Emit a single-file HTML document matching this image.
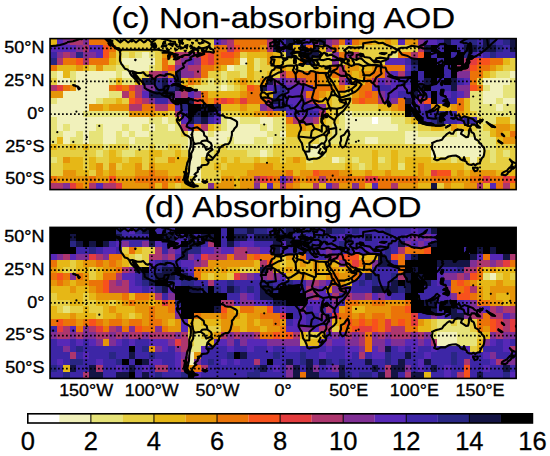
<!DOCTYPE html>
<html><head><meta charset="utf-8"><style>
html,body{margin:0;padding:0;background:#fff;}
body{width:550px;height:456px;overflow:hidden;position:relative;}
svg{position:absolute;left:0;top:0;}
text{font-family:"Liberation Sans",sans-serif;fill:#000;}
</style></head><body>
<svg width="550" height="456" viewBox="0 0 550 456">
<g shape-rendering="crispEdges"><rect x="50.04" y="38.60" width="6.61" height="6.62" fill="#e6b716"/>
<rect x="56.61" y="38.60" width="6.61" height="6.62" fill="#5728b7"/>
<rect x="63.17" y="38.60" width="6.61" height="6.62" fill="#802f95"/>
<rect x="69.74" y="38.60" width="13.18" height="6.62" fill="#ad366e"/>
<rect x="82.87" y="38.60" width="6.61" height="6.62" fill="#802f95"/>
<rect x="89.43" y="38.60" width="19.74" height="6.62" fill="#eb7308"/>
<rect x="109.13" y="38.60" width="105.09" height="6.62" fill="#e6cf42"/>
<rect x="214.17" y="38.60" width="6.61" height="6.62" fill="#5728b7"/>
<rect x="220.73" y="38.60" width="6.61" height="6.62" fill="#802f95"/>
<rect x="227.30" y="38.60" width="6.61" height="6.62" fill="#ad366e"/>
<rect x="233.86" y="38.60" width="32.87" height="6.62" fill="#eb7308"/>
<rect x="266.69" y="38.60" width="6.61" height="6.62" fill="#ad366e"/>
<rect x="273.25" y="38.60" width="6.61" height="6.62" fill="#141444"/>
<rect x="279.82" y="38.60" width="6.62" height="6.62" fill="#3d26a6"/>
<rect x="286.38" y="38.60" width="6.61" height="6.62" fill="#141444"/>
<rect x="292.95" y="38.60" width="6.61" height="6.62" fill="#292684"/>
<rect x="299.51" y="38.60" width="6.61" height="6.62" fill="#3d26a6"/>
<rect x="306.08" y="38.60" width="6.61" height="6.62" fill="#5728b7"/>
<rect x="312.64" y="38.60" width="6.61" height="6.62" fill="#802f95"/>
<rect x="319.21" y="38.60" width="6.61" height="6.62" fill="#141444"/>
<rect x="325.77" y="38.60" width="6.61" height="6.62" fill="#802f95"/>
<rect x="332.34" y="38.60" width="6.61" height="6.62" fill="#ad366e"/>
<rect x="338.90" y="38.60" width="6.61" height="6.62" fill="#eb7308"/>
<rect x="345.47" y="38.60" width="6.61" height="6.62" fill="#5728b7"/>
<rect x="352.03" y="38.60" width="6.61" height="6.62" fill="#eb7308"/>
<rect x="358.60" y="38.60" width="13.18" height="6.62" fill="#e69509"/>
<rect x="371.73" y="38.60" width="13.18" height="6.62" fill="#e6b716"/>
<rect x="384.86" y="38.60" width="6.61" height="6.62" fill="#e69509"/>
<rect x="391.42" y="38.60" width="6.61" height="6.62" fill="#e6b716"/>
<rect x="397.99" y="38.60" width="6.61" height="6.62" fill="#5728b7"/>
<rect x="404.55" y="38.60" width="13.18" height="6.62" fill="#e69509"/>
<rect x="417.68" y="38.60" width="6.62" height="6.62" fill="#802f95"/>
<rect x="424.25" y="38.60" width="13.18" height="6.62" fill="#5728b7"/>
<rect x="437.38" y="38.60" width="6.61" height="6.62" fill="#3d26a6"/>
<rect x="443.94" y="38.60" width="6.62" height="6.62" fill="#141444"/>
<rect x="450.51" y="38.60" width="13.18" height="6.62" fill="#3d26a6"/>
<rect x="463.64" y="38.60" width="13.18" height="6.62" fill="#292684"/>
<rect x="476.77" y="38.60" width="6.61" height="6.62" fill="#3d26a6"/>
<rect x="483.33" y="38.60" width="6.62" height="6.62" fill="#141444"/>
<rect x="489.90" y="38.60" width="6.61" height="6.62" fill="#292684"/>
<rect x="496.46" y="38.60" width="6.62" height="6.62" fill="#3d26a6"/>
<rect x="503.03" y="38.60" width="6.61" height="6.62" fill="#292684"/>
<rect x="509.59" y="38.60" width="6.62" height="6.62" fill="#141444"/>
<rect x="50.04" y="45.17" width="26.31" height="6.61" fill="#5728b7"/>
<rect x="76.30" y="45.17" width="6.61" height="6.61" fill="#802f95"/>
<rect x="82.87" y="45.17" width="6.61" height="6.61" fill="#ad366e"/>
<rect x="89.43" y="45.17" width="13.18" height="6.61" fill="#5728b7"/>
<rect x="102.56" y="45.17" width="6.61" height="6.61" fill="#f8511c"/>
<rect x="109.13" y="45.17" width="6.61" height="6.61" fill="#eb7308"/>
<rect x="115.69" y="45.17" width="98.52" height="6.61" fill="#e6cf42"/>
<rect x="214.17" y="45.17" width="13.18" height="6.61" fill="#eb7308"/>
<rect x="227.30" y="45.17" width="6.61" height="6.61" fill="#ad366e"/>
<rect x="233.86" y="45.17" width="6.61" height="6.61" fill="#f8511c"/>
<rect x="240.43" y="45.17" width="19.74" height="6.61" fill="#eb7308"/>
<rect x="260.12" y="45.17" width="6.61" height="6.61" fill="#e69509"/>
<rect x="266.69" y="45.17" width="6.61" height="6.61" fill="#ad366e"/>
<rect x="273.25" y="45.17" width="6.61" height="6.61" fill="#141444"/>
<rect x="279.82" y="45.17" width="6.62" height="6.61" fill="#5728b7"/>
<rect x="286.38" y="45.17" width="6.61" height="6.61" fill="#141444"/>
<rect x="292.95" y="45.17" width="6.61" height="6.61" fill="#e6b716"/>
<rect x="299.51" y="45.17" width="6.61" height="6.61" fill="#141444"/>
<rect x="306.08" y="45.17" width="6.61" height="6.61" fill="#eb7308"/>
<rect x="312.64" y="45.17" width="6.61" height="6.61" fill="#141444"/>
<rect x="319.21" y="45.17" width="6.61" height="6.61" fill="#e6b716"/>
<rect x="325.77" y="45.17" width="6.61" height="6.61" fill="#802f95"/>
<rect x="332.34" y="45.17" width="6.61" height="6.61" fill="#eb7308"/>
<rect x="338.90" y="45.17" width="13.18" height="6.61" fill="#e6cf42"/>
<rect x="352.03" y="45.17" width="6.61" height="6.61" fill="#e6b716"/>
<rect x="358.60" y="45.17" width="59.13" height="6.61" fill="#e6cf42"/>
<rect x="417.68" y="45.17" width="6.62" height="6.61" fill="#ad366e"/>
<rect x="424.25" y="45.17" width="6.61" height="6.61" fill="#141444"/>
<rect x="430.81" y="45.17" width="6.62" height="6.61" fill="#000000"/>
<rect x="437.38" y="45.17" width="6.61" height="6.61" fill="#3d26a6"/>
<rect x="443.94" y="45.17" width="13.18" height="6.61" fill="#000000"/>
<rect x="457.07" y="45.17" width="6.62" height="6.61" fill="#3d26a6"/>
<rect x="463.64" y="45.17" width="13.18" height="6.61" fill="#141444"/>
<rect x="476.77" y="45.17" width="6.61" height="6.61" fill="#292684"/>
<rect x="483.33" y="45.17" width="13.18" height="6.61" fill="#141444"/>
<rect x="496.46" y="45.17" width="6.62" height="6.61" fill="#292684"/>
<rect x="503.03" y="45.17" width="6.61" height="6.61" fill="#3d26a6"/>
<rect x="509.59" y="45.17" width="6.62" height="6.61" fill="#141444"/>
<rect x="50.04" y="51.73" width="6.61" height="6.62" fill="#3d26a6"/>
<rect x="56.61" y="51.73" width="6.61" height="6.62" fill="#802f95"/>
<rect x="63.17" y="51.73" width="6.61" height="6.62" fill="#ad366e"/>
<rect x="69.74" y="51.73" width="6.61" height="6.62" fill="#802f95"/>
<rect x="76.30" y="51.73" width="6.61" height="6.62" fill="#292684"/>
<rect x="82.87" y="51.73" width="13.18" height="6.62" fill="#802f95"/>
<rect x="96.00" y="51.73" width="6.61" height="6.62" fill="#5728b7"/>
<rect x="102.56" y="51.73" width="6.61" height="6.62" fill="#f8511c"/>
<rect x="109.13" y="51.73" width="6.61" height="6.62" fill="#e69509"/>
<rect x="115.69" y="51.73" width="6.61" height="6.62" fill="#e6cf42"/>
<rect x="122.26" y="51.73" width="6.61" height="6.62" fill="#e6e379"/>
<rect x="128.82" y="51.73" width="6.61" height="6.62" fill="#e6cf42"/>
<rect x="135.39" y="51.73" width="6.61" height="6.62" fill="#e6e379"/>
<rect x="141.95" y="51.73" width="6.62" height="6.62" fill="#f1f1bb"/>
<rect x="148.52" y="51.73" width="6.61" height="6.62" fill="#e6e379"/>
<rect x="155.08" y="51.73" width="6.61" height="6.62" fill="#e6cf42"/>
<rect x="161.65" y="51.73" width="6.61" height="6.62" fill="#e69509"/>
<rect x="168.21" y="51.73" width="6.61" height="6.62" fill="#eb7308"/>
<rect x="174.78" y="51.73" width="13.18" height="6.62" fill="#ad366e"/>
<rect x="187.91" y="51.73" width="6.61" height="6.62" fill="#802f95"/>
<rect x="194.47" y="51.73" width="6.61" height="6.62" fill="#ad366e"/>
<rect x="201.04" y="51.73" width="6.61" height="6.62" fill="#f8511c"/>
<rect x="207.60" y="51.73" width="6.61" height="6.62" fill="#e43c3e"/>
<rect x="214.17" y="51.73" width="6.61" height="6.62" fill="#eb7308"/>
<rect x="220.73" y="51.73" width="13.18" height="6.62" fill="#f8511c"/>
<rect x="233.86" y="51.73" width="6.61" height="6.62" fill="#eb7308"/>
<rect x="240.43" y="51.73" width="6.61" height="6.62" fill="#e6cf42"/>
<rect x="246.99" y="51.73" width="19.74" height="6.62" fill="#e6b716"/>
<rect x="266.69" y="51.73" width="6.61" height="6.62" fill="#e69509"/>
<rect x="273.25" y="51.73" width="6.61" height="6.62" fill="#e6b716"/>
<rect x="279.82" y="51.73" width="6.62" height="6.62" fill="#e6cf42"/>
<rect x="286.38" y="51.73" width="6.61" height="6.62" fill="#141444"/>
<rect x="292.95" y="51.73" width="6.61" height="6.62" fill="#e6cf42"/>
<rect x="299.51" y="51.73" width="19.74" height="6.62" fill="#141444"/>
<rect x="319.21" y="51.73" width="13.18" height="6.62" fill="#e6cf42"/>
<rect x="332.34" y="51.73" width="6.61" height="6.62" fill="#802f95"/>
<rect x="338.90" y="51.73" width="6.61" height="6.62" fill="#eb7308"/>
<rect x="345.47" y="51.73" width="6.61" height="6.62" fill="#802f95"/>
<rect x="352.03" y="51.73" width="6.61" height="6.62" fill="#ad366e"/>
<rect x="358.60" y="51.73" width="32.87" height="6.62" fill="#e6cf42"/>
<rect x="391.42" y="51.73" width="6.61" height="6.62" fill="#e6e379"/>
<rect x="397.99" y="51.73" width="13.18" height="6.62" fill="#eb7308"/>
<rect x="411.12" y="51.73" width="6.61" height="6.62" fill="#ad366e"/>
<rect x="417.68" y="51.73" width="6.62" height="6.62" fill="#f8511c"/>
<rect x="424.25" y="51.73" width="6.61" height="6.62" fill="#000000"/>
<rect x="430.81" y="51.73" width="6.62" height="6.62" fill="#3d26a6"/>
<rect x="437.38" y="51.73" width="13.18" height="6.62" fill="#000000"/>
<rect x="450.51" y="51.73" width="6.61" height="6.62" fill="#3d26a6"/>
<rect x="457.07" y="51.73" width="6.62" height="6.62" fill="#000000"/>
<rect x="463.64" y="51.73" width="6.61" height="6.62" fill="#292684"/>
<rect x="470.20" y="51.73" width="6.62" height="6.62" fill="#3d26a6"/>
<rect x="476.77" y="51.73" width="6.61" height="6.62" fill="#5728b7"/>
<rect x="483.33" y="51.73" width="6.62" height="6.62" fill="#3d26a6"/>
<rect x="489.90" y="51.73" width="6.61" height="6.62" fill="#292684"/>
<rect x="496.46" y="51.73" width="19.75" height="6.62" fill="#3d26a6"/>
<rect x="50.04" y="58.30" width="6.61" height="6.61" fill="#292684"/>
<rect x="56.61" y="58.30" width="6.61" height="6.61" fill="#ad366e"/>
<rect x="63.17" y="58.30" width="13.18" height="6.61" fill="#eb7308"/>
<rect x="76.30" y="58.30" width="6.61" height="6.61" fill="#f8511c"/>
<rect x="82.87" y="58.30" width="6.61" height="6.61" fill="#ad366e"/>
<rect x="89.43" y="58.30" width="19.74" height="6.61" fill="#eb7308"/>
<rect x="109.13" y="58.30" width="6.61" height="6.61" fill="#e6b716"/>
<rect x="115.69" y="58.30" width="6.61" height="6.61" fill="#e6cf42"/>
<rect x="122.26" y="58.30" width="32.88" height="6.61" fill="#f1f1bb"/>
<rect x="155.08" y="58.30" width="6.61" height="6.61" fill="#e6cf42"/>
<rect x="161.65" y="58.30" width="6.61" height="6.61" fill="#eb7308"/>
<rect x="168.21" y="58.30" width="6.61" height="6.61" fill="#e6cf42"/>
<rect x="174.78" y="58.30" width="6.61" height="6.61" fill="#ad366e"/>
<rect x="181.34" y="58.30" width="6.61" height="6.61" fill="#802f95"/>
<rect x="187.91" y="58.30" width="6.61" height="6.61" fill="#5728b7"/>
<rect x="194.47" y="58.30" width="6.61" height="6.61" fill="#802f95"/>
<rect x="201.04" y="58.30" width="6.61" height="6.61" fill="#f8511c"/>
<rect x="207.60" y="58.30" width="6.61" height="6.61" fill="#e43c3e"/>
<rect x="214.17" y="58.30" width="19.74" height="6.61" fill="#eb7308"/>
<rect x="233.86" y="58.30" width="6.61" height="6.61" fill="#e69509"/>
<rect x="240.43" y="58.30" width="6.61" height="6.61" fill="#f1f1bb"/>
<rect x="246.99" y="58.30" width="6.62" height="6.61" fill="#e6b716"/>
<rect x="253.56" y="58.30" width="6.61" height="6.61" fill="#e6e379"/>
<rect x="260.12" y="58.30" width="6.61" height="6.61" fill="#e6cf42"/>
<rect x="266.69" y="58.30" width="6.61" height="6.61" fill="#e69509"/>
<rect x="273.25" y="58.30" width="6.61" height="6.61" fill="#e6b716"/>
<rect x="279.82" y="58.30" width="19.75" height="6.61" fill="#e6cf42"/>
<rect x="299.51" y="58.30" width="6.61" height="6.61" fill="#eb7308"/>
<rect x="306.08" y="58.30" width="6.61" height="6.61" fill="#141444"/>
<rect x="312.64" y="58.30" width="19.74" height="6.61" fill="#e6cf42"/>
<rect x="332.34" y="58.30" width="6.61" height="6.61" fill="#802f95"/>
<rect x="338.90" y="58.30" width="6.61" height="6.61" fill="#e6cf42"/>
<rect x="345.47" y="58.30" width="6.61" height="6.61" fill="#e6b716"/>
<rect x="352.03" y="58.30" width="32.87" height="6.61" fill="#e6cf42"/>
<rect x="384.86" y="58.30" width="19.74" height="6.61" fill="#5728b7"/>
<rect x="404.55" y="58.30" width="6.61" height="6.61" fill="#3d26a6"/>
<rect x="411.12" y="58.30" width="6.61" height="6.61" fill="#141444"/>
<rect x="417.68" y="58.30" width="19.75" height="6.61" fill="#000000"/>
<rect x="437.38" y="58.30" width="6.61" height="6.61" fill="#3d26a6"/>
<rect x="443.94" y="58.30" width="19.75" height="6.61" fill="#000000"/>
<rect x="463.64" y="58.30" width="6.61" height="6.61" fill="#ad366e"/>
<rect x="470.20" y="58.30" width="6.62" height="6.61" fill="#e43c3e"/>
<rect x="476.77" y="58.30" width="13.18" height="6.61" fill="#f8511c"/>
<rect x="489.90" y="58.30" width="13.18" height="6.61" fill="#eb7308"/>
<rect x="503.03" y="58.30" width="6.61" height="6.61" fill="#e6b716"/>
<rect x="509.59" y="58.30" width="6.62" height="6.61" fill="#e6cf42"/>
<rect x="50.04" y="64.86" width="6.61" height="6.61" fill="#eb7308"/>
<rect x="56.61" y="64.86" width="19.74" height="6.61" fill="#e6b716"/>
<rect x="76.30" y="64.86" width="6.61" height="6.61" fill="#e69509"/>
<rect x="82.87" y="64.86" width="6.61" height="6.61" fill="#e6b716"/>
<rect x="89.43" y="64.86" width="6.61" height="6.61" fill="#e6cf42"/>
<rect x="96.00" y="64.86" width="6.61" height="6.61" fill="#e69509"/>
<rect x="102.56" y="64.86" width="13.18" height="6.61" fill="#e6cf42"/>
<rect x="115.69" y="64.86" width="13.18" height="6.61" fill="#e6e379"/>
<rect x="128.82" y="64.86" width="19.75" height="6.61" fill="#f1f1bb"/>
<rect x="148.52" y="64.86" width="6.61" height="6.61" fill="#e6e379"/>
<rect x="155.08" y="64.86" width="6.61" height="6.61" fill="#e6cf42"/>
<rect x="161.65" y="64.86" width="6.61" height="6.61" fill="#eb7308"/>
<rect x="168.21" y="64.86" width="6.61" height="6.61" fill="#f8511c"/>
<rect x="174.78" y="64.86" width="13.18" height="6.61" fill="#802f95"/>
<rect x="187.91" y="64.86" width="13.18" height="6.61" fill="#ad366e"/>
<rect x="201.04" y="64.86" width="13.18" height="6.61" fill="#eb7308"/>
<rect x="214.17" y="64.86" width="6.61" height="6.61" fill="#e69509"/>
<rect x="220.73" y="64.86" width="6.61" height="6.61" fill="#e6b716"/>
<rect x="227.30" y="64.86" width="6.61" height="6.61" fill="#f1f1bb"/>
<rect x="233.86" y="64.86" width="13.18" height="6.61" fill="#e6e379"/>
<rect x="246.99" y="64.86" width="6.62" height="6.61" fill="#e6b716"/>
<rect x="253.56" y="64.86" width="6.61" height="6.61" fill="#e6e379"/>
<rect x="260.12" y="64.86" width="13.18" height="6.61" fill="#e6cf42"/>
<rect x="273.25" y="64.86" width="6.61" height="6.61" fill="#e6b716"/>
<rect x="279.82" y="64.86" width="6.62" height="6.61" fill="#e69509"/>
<rect x="286.38" y="64.86" width="6.61" height="6.61" fill="#e6b716"/>
<rect x="292.95" y="64.86" width="19.74" height="6.61" fill="#e6cf42"/>
<rect x="312.64" y="64.86" width="13.18" height="6.61" fill="#e6b716"/>
<rect x="325.77" y="64.86" width="6.61" height="6.61" fill="#e6cf42"/>
<rect x="332.34" y="64.86" width="6.61" height="6.61" fill="#eb7308"/>
<rect x="338.90" y="64.86" width="6.61" height="6.61" fill="#ad366e"/>
<rect x="345.47" y="64.86" width="13.18" height="6.61" fill="#e69509"/>
<rect x="358.60" y="64.86" width="13.18" height="6.61" fill="#e6b716"/>
<rect x="371.73" y="64.86" width="6.61" height="6.61" fill="#e69509"/>
<rect x="378.29" y="64.86" width="26.31" height="6.61" fill="#eb7308"/>
<rect x="404.55" y="64.86" width="6.61" height="6.61" fill="#5728b7"/>
<rect x="411.12" y="64.86" width="6.61" height="6.61" fill="#292684"/>
<rect x="417.68" y="64.86" width="26.31" height="6.61" fill="#000000"/>
<rect x="443.94" y="64.86" width="6.62" height="6.61" fill="#3d26a6"/>
<rect x="450.51" y="64.86" width="6.61" height="6.61" fill="#000000"/>
<rect x="457.07" y="64.86" width="13.18" height="6.61" fill="#ad366e"/>
<rect x="470.20" y="64.86" width="6.62" height="6.61" fill="#f8511c"/>
<rect x="476.77" y="64.86" width="13.18" height="6.61" fill="#eb7308"/>
<rect x="489.90" y="64.86" width="6.61" height="6.61" fill="#e69509"/>
<rect x="496.46" y="64.86" width="6.62" height="6.61" fill="#e6b716"/>
<rect x="503.03" y="64.86" width="13.18" height="6.61" fill="#e6cf42"/>
<rect x="50.04" y="71.43" width="6.61" height="6.61" fill="#e6e379"/>
<rect x="56.61" y="71.43" width="6.61" height="6.61" fill="#f1f1bb"/>
<rect x="63.17" y="71.43" width="6.61" height="6.61" fill="#e6b716"/>
<rect x="69.74" y="71.43" width="6.61" height="6.61" fill="#e6e379"/>
<rect x="76.30" y="71.43" width="39.44" height="6.61" fill="#f1f1bb"/>
<rect x="115.69" y="71.43" width="6.61" height="6.61" fill="#e6e379"/>
<rect x="122.26" y="71.43" width="13.18" height="6.61" fill="#f1f1bb"/>
<rect x="135.39" y="71.43" width="6.61" height="6.61" fill="#e6e379"/>
<rect x="141.95" y="71.43" width="6.62" height="6.61" fill="#e6cf42"/>
<rect x="148.52" y="71.43" width="13.18" height="6.61" fill="#ad366e"/>
<rect x="161.65" y="71.43" width="6.61" height="6.61" fill="#802f95"/>
<rect x="168.21" y="71.43" width="6.61" height="6.61" fill="#e69509"/>
<rect x="174.78" y="71.43" width="6.61" height="6.61" fill="#141444"/>
<rect x="181.34" y="71.43" width="13.18" height="6.61" fill="#802f95"/>
<rect x="194.47" y="71.43" width="6.61" height="6.61" fill="#ad366e"/>
<rect x="201.04" y="71.43" width="6.61" height="6.61" fill="#eb7308"/>
<rect x="207.60" y="71.43" width="13.18" height="6.61" fill="#e6cf42"/>
<rect x="220.73" y="71.43" width="6.61" height="6.61" fill="#e6e379"/>
<rect x="227.30" y="71.43" width="13.18" height="6.61" fill="#e6cf42"/>
<rect x="240.43" y="71.43" width="6.61" height="6.61" fill="#e6e379"/>
<rect x="246.99" y="71.43" width="6.62" height="6.61" fill="#e6b716"/>
<rect x="253.56" y="71.43" width="13.18" height="6.61" fill="#e6cf42"/>
<rect x="266.69" y="71.43" width="6.61" height="6.61" fill="#e6b716"/>
<rect x="273.25" y="71.43" width="6.61" height="6.61" fill="#e6cf42"/>
<rect x="279.82" y="71.43" width="6.62" height="6.61" fill="#ad366e"/>
<rect x="286.38" y="71.43" width="32.87" height="6.61" fill="#eb7308"/>
<rect x="319.21" y="71.43" width="6.61" height="6.61" fill="#e69509"/>
<rect x="325.77" y="71.43" width="6.61" height="6.61" fill="#e6b716"/>
<rect x="332.34" y="71.43" width="6.61" height="6.61" fill="#eb7308"/>
<rect x="338.90" y="71.43" width="6.61" height="6.61" fill="#ad366e"/>
<rect x="345.47" y="71.43" width="6.61" height="6.61" fill="#e69509"/>
<rect x="352.03" y="71.43" width="6.61" height="6.61" fill="#e6b716"/>
<rect x="358.60" y="71.43" width="13.18" height="6.61" fill="#e69509"/>
<rect x="371.73" y="71.43" width="13.18" height="6.61" fill="#eb7308"/>
<rect x="384.86" y="71.43" width="6.61" height="6.61" fill="#802f95"/>
<rect x="391.42" y="71.43" width="6.61" height="6.61" fill="#5728b7"/>
<rect x="397.99" y="71.43" width="6.61" height="6.61" fill="#ad366e"/>
<rect x="404.55" y="71.43" width="6.61" height="6.61" fill="#3d26a6"/>
<rect x="411.12" y="71.43" width="6.61" height="6.61" fill="#000000"/>
<rect x="417.68" y="71.43" width="6.62" height="6.61" fill="#3d26a6"/>
<rect x="424.25" y="71.43" width="19.74" height="6.61" fill="#000000"/>
<rect x="443.94" y="71.43" width="6.62" height="6.61" fill="#3d26a6"/>
<rect x="450.51" y="71.43" width="6.61" height="6.61" fill="#000000"/>
<rect x="457.07" y="71.43" width="13.18" height="6.61" fill="#802f95"/>
<rect x="470.20" y="71.43" width="13.18" height="6.61" fill="#eb7308"/>
<rect x="483.33" y="71.43" width="6.62" height="6.61" fill="#e6b716"/>
<rect x="489.90" y="71.43" width="6.61" height="6.61" fill="#e6cf42"/>
<rect x="496.46" y="71.43" width="13.18" height="6.61" fill="#e6e379"/>
<rect x="509.59" y="71.43" width="6.62" height="6.61" fill="#f1f1bb"/>
<rect x="50.04" y="77.99" width="6.61" height="6.61" fill="#e6cf42"/>
<rect x="56.61" y="77.99" width="13.18" height="6.61" fill="#f1f1bb"/>
<rect x="69.74" y="77.99" width="6.61" height="6.61" fill="#e6e379"/>
<rect x="76.30" y="77.99" width="32.87" height="6.61" fill="#f1f1bb"/>
<rect x="109.13" y="77.99" width="6.61" height="6.61" fill="#e6e379"/>
<rect x="115.69" y="77.99" width="6.61" height="6.61" fill="#e6b716"/>
<rect x="122.26" y="77.99" width="13.18" height="6.61" fill="#e6e379"/>
<rect x="135.39" y="77.99" width="6.61" height="6.61" fill="#e6b716"/>
<rect x="141.95" y="77.99" width="13.18" height="6.61" fill="#141444"/>
<rect x="155.08" y="77.99" width="6.61" height="6.61" fill="#292684"/>
<rect x="161.65" y="77.99" width="6.61" height="6.61" fill="#141444"/>
<rect x="168.21" y="77.99" width="6.61" height="6.61" fill="#5728b7"/>
<rect x="174.78" y="77.99" width="6.61" height="6.61" fill="#141444"/>
<rect x="181.34" y="77.99" width="6.61" height="6.61" fill="#e6b716"/>
<rect x="187.91" y="77.99" width="6.61" height="6.61" fill="#eb7308"/>
<rect x="194.47" y="77.99" width="6.61" height="6.61" fill="#e69509"/>
<rect x="201.04" y="77.99" width="6.61" height="6.61" fill="#e6cf42"/>
<rect x="207.60" y="77.99" width="6.61" height="6.61" fill="#e6e379"/>
<rect x="214.17" y="77.99" width="6.61" height="6.61" fill="#e6cf42"/>
<rect x="220.73" y="77.99" width="6.61" height="6.61" fill="#e6e379"/>
<rect x="227.30" y="77.99" width="6.61" height="6.61" fill="#e6cf42"/>
<rect x="233.86" y="77.99" width="6.61" height="6.61" fill="#e6b716"/>
<rect x="240.43" y="77.99" width="6.61" height="6.61" fill="#e69509"/>
<rect x="246.99" y="77.99" width="6.62" height="6.61" fill="#e6b716"/>
<rect x="253.56" y="77.99" width="6.61" height="6.61" fill="#e6cf42"/>
<rect x="260.12" y="77.99" width="6.61" height="6.61" fill="#e69509"/>
<rect x="266.69" y="77.99" width="6.61" height="6.61" fill="#141444"/>
<rect x="273.25" y="77.99" width="6.61" height="6.61" fill="#802f95"/>
<rect x="279.82" y="77.99" width="6.62" height="6.61" fill="#5728b7"/>
<rect x="286.38" y="77.99" width="13.18" height="6.61" fill="#802f95"/>
<rect x="299.51" y="77.99" width="6.61" height="6.61" fill="#ad366e"/>
<rect x="306.08" y="77.99" width="13.18" height="6.61" fill="#eb7308"/>
<rect x="319.21" y="77.99" width="6.61" height="6.61" fill="#e69509"/>
<rect x="325.77" y="77.99" width="13.18" height="6.61" fill="#e6b716"/>
<rect x="338.90" y="77.99" width="6.61" height="6.61" fill="#ad366e"/>
<rect x="345.47" y="77.99" width="6.61" height="6.61" fill="#5728b7"/>
<rect x="352.03" y="77.99" width="13.18" height="6.61" fill="#e6b716"/>
<rect x="365.16" y="77.99" width="6.61" height="6.61" fill="#eb7308"/>
<rect x="371.73" y="77.99" width="6.61" height="6.61" fill="#ad366e"/>
<rect x="378.29" y="77.99" width="6.61" height="6.61" fill="#5728b7"/>
<rect x="384.86" y="77.99" width="6.61" height="6.61" fill="#802f95"/>
<rect x="391.42" y="77.99" width="6.61" height="6.61" fill="#5728b7"/>
<rect x="397.99" y="77.99" width="13.18" height="6.61" fill="#3d26a6"/>
<rect x="411.12" y="77.99" width="6.61" height="6.61" fill="#000000"/>
<rect x="417.68" y="77.99" width="6.62" height="6.61" fill="#3d26a6"/>
<rect x="424.25" y="77.99" width="6.61" height="6.61" fill="#141444"/>
<rect x="430.81" y="77.99" width="6.62" height="6.61" fill="#000000"/>
<rect x="437.38" y="77.99" width="6.61" height="6.61" fill="#3d26a6"/>
<rect x="443.94" y="77.99" width="6.62" height="6.61" fill="#000000"/>
<rect x="450.51" y="77.99" width="6.61" height="6.61" fill="#141444"/>
<rect x="457.07" y="77.99" width="6.62" height="6.61" fill="#3d26a6"/>
<rect x="463.64" y="77.99" width="6.61" height="6.61" fill="#5728b7"/>
<rect x="470.20" y="77.99" width="6.62" height="6.61" fill="#eb7308"/>
<rect x="476.77" y="77.99" width="6.61" height="6.61" fill="#e6cf42"/>
<rect x="483.33" y="77.99" width="26.31" height="6.61" fill="#f1f1bb"/>
<rect x="509.59" y="77.99" width="6.62" height="6.61" fill="#e6e379"/>
<rect x="50.04" y="84.56" width="6.61" height="6.62" fill="#ad366e"/>
<rect x="56.61" y="84.56" width="6.61" height="6.62" fill="#e43c3e"/>
<rect x="63.17" y="84.56" width="6.61" height="6.62" fill="#eb7308"/>
<rect x="69.74" y="84.56" width="6.61" height="6.62" fill="#e69509"/>
<rect x="76.30" y="84.56" width="32.87" height="6.62" fill="#f1f1bb"/>
<rect x="109.13" y="84.56" width="6.61" height="6.62" fill="#eb7308"/>
<rect x="115.69" y="84.56" width="6.61" height="6.62" fill="#f8511c"/>
<rect x="122.26" y="84.56" width="6.61" height="6.62" fill="#eb7308"/>
<rect x="128.82" y="84.56" width="6.61" height="6.62" fill="#e43c3e"/>
<rect x="135.39" y="84.56" width="6.61" height="6.62" fill="#ad366e"/>
<rect x="141.95" y="84.56" width="13.18" height="6.62" fill="#802f95"/>
<rect x="155.08" y="84.56" width="6.61" height="6.62" fill="#292684"/>
<rect x="161.65" y="84.56" width="6.61" height="6.62" fill="#141444"/>
<rect x="168.21" y="84.56" width="6.61" height="6.62" fill="#292684"/>
<rect x="174.78" y="84.56" width="6.61" height="6.62" fill="#141444"/>
<rect x="181.34" y="84.56" width="6.61" height="6.62" fill="#eb7308"/>
<rect x="187.91" y="84.56" width="6.61" height="6.62" fill="#e6cf42"/>
<rect x="194.47" y="84.56" width="26.31" height="6.62" fill="#e6e379"/>
<rect x="220.73" y="84.56" width="6.61" height="6.62" fill="#f1f1bb"/>
<rect x="227.30" y="84.56" width="6.61" height="6.62" fill="#e6e379"/>
<rect x="233.86" y="84.56" width="6.61" height="6.62" fill="#e6cf42"/>
<rect x="240.43" y="84.56" width="6.61" height="6.62" fill="#e6b716"/>
<rect x="246.99" y="84.56" width="6.62" height="6.62" fill="#f8511c"/>
<rect x="253.56" y="84.56" width="6.61" height="6.62" fill="#eb7308"/>
<rect x="260.12" y="84.56" width="6.61" height="6.62" fill="#141444"/>
<rect x="266.69" y="84.56" width="6.61" height="6.62" fill="#5728b7"/>
<rect x="273.25" y="84.56" width="6.61" height="6.62" fill="#3d26a6"/>
<rect x="279.82" y="84.56" width="6.62" height="6.62" fill="#292684"/>
<rect x="286.38" y="84.56" width="26.31" height="6.62" fill="#5728b7"/>
<rect x="312.64" y="84.56" width="19.74" height="6.62" fill="#eb7308"/>
<rect x="332.34" y="84.56" width="6.61" height="6.62" fill="#e69509"/>
<rect x="338.90" y="84.56" width="6.61" height="6.62" fill="#eb7308"/>
<rect x="345.47" y="84.56" width="13.18" height="6.62" fill="#e6b716"/>
<rect x="358.60" y="84.56" width="13.18" height="6.62" fill="#eb7308"/>
<rect x="371.73" y="84.56" width="6.61" height="6.62" fill="#5728b7"/>
<rect x="378.29" y="84.56" width="13.18" height="6.62" fill="#3d26a6"/>
<rect x="391.42" y="84.56" width="19.74" height="6.62" fill="#5728b7"/>
<rect x="411.12" y="84.56" width="6.61" height="6.62" fill="#000000"/>
<rect x="417.68" y="84.56" width="6.62" height="6.62" fill="#141444"/>
<rect x="424.25" y="84.56" width="6.61" height="6.62" fill="#000000"/>
<rect x="430.81" y="84.56" width="19.75" height="6.62" fill="#3d26a6"/>
<rect x="450.51" y="84.56" width="6.61" height="6.62" fill="#141444"/>
<rect x="457.07" y="84.56" width="13.18" height="6.62" fill="#802f95"/>
<rect x="470.20" y="84.56" width="6.62" height="6.62" fill="#f8511c"/>
<rect x="476.77" y="84.56" width="6.61" height="6.62" fill="#eb7308"/>
<rect x="483.33" y="84.56" width="6.62" height="6.62" fill="#e6e379"/>
<rect x="489.90" y="84.56" width="13.18" height="6.62" fill="#f1f1bb"/>
<rect x="503.03" y="84.56" width="13.18" height="6.62" fill="#e6e379"/>
<rect x="50.04" y="91.12" width="13.18" height="6.61" fill="#e69509"/>
<rect x="63.17" y="91.12" width="46.00" height="6.61" fill="#f1f1bb"/>
<rect x="109.13" y="91.12" width="13.18" height="6.61" fill="#e6e379"/>
<rect x="122.26" y="91.12" width="6.61" height="6.61" fill="#ad366e"/>
<rect x="128.82" y="91.12" width="6.61" height="6.61" fill="#eb7308"/>
<rect x="135.39" y="91.12" width="6.61" height="6.61" fill="#ad366e"/>
<rect x="141.95" y="91.12" width="6.62" height="6.61" fill="#5728b7"/>
<rect x="148.52" y="91.12" width="26.31" height="6.61" fill="#141444"/>
<rect x="174.78" y="91.12" width="6.61" height="6.61" fill="#802f95"/>
<rect x="181.34" y="91.12" width="6.61" height="6.61" fill="#ad366e"/>
<rect x="187.91" y="91.12" width="6.61" height="6.61" fill="#5728b7"/>
<rect x="194.47" y="91.12" width="6.61" height="6.61" fill="#802f95"/>
<rect x="201.04" y="91.12" width="6.61" height="6.61" fill="#eb7308"/>
<rect x="207.60" y="91.12" width="32.87" height="6.61" fill="#e6b716"/>
<rect x="240.43" y="91.12" width="6.61" height="6.61" fill="#e69509"/>
<rect x="246.99" y="91.12" width="13.18" height="6.61" fill="#eb7308"/>
<rect x="260.12" y="91.12" width="13.18" height="6.61" fill="#e6b716"/>
<rect x="273.25" y="91.12" width="13.18" height="6.61" fill="#292684"/>
<rect x="286.38" y="91.12" width="13.18" height="6.61" fill="#5728b7"/>
<rect x="299.51" y="91.12" width="6.61" height="6.61" fill="#802f95"/>
<rect x="306.08" y="91.12" width="13.18" height="6.61" fill="#eb7308"/>
<rect x="319.21" y="91.12" width="6.61" height="6.61" fill="#e69509"/>
<rect x="325.77" y="91.12" width="6.61" height="6.61" fill="#e6b716"/>
<rect x="332.34" y="91.12" width="6.61" height="6.61" fill="#e6cf42"/>
<rect x="338.90" y="91.12" width="6.61" height="6.61" fill="#e6b716"/>
<rect x="345.47" y="91.12" width="6.61" height="6.61" fill="#e6cf42"/>
<rect x="352.03" y="91.12" width="6.61" height="6.61" fill="#e69509"/>
<rect x="358.60" y="91.12" width="6.61" height="6.61" fill="#eb7308"/>
<rect x="365.16" y="91.12" width="6.61" height="6.61" fill="#f8511c"/>
<rect x="371.73" y="91.12" width="6.61" height="6.61" fill="#eb7308"/>
<rect x="378.29" y="91.12" width="6.61" height="6.61" fill="#802f95"/>
<rect x="384.86" y="91.12" width="13.18" height="6.61" fill="#5728b7"/>
<rect x="397.99" y="91.12" width="13.18" height="6.61" fill="#3d26a6"/>
<rect x="411.12" y="91.12" width="6.61" height="6.61" fill="#141444"/>
<rect x="417.68" y="91.12" width="6.62" height="6.61" fill="#5728b7"/>
<rect x="424.25" y="91.12" width="6.61" height="6.61" fill="#3d26a6"/>
<rect x="430.81" y="91.12" width="6.62" height="6.61" fill="#000000"/>
<rect x="437.38" y="91.12" width="6.61" height="6.61" fill="#3d26a6"/>
<rect x="443.94" y="91.12" width="6.62" height="6.61" fill="#5728b7"/>
<rect x="450.51" y="91.12" width="6.61" height="6.61" fill="#3d26a6"/>
<rect x="457.07" y="91.12" width="6.62" height="6.61" fill="#5728b7"/>
<rect x="463.64" y="91.12" width="6.61" height="6.61" fill="#802f95"/>
<rect x="470.20" y="91.12" width="13.18" height="6.61" fill="#e6e379"/>
<rect x="483.33" y="91.12" width="19.75" height="6.61" fill="#f1f1bb"/>
<rect x="503.03" y="91.12" width="13.18" height="6.61" fill="#e6e379"/>
<rect x="50.04" y="97.69" width="6.61" height="6.61" fill="#e6e379"/>
<rect x="56.61" y="97.69" width="39.44" height="6.61" fill="#f1f1bb"/>
<rect x="96.00" y="97.69" width="6.61" height="6.61" fill="#e6e379"/>
<rect x="102.56" y="97.69" width="13.18" height="6.61" fill="#e6cf42"/>
<rect x="115.69" y="97.69" width="6.61" height="6.61" fill="#e6b716"/>
<rect x="122.26" y="97.69" width="6.61" height="6.61" fill="#e6cf42"/>
<rect x="128.82" y="97.69" width="6.61" height="6.61" fill="#f8511c"/>
<rect x="135.39" y="97.69" width="6.61" height="6.61" fill="#e43c3e"/>
<rect x="141.95" y="97.69" width="6.62" height="6.61" fill="#ad366e"/>
<rect x="148.52" y="97.69" width="6.61" height="6.61" fill="#802f95"/>
<rect x="155.08" y="97.69" width="13.18" height="6.61" fill="#3d26a6"/>
<rect x="168.21" y="97.69" width="6.61" height="6.61" fill="#802f95"/>
<rect x="174.78" y="97.69" width="13.18" height="6.61" fill="#000000"/>
<rect x="187.91" y="97.69" width="6.61" height="6.61" fill="#141444"/>
<rect x="194.47" y="97.69" width="6.61" height="6.61" fill="#e43c3e"/>
<rect x="201.04" y="97.69" width="6.61" height="6.61" fill="#eb7308"/>
<rect x="207.60" y="97.69" width="6.61" height="6.61" fill="#e69509"/>
<rect x="214.17" y="97.69" width="6.61" height="6.61" fill="#f8511c"/>
<rect x="220.73" y="97.69" width="6.61" height="6.61" fill="#e43c3e"/>
<rect x="227.30" y="97.69" width="6.61" height="6.61" fill="#f8511c"/>
<rect x="233.86" y="97.69" width="6.61" height="6.61" fill="#eb7308"/>
<rect x="240.43" y="97.69" width="6.61" height="6.61" fill="#e43c3e"/>
<rect x="246.99" y="97.69" width="19.74" height="6.61" fill="#eb7308"/>
<rect x="266.69" y="97.69" width="6.61" height="6.61" fill="#ad366e"/>
<rect x="273.25" y="97.69" width="6.61" height="6.61" fill="#141444"/>
<rect x="279.82" y="97.69" width="6.62" height="6.61" fill="#3d26a6"/>
<rect x="286.38" y="97.69" width="19.74" height="6.61" fill="#5728b7"/>
<rect x="306.08" y="97.69" width="6.61" height="6.61" fill="#ad366e"/>
<rect x="312.64" y="97.69" width="6.61" height="6.61" fill="#eb7308"/>
<rect x="319.21" y="97.69" width="13.18" height="6.61" fill="#e6b716"/>
<rect x="332.34" y="97.69" width="6.61" height="6.61" fill="#e6cf42"/>
<rect x="338.90" y="97.69" width="6.61" height="6.61" fill="#e6b716"/>
<rect x="345.47" y="97.69" width="6.61" height="6.61" fill="#e6cf42"/>
<rect x="352.03" y="97.69" width="6.61" height="6.61" fill="#eb7308"/>
<rect x="358.60" y="97.69" width="6.61" height="6.61" fill="#f8511c"/>
<rect x="365.16" y="97.69" width="13.18" height="6.61" fill="#eb7308"/>
<rect x="378.29" y="97.69" width="6.61" height="6.61" fill="#ad366e"/>
<rect x="384.86" y="97.69" width="6.61" height="6.61" fill="#5728b7"/>
<rect x="391.42" y="97.69" width="6.61" height="6.61" fill="#802f95"/>
<rect x="397.99" y="97.69" width="6.61" height="6.61" fill="#eb7308"/>
<rect x="404.55" y="97.69" width="6.61" height="6.61" fill="#141444"/>
<rect x="411.12" y="97.69" width="6.61" height="6.61" fill="#5728b7"/>
<rect x="417.68" y="97.69" width="6.62" height="6.61" fill="#ad366e"/>
<rect x="424.25" y="97.69" width="6.61" height="6.61" fill="#f8511c"/>
<rect x="430.81" y="97.69" width="6.62" height="6.61" fill="#000000"/>
<rect x="437.38" y="97.69" width="19.74" height="6.61" fill="#3d26a6"/>
<rect x="457.07" y="97.69" width="6.62" height="6.61" fill="#eb7308"/>
<rect x="463.64" y="97.69" width="6.61" height="6.61" fill="#e6b716"/>
<rect x="470.20" y="97.69" width="13.18" height="6.61" fill="#e6e379"/>
<rect x="483.33" y="97.69" width="13.18" height="6.61" fill="#f1f1bb"/>
<rect x="496.46" y="97.69" width="6.62" height="6.61" fill="#e6e379"/>
<rect x="503.03" y="97.69" width="13.18" height="6.61" fill="#f1f1bb"/>
<rect x="50.04" y="104.25" width="39.44" height="6.61" fill="#f1f1bb"/>
<rect x="89.43" y="104.25" width="13.18" height="6.61" fill="#e69509"/>
<rect x="102.56" y="104.25" width="6.61" height="6.61" fill="#e6b716"/>
<rect x="109.13" y="104.25" width="19.74" height="6.61" fill="#e69509"/>
<rect x="128.82" y="104.25" width="13.18" height="6.61" fill="#ad366e"/>
<rect x="141.95" y="104.25" width="13.18" height="6.61" fill="#eb7308"/>
<rect x="155.08" y="104.25" width="13.18" height="6.61" fill="#ad366e"/>
<rect x="168.21" y="104.25" width="6.61" height="6.61" fill="#eb7308"/>
<rect x="174.78" y="104.25" width="6.61" height="6.61" fill="#5728b7"/>
<rect x="181.34" y="104.25" width="6.61" height="6.61" fill="#292684"/>
<rect x="187.91" y="104.25" width="13.18" height="6.61" fill="#000000"/>
<rect x="201.04" y="104.25" width="6.61" height="6.61" fill="#141444"/>
<rect x="207.60" y="104.25" width="6.61" height="6.61" fill="#000000"/>
<rect x="214.17" y="104.25" width="6.61" height="6.61" fill="#141444"/>
<rect x="220.73" y="104.25" width="19.74" height="6.61" fill="#e6b716"/>
<rect x="240.43" y="104.25" width="6.61" height="6.61" fill="#e69509"/>
<rect x="246.99" y="104.25" width="13.18" height="6.61" fill="#e6b716"/>
<rect x="260.12" y="104.25" width="6.61" height="6.61" fill="#802f95"/>
<rect x="266.69" y="104.25" width="6.61" height="6.61" fill="#ad366e"/>
<rect x="273.25" y="104.25" width="6.61" height="6.61" fill="#3d26a6"/>
<rect x="279.82" y="104.25" width="6.62" height="6.61" fill="#292684"/>
<rect x="286.38" y="104.25" width="6.61" height="6.61" fill="#3d26a6"/>
<rect x="292.95" y="104.25" width="6.61" height="6.61" fill="#5728b7"/>
<rect x="299.51" y="104.25" width="13.18" height="6.61" fill="#3d26a6"/>
<rect x="312.64" y="104.25" width="6.61" height="6.61" fill="#5728b7"/>
<rect x="319.21" y="104.25" width="6.61" height="6.61" fill="#802f95"/>
<rect x="325.77" y="104.25" width="6.61" height="6.61" fill="#e6b716"/>
<rect x="332.34" y="104.25" width="46.00" height="6.61" fill="#e6cf42"/>
<rect x="378.29" y="104.25" width="13.18" height="6.61" fill="#e6b716"/>
<rect x="391.42" y="104.25" width="6.61" height="6.61" fill="#e69509"/>
<rect x="397.99" y="104.25" width="6.61" height="6.61" fill="#eb7308"/>
<rect x="404.55" y="104.25" width="6.61" height="6.61" fill="#000000"/>
<rect x="411.12" y="104.25" width="6.61" height="6.61" fill="#3d26a6"/>
<rect x="417.68" y="104.25" width="6.62" height="6.61" fill="#5728b7"/>
<rect x="424.25" y="104.25" width="6.61" height="6.61" fill="#3d26a6"/>
<rect x="430.81" y="104.25" width="6.62" height="6.61" fill="#e69509"/>
<rect x="437.38" y="104.25" width="13.18" height="6.61" fill="#e6b716"/>
<rect x="450.51" y="104.25" width="6.61" height="6.61" fill="#e69509"/>
<rect x="457.07" y="104.25" width="6.62" height="6.61" fill="#eb7308"/>
<rect x="463.64" y="104.25" width="6.61" height="6.61" fill="#e6b716"/>
<rect x="470.20" y="104.25" width="26.31" height="6.61" fill="#e6e379"/>
<rect x="496.46" y="104.25" width="6.62" height="6.61" fill="#f1f1bb"/>
<rect x="503.03" y="104.25" width="13.18" height="6.61" fill="#e6e379"/>
<rect x="50.04" y="110.82" width="32.87" height="6.61" fill="#f1f1bb"/>
<rect x="82.87" y="110.82" width="46.00" height="6.61" fill="#e6e379"/>
<rect x="128.82" y="110.82" width="26.31" height="6.61" fill="#e69509"/>
<rect x="155.08" y="110.82" width="13.18" height="6.61" fill="#e6b716"/>
<rect x="168.21" y="110.82" width="6.61" height="6.61" fill="#e6cf42"/>
<rect x="174.78" y="110.82" width="6.61" height="6.61" fill="#ad366e"/>
<rect x="181.34" y="110.82" width="6.61" height="6.61" fill="#3d26a6"/>
<rect x="187.91" y="110.82" width="6.61" height="6.61" fill="#000000"/>
<rect x="194.47" y="110.82" width="6.61" height="6.61" fill="#141444"/>
<rect x="201.04" y="110.82" width="6.61" height="6.61" fill="#000000"/>
<rect x="207.60" y="110.82" width="6.61" height="6.61" fill="#141444"/>
<rect x="214.17" y="110.82" width="6.61" height="6.61" fill="#3d26a6"/>
<rect x="220.73" y="110.82" width="19.74" height="6.61" fill="#e6cf42"/>
<rect x="240.43" y="110.82" width="13.18" height="6.61" fill="#e6b716"/>
<rect x="253.56" y="110.82" width="13.18" height="6.61" fill="#e69509"/>
<rect x="266.69" y="110.82" width="6.61" height="6.61" fill="#eb7308"/>
<rect x="273.25" y="110.82" width="6.61" height="6.61" fill="#e69509"/>
<rect x="279.82" y="110.82" width="6.62" height="6.61" fill="#e6b716"/>
<rect x="286.38" y="110.82" width="6.61" height="6.61" fill="#5728b7"/>
<rect x="292.95" y="110.82" width="6.61" height="6.61" fill="#3d26a6"/>
<rect x="299.51" y="110.82" width="6.61" height="6.61" fill="#5728b7"/>
<rect x="306.08" y="110.82" width="13.18" height="6.61" fill="#3d26a6"/>
<rect x="319.21" y="110.82" width="6.61" height="6.61" fill="#ad366e"/>
<rect x="325.77" y="110.82" width="6.61" height="6.61" fill="#e6b716"/>
<rect x="332.34" y="110.82" width="6.61" height="6.61" fill="#e6cf42"/>
<rect x="338.90" y="110.82" width="6.61" height="6.61" fill="#e6e379"/>
<rect x="345.47" y="110.82" width="6.61" height="6.61" fill="#f1f1bb"/>
<rect x="352.03" y="110.82" width="39.44" height="6.61" fill="#e6e379"/>
<rect x="391.42" y="110.82" width="13.18" height="6.61" fill="#e6cf42"/>
<rect x="404.55" y="110.82" width="6.61" height="6.61" fill="#000000"/>
<rect x="411.12" y="110.82" width="6.61" height="6.61" fill="#141444"/>
<rect x="417.68" y="110.82" width="19.75" height="6.61" fill="#3d26a6"/>
<rect x="437.38" y="110.82" width="6.61" height="6.61" fill="#292684"/>
<rect x="443.94" y="110.82" width="13.18" height="6.61" fill="#3d26a6"/>
<rect x="457.07" y="110.82" width="6.62" height="6.61" fill="#e69509"/>
<rect x="463.64" y="110.82" width="6.61" height="6.61" fill="#e6b716"/>
<rect x="470.20" y="110.82" width="6.62" height="6.61" fill="#e6cf42"/>
<rect x="476.77" y="110.82" width="39.44" height="6.61" fill="#e6e379"/>
<rect x="50.04" y="117.38" width="6.61" height="6.61" fill="#e6e379"/>
<rect x="56.61" y="117.38" width="91.96" height="6.61" fill="#f1f1bb"/>
<rect x="148.52" y="117.38" width="13.18" height="6.61" fill="#e6e379"/>
<rect x="161.65" y="117.38" width="6.61" height="6.61" fill="#f1f1bb"/>
<rect x="168.21" y="117.38" width="6.61" height="6.61" fill="#e6e379"/>
<rect x="174.78" y="117.38" width="6.61" height="6.61" fill="#e6cf42"/>
<rect x="181.34" y="117.38" width="6.61" height="6.61" fill="#5728b7"/>
<rect x="187.91" y="117.38" width="6.61" height="6.61" fill="#141444"/>
<rect x="194.47" y="117.38" width="6.61" height="6.61" fill="#292684"/>
<rect x="201.04" y="117.38" width="6.61" height="6.61" fill="#141444"/>
<rect x="207.60" y="117.38" width="6.61" height="6.61" fill="#3d26a6"/>
<rect x="214.17" y="117.38" width="6.61" height="6.61" fill="#5728b7"/>
<rect x="220.73" y="117.38" width="6.61" height="6.61" fill="#e6e379"/>
<rect x="227.30" y="117.38" width="13.18" height="6.61" fill="#f1f1bb"/>
<rect x="240.43" y="117.38" width="19.74" height="6.61" fill="#e6e379"/>
<rect x="260.12" y="117.38" width="13.18" height="6.61" fill="#f1f1bb"/>
<rect x="273.25" y="117.38" width="13.18" height="6.61" fill="#e6e379"/>
<rect x="286.38" y="117.38" width="6.61" height="6.61" fill="#eb7308"/>
<rect x="292.95" y="117.38" width="6.61" height="6.61" fill="#ad366e"/>
<rect x="299.51" y="117.38" width="13.18" height="6.61" fill="#802f95"/>
<rect x="312.64" y="117.38" width="6.61" height="6.61" fill="#ad366e"/>
<rect x="319.21" y="117.38" width="6.61" height="6.61" fill="#e6b716"/>
<rect x="325.77" y="117.38" width="13.18" height="6.61" fill="#e6cf42"/>
<rect x="338.90" y="117.38" width="6.61" height="6.61" fill="#e6e379"/>
<rect x="345.47" y="117.38" width="26.31" height="6.61" fill="#f1f1bb"/>
<rect x="371.73" y="117.38" width="6.61" height="6.61" fill="#ffffff"/>
<rect x="378.29" y="117.38" width="13.18" height="6.61" fill="#f1f1bb"/>
<rect x="391.42" y="117.38" width="13.18" height="6.61" fill="#e6e379"/>
<rect x="404.55" y="117.38" width="6.61" height="6.61" fill="#e6cf42"/>
<rect x="411.12" y="117.38" width="6.61" height="6.61" fill="#e6b716"/>
<rect x="417.68" y="117.38" width="6.62" height="6.61" fill="#141444"/>
<rect x="424.25" y="117.38" width="6.61" height="6.61" fill="#3d26a6"/>
<rect x="430.81" y="117.38" width="6.62" height="6.61" fill="#292684"/>
<rect x="437.38" y="117.38" width="6.61" height="6.61" fill="#141444"/>
<rect x="443.94" y="117.38" width="13.18" height="6.61" fill="#3d26a6"/>
<rect x="457.07" y="117.38" width="6.62" height="6.61" fill="#5728b7"/>
<rect x="463.64" y="117.38" width="6.61" height="6.61" fill="#292684"/>
<rect x="470.20" y="117.38" width="6.62" height="6.61" fill="#3d26a6"/>
<rect x="476.77" y="117.38" width="6.61" height="6.61" fill="#e6cf42"/>
<rect x="483.33" y="117.38" width="13.18" height="6.61" fill="#e6e379"/>
<rect x="496.46" y="117.38" width="13.18" height="6.61" fill="#e6b716"/>
<rect x="509.59" y="117.38" width="6.62" height="6.61" fill="#e6e379"/>
<rect x="50.04" y="123.95" width="6.61" height="6.61" fill="#e6e379"/>
<rect x="56.61" y="123.95" width="6.61" height="6.61" fill="#f1f1bb"/>
<rect x="63.17" y="123.95" width="6.61" height="6.61" fill="#e6e379"/>
<rect x="69.74" y="123.95" width="26.31" height="6.61" fill="#f1f1bb"/>
<rect x="96.00" y="123.95" width="6.61" height="6.61" fill="#e6e379"/>
<rect x="102.56" y="123.95" width="19.74" height="6.61" fill="#f1f1bb"/>
<rect x="122.26" y="123.95" width="6.61" height="6.61" fill="#e6e379"/>
<rect x="128.82" y="123.95" width="13.18" height="6.61" fill="#f1f1bb"/>
<rect x="141.95" y="123.95" width="6.62" height="6.61" fill="#e6e379"/>
<rect x="148.52" y="123.95" width="6.61" height="6.61" fill="#f1f1bb"/>
<rect x="155.08" y="123.95" width="13.18" height="6.61" fill="#e6e379"/>
<rect x="168.21" y="123.95" width="6.61" height="6.61" fill="#f1f1bb"/>
<rect x="174.78" y="123.95" width="6.61" height="6.61" fill="#e6e379"/>
<rect x="181.34" y="123.95" width="6.61" height="6.61" fill="#ad366e"/>
<rect x="187.91" y="123.95" width="6.61" height="6.61" fill="#5728b7"/>
<rect x="194.47" y="123.95" width="6.61" height="6.61" fill="#eb7308"/>
<rect x="201.04" y="123.95" width="6.61" height="6.61" fill="#ad366e"/>
<rect x="207.60" y="123.95" width="6.61" height="6.61" fill="#e6b716"/>
<rect x="214.17" y="123.95" width="6.61" height="6.61" fill="#e6cf42"/>
<rect x="220.73" y="123.95" width="6.61" height="6.61" fill="#e6e379"/>
<rect x="227.30" y="123.95" width="32.87" height="6.61" fill="#f1f1bb"/>
<rect x="260.12" y="123.95" width="6.61" height="6.61" fill="#e6e379"/>
<rect x="266.69" y="123.95" width="6.61" height="6.61" fill="#f1f1bb"/>
<rect x="273.25" y="123.95" width="13.18" height="6.61" fill="#e6e379"/>
<rect x="286.38" y="123.95" width="13.18" height="6.61" fill="#e6b716"/>
<rect x="299.51" y="123.95" width="6.61" height="6.61" fill="#e69509"/>
<rect x="306.08" y="123.95" width="13.18" height="6.61" fill="#e6b716"/>
<rect x="319.21" y="123.95" width="13.18" height="6.61" fill="#e6cf42"/>
<rect x="332.34" y="123.95" width="13.18" height="6.61" fill="#e6e379"/>
<rect x="345.47" y="123.95" width="52.57" height="6.61" fill="#f1f1bb"/>
<rect x="397.99" y="123.95" width="19.74" height="6.61" fill="#e6e379"/>
<rect x="417.68" y="123.95" width="13.18" height="6.61" fill="#e6cf42"/>
<rect x="430.81" y="123.95" width="13.18" height="6.61" fill="#e6b716"/>
<rect x="443.94" y="123.95" width="6.62" height="6.61" fill="#e6cf42"/>
<rect x="450.51" y="123.95" width="6.61" height="6.61" fill="#e69509"/>
<rect x="457.07" y="123.95" width="13.18" height="6.61" fill="#e6b716"/>
<rect x="470.20" y="123.95" width="6.62" height="6.61" fill="#e6cf42"/>
<rect x="476.77" y="123.95" width="6.61" height="6.61" fill="#e6e379"/>
<rect x="483.33" y="123.95" width="6.62" height="6.61" fill="#e6cf42"/>
<rect x="489.90" y="123.95" width="6.61" height="6.61" fill="#e6b716"/>
<rect x="496.46" y="123.95" width="13.18" height="6.61" fill="#e69509"/>
<rect x="509.59" y="123.95" width="6.62" height="6.61" fill="#e6b716"/>
<rect x="50.04" y="130.51" width="13.18" height="6.61" fill="#e6e379"/>
<rect x="63.17" y="130.51" width="13.18" height="6.61" fill="#f1f1bb"/>
<rect x="76.30" y="130.51" width="6.61" height="6.61" fill="#e6e379"/>
<rect x="82.87" y="130.51" width="6.61" height="6.61" fill="#f1f1bb"/>
<rect x="89.43" y="130.51" width="13.18" height="6.61" fill="#e6e379"/>
<rect x="102.56" y="130.51" width="13.18" height="6.61" fill="#f1f1bb"/>
<rect x="115.69" y="130.51" width="6.61" height="6.61" fill="#e6e379"/>
<rect x="122.26" y="130.51" width="6.61" height="6.61" fill="#f1f1bb"/>
<rect x="128.82" y="130.51" width="6.61" height="6.61" fill="#e6e379"/>
<rect x="135.39" y="130.51" width="13.18" height="6.61" fill="#f1f1bb"/>
<rect x="148.52" y="130.51" width="32.87" height="6.61" fill="#e6e379"/>
<rect x="181.34" y="130.51" width="6.61" height="6.61" fill="#e6cf42"/>
<rect x="187.91" y="130.51" width="19.74" height="6.61" fill="#f1f1bb"/>
<rect x="207.60" y="130.51" width="6.61" height="6.61" fill="#e6e379"/>
<rect x="214.17" y="130.51" width="52.57" height="6.61" fill="#f1f1bb"/>
<rect x="266.69" y="130.51" width="13.18" height="6.61" fill="#e6e379"/>
<rect x="279.82" y="130.51" width="6.62" height="6.61" fill="#f1f1bb"/>
<rect x="286.38" y="130.51" width="13.18" height="6.61" fill="#e6b716"/>
<rect x="299.51" y="130.51" width="32.87" height="6.61" fill="#e6cf42"/>
<rect x="332.34" y="130.51" width="72.26" height="6.61" fill="#e6e379"/>
<rect x="404.55" y="130.51" width="13.18" height="6.61" fill="#f1f1bb"/>
<rect x="417.68" y="130.51" width="39.44" height="6.61" fill="#e6e379"/>
<rect x="457.07" y="130.51" width="6.62" height="6.61" fill="#f1f1bb"/>
<rect x="463.64" y="130.51" width="26.31" height="6.61" fill="#e6e379"/>
<rect x="489.90" y="130.51" width="6.61" height="6.61" fill="#e6b716"/>
<rect x="496.46" y="130.51" width="6.62" height="6.61" fill="#e69509"/>
<rect x="503.03" y="130.51" width="6.61" height="6.61" fill="#e6b716"/>
<rect x="509.59" y="130.51" width="6.62" height="6.61" fill="#eb7308"/>
<rect x="50.04" y="137.08" width="6.61" height="6.61" fill="#e6e379"/>
<rect x="56.61" y="137.08" width="6.61" height="6.61" fill="#e6b716"/>
<rect x="63.17" y="137.08" width="6.61" height="6.61" fill="#f1f1bb"/>
<rect x="69.74" y="137.08" width="13.18" height="6.61" fill="#e6e379"/>
<rect x="82.87" y="137.08" width="6.61" height="6.61" fill="#f1f1bb"/>
<rect x="89.43" y="137.08" width="13.18" height="6.61" fill="#e6e379"/>
<rect x="102.56" y="137.08" width="13.18" height="6.61" fill="#f1f1bb"/>
<rect x="115.69" y="137.08" width="13.18" height="6.61" fill="#e6e379"/>
<rect x="128.82" y="137.08" width="6.61" height="6.61" fill="#f1f1bb"/>
<rect x="135.39" y="137.08" width="52.57" height="6.61" fill="#e6e379"/>
<rect x="187.91" y="137.08" width="39.44" height="6.61" fill="#f1f1bb"/>
<rect x="227.30" y="137.08" width="6.61" height="6.61" fill="#e6e379"/>
<rect x="233.86" y="137.08" width="19.75" height="6.61" fill="#f1f1bb"/>
<rect x="253.56" y="137.08" width="13.18" height="6.61" fill="#e6e379"/>
<rect x="266.69" y="137.08" width="6.61" height="6.61" fill="#f1f1bb"/>
<rect x="273.25" y="137.08" width="13.18" height="6.61" fill="#e6e379"/>
<rect x="286.38" y="137.08" width="32.87" height="6.61" fill="#e6cf42"/>
<rect x="319.21" y="137.08" width="46.00" height="6.61" fill="#e6e379"/>
<rect x="365.16" y="137.08" width="13.18" height="6.61" fill="#f1f1bb"/>
<rect x="378.29" y="137.08" width="26.31" height="6.61" fill="#e6e379"/>
<rect x="404.55" y="137.08" width="72.27" height="6.61" fill="#f1f1bb"/>
<rect x="476.77" y="137.08" width="19.74" height="6.61" fill="#e6e379"/>
<rect x="496.46" y="137.08" width="6.62" height="6.61" fill="#e6b716"/>
<rect x="503.03" y="137.08" width="13.18" height="6.61" fill="#e69509"/>
<rect x="50.04" y="143.64" width="6.61" height="6.61" fill="#e6b716"/>
<rect x="56.61" y="143.64" width="13.18" height="6.61" fill="#e6cf42"/>
<rect x="69.74" y="143.64" width="6.61" height="6.61" fill="#e6b716"/>
<rect x="76.30" y="143.64" width="6.61" height="6.61" fill="#e6cf42"/>
<rect x="82.87" y="143.64" width="6.61" height="6.61" fill="#e6b716"/>
<rect x="89.43" y="143.64" width="13.18" height="6.61" fill="#e6cf42"/>
<rect x="102.56" y="143.64" width="6.61" height="6.61" fill="#e6e379"/>
<rect x="109.13" y="143.64" width="19.74" height="6.61" fill="#e6cf42"/>
<rect x="128.82" y="143.64" width="19.75" height="6.61" fill="#e6e379"/>
<rect x="148.52" y="143.64" width="6.61" height="6.61" fill="#e6cf42"/>
<rect x="155.08" y="143.64" width="13.18" height="6.61" fill="#e6e379"/>
<rect x="168.21" y="143.64" width="13.18" height="6.61" fill="#e6cf42"/>
<rect x="181.34" y="143.64" width="6.61" height="6.61" fill="#e6e379"/>
<rect x="187.91" y="143.64" width="26.31" height="6.61" fill="#f1f1bb"/>
<rect x="214.17" y="143.64" width="6.61" height="6.61" fill="#e6e379"/>
<rect x="220.73" y="143.64" width="6.61" height="6.61" fill="#e6cf42"/>
<rect x="227.30" y="143.64" width="46.00" height="6.61" fill="#e6e379"/>
<rect x="273.25" y="143.64" width="32.88" height="6.61" fill="#e6cf42"/>
<rect x="306.08" y="143.64" width="6.61" height="6.61" fill="#e6e379"/>
<rect x="312.64" y="143.64" width="6.61" height="6.61" fill="#f1f1bb"/>
<rect x="319.21" y="143.64" width="6.61" height="6.61" fill="#e6e379"/>
<rect x="325.77" y="143.64" width="105.09" height="6.61" fill="#e6cf42"/>
<rect x="430.81" y="143.64" width="52.57" height="6.61" fill="#f1f1bb"/>
<rect x="483.33" y="143.64" width="13.18" height="6.61" fill="#e6e379"/>
<rect x="496.46" y="143.64" width="19.75" height="6.61" fill="#e6cf42"/>
<rect x="50.04" y="150.21" width="46.00" height="6.61" fill="#e6cf42"/>
<rect x="96.00" y="150.21" width="6.61" height="6.61" fill="#e6e379"/>
<rect x="102.56" y="150.21" width="6.61" height="6.61" fill="#e6cf42"/>
<rect x="109.13" y="150.21" width="6.61" height="6.61" fill="#e6b716"/>
<rect x="115.69" y="150.21" width="6.61" height="6.61" fill="#e6cf42"/>
<rect x="122.26" y="150.21" width="13.18" height="6.61" fill="#e6e379"/>
<rect x="135.39" y="150.21" width="13.18" height="6.61" fill="#e6cf42"/>
<rect x="148.52" y="150.21" width="13.18" height="6.61" fill="#e6b716"/>
<rect x="161.65" y="150.21" width="13.18" height="6.61" fill="#e6cf42"/>
<rect x="174.78" y="150.21" width="6.61" height="6.61" fill="#e6b716"/>
<rect x="181.34" y="150.21" width="6.61" height="6.61" fill="#e6cf42"/>
<rect x="187.91" y="150.21" width="19.74" height="6.61" fill="#f1f1bb"/>
<rect x="207.60" y="150.21" width="6.61" height="6.61" fill="#e6e379"/>
<rect x="214.17" y="150.21" width="32.87" height="6.61" fill="#e6cf42"/>
<rect x="246.99" y="150.21" width="13.18" height="6.61" fill="#e6e379"/>
<rect x="260.12" y="150.21" width="6.61" height="6.61" fill="#f1f1bb"/>
<rect x="266.69" y="150.21" width="6.61" height="6.61" fill="#e6e379"/>
<rect x="273.25" y="150.21" width="32.88" height="6.61" fill="#e6cf42"/>
<rect x="306.08" y="150.21" width="13.18" height="6.61" fill="#f1f1bb"/>
<rect x="319.21" y="150.21" width="6.61" height="6.61" fill="#e6e379"/>
<rect x="325.77" y="150.21" width="46.00" height="6.61" fill="#e6cf42"/>
<rect x="371.73" y="150.21" width="6.61" height="6.61" fill="#e6b716"/>
<rect x="378.29" y="150.21" width="13.18" height="6.61" fill="#e6cf42"/>
<rect x="391.42" y="150.21" width="6.61" height="6.61" fill="#e6b716"/>
<rect x="397.99" y="150.21" width="32.87" height="6.61" fill="#e6cf42"/>
<rect x="430.81" y="150.21" width="52.57" height="6.61" fill="#f1f1bb"/>
<rect x="483.33" y="150.21" width="6.62" height="6.61" fill="#e6cf42"/>
<rect x="489.90" y="150.21" width="6.61" height="6.61" fill="#e6e379"/>
<rect x="496.46" y="150.21" width="6.62" height="6.61" fill="#e6cf42"/>
<rect x="503.03" y="150.21" width="6.61" height="6.61" fill="#e6e379"/>
<rect x="509.59" y="150.21" width="6.62" height="6.61" fill="#e6cf42"/>
<rect x="50.04" y="156.77" width="6.61" height="6.61" fill="#e6e379"/>
<rect x="56.61" y="156.77" width="6.61" height="6.61" fill="#e6cf42"/>
<rect x="63.17" y="156.77" width="6.61" height="6.61" fill="#e69509"/>
<rect x="69.74" y="156.77" width="13.18" height="6.61" fill="#e6b716"/>
<rect x="82.87" y="156.77" width="6.61" height="6.61" fill="#e6cf42"/>
<rect x="89.43" y="156.77" width="6.61" height="6.61" fill="#e6b716"/>
<rect x="96.00" y="156.77" width="13.18" height="6.61" fill="#e6cf42"/>
<rect x="109.13" y="156.77" width="13.18" height="6.61" fill="#e6b716"/>
<rect x="122.26" y="156.77" width="6.61" height="6.61" fill="#e6cf42"/>
<rect x="128.82" y="156.77" width="13.18" height="6.61" fill="#e6b716"/>
<rect x="141.95" y="156.77" width="6.62" height="6.61" fill="#e6cf42"/>
<rect x="148.52" y="156.77" width="6.61" height="6.61" fill="#e6b716"/>
<rect x="155.08" y="156.77" width="13.18" height="6.61" fill="#e6cf42"/>
<rect x="168.21" y="156.77" width="6.61" height="6.61" fill="#e69509"/>
<rect x="174.78" y="156.77" width="13.18" height="6.61" fill="#e6b716"/>
<rect x="187.91" y="156.77" width="13.18" height="6.61" fill="#f1f1bb"/>
<rect x="201.04" y="156.77" width="19.74" height="6.61" fill="#e6cf42"/>
<rect x="220.73" y="156.77" width="6.61" height="6.61" fill="#e6b716"/>
<rect x="227.30" y="156.77" width="6.61" height="6.61" fill="#e6cf42"/>
<rect x="233.86" y="156.77" width="6.61" height="6.61" fill="#e6b716"/>
<rect x="240.43" y="156.77" width="13.18" height="6.61" fill="#e6cf42"/>
<rect x="253.56" y="156.77" width="6.61" height="6.61" fill="#e6b716"/>
<rect x="260.12" y="156.77" width="6.61" height="6.61" fill="#e6cf42"/>
<rect x="266.69" y="156.77" width="13.18" height="6.61" fill="#e6b716"/>
<rect x="279.82" y="156.77" width="6.62" height="6.61" fill="#e6cf42"/>
<rect x="286.38" y="156.77" width="6.61" height="6.61" fill="#e6b716"/>
<rect x="292.95" y="156.77" width="6.61" height="6.61" fill="#e69509"/>
<rect x="299.51" y="156.77" width="6.61" height="6.61" fill="#e6b716"/>
<rect x="306.08" y="156.77" width="6.61" height="6.61" fill="#e6e379"/>
<rect x="312.64" y="156.77" width="19.74" height="6.61" fill="#e6cf42"/>
<rect x="332.34" y="156.77" width="6.61" height="6.61" fill="#f1f1bb"/>
<rect x="338.90" y="156.77" width="6.61" height="6.61" fill="#e6e379"/>
<rect x="345.47" y="156.77" width="6.61" height="6.61" fill="#e6cf42"/>
<rect x="352.03" y="156.77" width="6.61" height="6.61" fill="#e6e379"/>
<rect x="358.60" y="156.77" width="13.18" height="6.61" fill="#e6cf42"/>
<rect x="371.73" y="156.77" width="6.61" height="6.61" fill="#e6b716"/>
<rect x="378.29" y="156.77" width="6.61" height="6.61" fill="#e6e379"/>
<rect x="384.86" y="156.77" width="6.61" height="6.61" fill="#e6cf42"/>
<rect x="391.42" y="156.77" width="6.61" height="6.61" fill="#e6b716"/>
<rect x="397.99" y="156.77" width="6.61" height="6.61" fill="#e6cf42"/>
<rect x="404.55" y="156.77" width="26.31" height="6.61" fill="#e6b716"/>
<rect x="430.81" y="156.77" width="19.75" height="6.61" fill="#e6cf42"/>
<rect x="450.51" y="156.77" width="6.61" height="6.61" fill="#e6e379"/>
<rect x="457.07" y="156.77" width="13.18" height="6.61" fill="#e6cf42"/>
<rect x="470.20" y="156.77" width="6.62" height="6.61" fill="#f1f1bb"/>
<rect x="476.77" y="156.77" width="13.18" height="6.61" fill="#e6cf42"/>
<rect x="489.90" y="156.77" width="6.61" height="6.61" fill="#e6e379"/>
<rect x="496.46" y="156.77" width="19.75" height="6.61" fill="#e6cf42"/>
<rect x="50.04" y="163.34" width="13.18" height="6.61" fill="#e6cf42"/>
<rect x="63.17" y="163.34" width="19.74" height="6.61" fill="#e6b716"/>
<rect x="82.87" y="163.34" width="6.61" height="6.61" fill="#e6cf42"/>
<rect x="89.43" y="163.34" width="6.61" height="6.61" fill="#e6b716"/>
<rect x="96.00" y="163.34" width="6.61" height="6.61" fill="#e69509"/>
<rect x="102.56" y="163.34" width="6.61" height="6.61" fill="#e6cf42"/>
<rect x="109.13" y="163.34" width="6.61" height="6.61" fill="#e69509"/>
<rect x="115.69" y="163.34" width="6.61" height="6.61" fill="#e6cf42"/>
<rect x="122.26" y="163.34" width="13.18" height="6.61" fill="#e6b716"/>
<rect x="135.39" y="163.34" width="6.61" height="6.61" fill="#e69509"/>
<rect x="141.95" y="163.34" width="6.62" height="6.61" fill="#e6cf42"/>
<rect x="148.52" y="163.34" width="6.61" height="6.61" fill="#e69509"/>
<rect x="155.08" y="163.34" width="32.87" height="6.61" fill="#e6b716"/>
<rect x="187.91" y="163.34" width="13.18" height="6.61" fill="#f1f1bb"/>
<rect x="201.04" y="163.34" width="13.18" height="6.61" fill="#e6cf42"/>
<rect x="214.17" y="163.34" width="6.61" height="6.61" fill="#e6b716"/>
<rect x="220.73" y="163.34" width="6.61" height="6.61" fill="#e6cf42"/>
<rect x="227.30" y="163.34" width="26.31" height="6.61" fill="#e6b716"/>
<rect x="253.56" y="163.34" width="19.74" height="6.61" fill="#e69509"/>
<rect x="273.25" y="163.34" width="32.88" height="6.61" fill="#e6b716"/>
<rect x="306.08" y="163.34" width="39.44" height="6.61" fill="#e6cf42"/>
<rect x="345.47" y="163.34" width="6.61" height="6.61" fill="#e6b716"/>
<rect x="352.03" y="163.34" width="6.61" height="6.61" fill="#e6cf42"/>
<rect x="358.60" y="163.34" width="6.61" height="6.61" fill="#e6e379"/>
<rect x="365.16" y="163.34" width="6.61" height="6.61" fill="#e6cf42"/>
<rect x="371.73" y="163.34" width="6.61" height="6.61" fill="#e6b716"/>
<rect x="378.29" y="163.34" width="13.18" height="6.61" fill="#e6cf42"/>
<rect x="391.42" y="163.34" width="6.61" height="6.61" fill="#e6b716"/>
<rect x="397.99" y="163.34" width="6.61" height="6.61" fill="#e6e379"/>
<rect x="404.55" y="163.34" width="13.18" height="6.61" fill="#e6b716"/>
<rect x="417.68" y="163.34" width="6.62" height="6.61" fill="#e69509"/>
<rect x="424.25" y="163.34" width="39.44" height="6.61" fill="#e6b716"/>
<rect x="463.64" y="163.34" width="52.57" height="6.61" fill="#e6cf42"/>
<rect x="50.04" y="169.90" width="13.18" height="6.62" fill="#e6cf42"/>
<rect x="63.17" y="169.90" width="13.18" height="6.62" fill="#e69509"/>
<rect x="76.30" y="169.90" width="13.18" height="6.62" fill="#e6b716"/>
<rect x="89.43" y="169.90" width="6.61" height="6.62" fill="#e6cf42"/>
<rect x="96.00" y="169.90" width="6.61" height="6.62" fill="#e69509"/>
<rect x="102.56" y="169.90" width="6.61" height="6.62" fill="#e6b716"/>
<rect x="109.13" y="169.90" width="6.61" height="6.62" fill="#e69509"/>
<rect x="115.69" y="169.90" width="19.74" height="6.62" fill="#e6b716"/>
<rect x="135.39" y="169.90" width="13.18" height="6.62" fill="#e69509"/>
<rect x="148.52" y="169.90" width="6.61" height="6.62" fill="#eb7308"/>
<rect x="155.08" y="169.90" width="13.18" height="6.62" fill="#e69509"/>
<rect x="168.21" y="169.90" width="19.74" height="6.62" fill="#e6b716"/>
<rect x="187.91" y="169.90" width="13.18" height="6.62" fill="#f1f1bb"/>
<rect x="201.04" y="169.90" width="19.74" height="6.62" fill="#e6cf42"/>
<rect x="220.73" y="169.90" width="26.31" height="6.62" fill="#e6b716"/>
<rect x="246.99" y="169.90" width="39.44" height="6.62" fill="#e69509"/>
<rect x="286.38" y="169.90" width="6.61" height="6.62" fill="#eb7308"/>
<rect x="292.95" y="169.90" width="6.61" height="6.62" fill="#e6b716"/>
<rect x="299.51" y="169.90" width="13.18" height="6.62" fill="#e69509"/>
<rect x="312.64" y="169.90" width="6.61" height="6.62" fill="#f8511c"/>
<rect x="319.21" y="169.90" width="19.74" height="6.62" fill="#eb7308"/>
<rect x="338.90" y="169.90" width="13.18" height="6.62" fill="#e69509"/>
<rect x="352.03" y="169.90" width="13.18" height="6.62" fill="#e6b716"/>
<rect x="365.16" y="169.90" width="6.61" height="6.62" fill="#e69509"/>
<rect x="371.73" y="169.90" width="13.18" height="6.62" fill="#e6b716"/>
<rect x="384.86" y="169.90" width="6.61" height="6.62" fill="#e69509"/>
<rect x="391.42" y="169.90" width="26.31" height="6.62" fill="#e6b716"/>
<rect x="417.68" y="169.90" width="6.62" height="6.62" fill="#e69509"/>
<rect x="424.25" y="169.90" width="6.61" height="6.62" fill="#e6b716"/>
<rect x="430.81" y="169.90" width="6.62" height="6.62" fill="#e43c3e"/>
<rect x="437.38" y="169.90" width="13.18" height="6.62" fill="#f8511c"/>
<rect x="450.51" y="169.90" width="6.61" height="6.62" fill="#e6b716"/>
<rect x="457.07" y="169.90" width="6.62" height="6.62" fill="#e69509"/>
<rect x="463.64" y="169.90" width="6.61" height="6.62" fill="#e6b716"/>
<rect x="470.20" y="169.90" width="26.31" height="6.62" fill="#e69509"/>
<rect x="496.46" y="169.90" width="19.75" height="6.62" fill="#e6b716"/>
<rect x="50.04" y="176.47" width="6.61" height="6.61" fill="#eb7308"/>
<rect x="56.61" y="176.47" width="32.87" height="6.61" fill="#e69509"/>
<rect x="89.43" y="176.47" width="6.61" height="6.61" fill="#eb7308"/>
<rect x="96.00" y="176.47" width="13.18" height="6.61" fill="#e69509"/>
<rect x="109.13" y="176.47" width="6.61" height="6.61" fill="#f8511c"/>
<rect x="115.69" y="176.47" width="19.74" height="6.61" fill="#e69509"/>
<rect x="135.39" y="176.47" width="32.88" height="6.61" fill="#eb7308"/>
<rect x="168.21" y="176.47" width="6.61" height="6.61" fill="#e69509"/>
<rect x="174.78" y="176.47" width="6.61" height="6.61" fill="#eb7308"/>
<rect x="181.34" y="176.47" width="6.61" height="6.61" fill="#e69509"/>
<rect x="187.91" y="176.47" width="6.61" height="6.61" fill="#e6cf42"/>
<rect x="194.47" y="176.47" width="6.61" height="6.61" fill="#f1f1bb"/>
<rect x="201.04" y="176.47" width="19.74" height="6.61" fill="#e6cf42"/>
<rect x="220.73" y="176.47" width="13.18" height="6.61" fill="#e69509"/>
<rect x="233.86" y="176.47" width="6.61" height="6.61" fill="#e6b716"/>
<rect x="240.43" y="176.47" width="13.18" height="6.61" fill="#e69509"/>
<rect x="253.56" y="176.47" width="6.61" height="6.61" fill="#ad366e"/>
<rect x="260.12" y="176.47" width="6.61" height="6.61" fill="#e43c3e"/>
<rect x="266.69" y="176.47" width="6.61" height="6.61" fill="#f8511c"/>
<rect x="273.25" y="176.47" width="6.61" height="6.61" fill="#eb7308"/>
<rect x="279.82" y="176.47" width="6.62" height="6.61" fill="#5728b7"/>
<rect x="286.38" y="176.47" width="6.61" height="6.61" fill="#ad366e"/>
<rect x="292.95" y="176.47" width="6.61" height="6.61" fill="#eb7308"/>
<rect x="299.51" y="176.47" width="6.61" height="6.61" fill="#e69509"/>
<rect x="306.08" y="176.47" width="13.18" height="6.61" fill="#eb7308"/>
<rect x="319.21" y="176.47" width="6.61" height="6.61" fill="#ad366e"/>
<rect x="325.77" y="176.47" width="39.44" height="6.61" fill="#eb7308"/>
<rect x="365.16" y="176.47" width="13.18" height="6.61" fill="#e43c3e"/>
<rect x="378.29" y="176.47" width="39.44" height="6.61" fill="#eb7308"/>
<rect x="417.68" y="176.47" width="13.18" height="6.61" fill="#e69509"/>
<rect x="430.81" y="176.47" width="19.75" height="6.61" fill="#eb7308"/>
<rect x="450.51" y="176.47" width="19.74" height="6.61" fill="#e69509"/>
<rect x="470.20" y="176.47" width="13.18" height="6.61" fill="#eb7308"/>
<rect x="483.33" y="176.47" width="6.62" height="6.61" fill="#e43c3e"/>
<rect x="489.90" y="176.47" width="13.18" height="6.61" fill="#eb7308"/>
<rect x="503.03" y="176.47" width="6.61" height="6.61" fill="#e43c3e"/>
<rect x="509.59" y="176.47" width="6.62" height="6.61" fill="#f8511c"/>
<rect x="50.04" y="183.03" width="13.18" height="6.62" fill="#ad366e"/>
<rect x="63.17" y="183.03" width="6.61" height="6.62" fill="#802f95"/>
<rect x="69.74" y="183.03" width="6.61" height="6.62" fill="#e43c3e"/>
<rect x="76.30" y="183.03" width="6.61" height="6.62" fill="#eb7308"/>
<rect x="82.87" y="183.03" width="6.61" height="6.62" fill="#e69509"/>
<rect x="89.43" y="183.03" width="6.61" height="6.62" fill="#ad366e"/>
<rect x="96.00" y="183.03" width="6.61" height="6.62" fill="#5728b7"/>
<rect x="102.56" y="183.03" width="13.18" height="6.62" fill="#ad366e"/>
<rect x="115.69" y="183.03" width="6.61" height="6.62" fill="#e43c3e"/>
<rect x="122.26" y="183.03" width="26.31" height="6.62" fill="#e69509"/>
<rect x="148.52" y="183.03" width="6.61" height="6.62" fill="#eb7308"/>
<rect x="155.08" y="183.03" width="6.61" height="6.62" fill="#e6b716"/>
<rect x="161.65" y="183.03" width="6.61" height="6.62" fill="#eb7308"/>
<rect x="168.21" y="183.03" width="6.61" height="6.62" fill="#e6b716"/>
<rect x="174.78" y="183.03" width="6.61" height="6.62" fill="#e6cf42"/>
<rect x="181.34" y="183.03" width="13.18" height="6.62" fill="#e6b716"/>
<rect x="194.47" y="183.03" width="13.18" height="6.62" fill="#e6cf42"/>
<rect x="207.60" y="183.03" width="6.61" height="6.62" fill="#802f95"/>
<rect x="214.17" y="183.03" width="19.74" height="6.62" fill="#e69509"/>
<rect x="233.86" y="183.03" width="6.61" height="6.62" fill="#e6b716"/>
<rect x="240.43" y="183.03" width="13.18" height="6.62" fill="#e69509"/>
<rect x="253.56" y="183.03" width="6.61" height="6.62" fill="#802f95"/>
<rect x="260.12" y="183.03" width="6.61" height="6.62" fill="#e6b716"/>
<rect x="266.69" y="183.03" width="6.61" height="6.62" fill="#5728b7"/>
<rect x="273.25" y="183.03" width="6.61" height="6.62" fill="#e69509"/>
<rect x="279.82" y="183.03" width="6.62" height="6.62" fill="#ad366e"/>
<rect x="286.38" y="183.03" width="6.61" height="6.62" fill="#eb7308"/>
<rect x="292.95" y="183.03" width="6.61" height="6.62" fill="#e69509"/>
<rect x="299.51" y="183.03" width="13.18" height="6.62" fill="#e6b716"/>
<rect x="312.64" y="183.03" width="6.61" height="6.62" fill="#ad366e"/>
<rect x="319.21" y="183.03" width="6.61" height="6.62" fill="#e6b716"/>
<rect x="325.77" y="183.03" width="6.61" height="6.62" fill="#5728b7"/>
<rect x="332.34" y="183.03" width="6.61" height="6.62" fill="#ad366e"/>
<rect x="338.90" y="183.03" width="13.18" height="6.62" fill="#e69509"/>
<rect x="352.03" y="183.03" width="6.61" height="6.62" fill="#802f95"/>
<rect x="358.60" y="183.03" width="6.61" height="6.62" fill="#eb7308"/>
<rect x="365.16" y="183.03" width="6.61" height="6.62" fill="#e6b716"/>
<rect x="371.73" y="183.03" width="6.61" height="6.62" fill="#5728b7"/>
<rect x="378.29" y="183.03" width="13.18" height="6.62" fill="#eb7308"/>
<rect x="391.42" y="183.03" width="6.61" height="6.62" fill="#ad366e"/>
<rect x="397.99" y="183.03" width="19.74" height="6.62" fill="#e69509"/>
<rect x="417.68" y="183.03" width="13.18" height="6.62" fill="#e6b716"/>
<rect x="430.81" y="183.03" width="6.62" height="6.62" fill="#141444"/>
<rect x="437.38" y="183.03" width="6.61" height="6.62" fill="#e6cf42"/>
<rect x="443.94" y="183.03" width="6.62" height="6.62" fill="#e69509"/>
<rect x="450.51" y="183.03" width="13.18" height="6.62" fill="#e6b716"/>
<rect x="463.64" y="183.03" width="13.18" height="6.62" fill="#e69509"/>
<rect x="476.77" y="183.03" width="6.61" height="6.62" fill="#ad366e"/>
<rect x="483.33" y="183.03" width="6.62" height="6.62" fill="#e6b716"/>
<rect x="489.90" y="183.03" width="6.61" height="6.62" fill="#5728b7"/>
<rect x="496.46" y="183.03" width="6.62" height="6.62" fill="#eb7308"/>
<rect x="503.03" y="183.03" width="6.61" height="6.62" fill="#ad366e"/>
<rect x="509.59" y="183.03" width="6.62" height="6.62" fill="#e69509"/></g>
<g shape-rendering="crispEdges"><rect x="50.04" y="227.40" width="65.70" height="6.61" fill="#000000"/>
<rect x="115.69" y="227.40" width="6.61" height="6.61" fill="#292684"/>
<rect x="122.26" y="227.40" width="6.61" height="6.61" fill="#3d26a6"/>
<rect x="128.82" y="227.40" width="6.61" height="6.61" fill="#5728b7"/>
<rect x="135.39" y="227.40" width="6.61" height="6.61" fill="#292684"/>
<rect x="141.95" y="227.40" width="6.62" height="6.61" fill="#141444"/>
<rect x="148.52" y="227.40" width="6.61" height="6.61" fill="#000000"/>
<rect x="155.08" y="227.40" width="6.61" height="6.61" fill="#3d26a6"/>
<rect x="161.65" y="227.40" width="6.61" height="6.61" fill="#292684"/>
<rect x="168.21" y="227.40" width="6.61" height="6.61" fill="#3d26a6"/>
<rect x="174.78" y="227.40" width="46.00" height="6.61" fill="#000000"/>
<rect x="220.73" y="227.40" width="6.61" height="6.61" fill="#3d26a6"/>
<rect x="227.30" y="227.40" width="6.61" height="6.61" fill="#000000"/>
<rect x="233.86" y="227.40" width="13.18" height="6.61" fill="#292684"/>
<rect x="246.99" y="227.40" width="6.62" height="6.61" fill="#141444"/>
<rect x="253.56" y="227.40" width="13.18" height="6.61" fill="#292684"/>
<rect x="266.69" y="227.40" width="6.61" height="6.61" fill="#3d26a6"/>
<rect x="273.25" y="227.40" width="6.61" height="6.61" fill="#141444"/>
<rect x="279.82" y="227.40" width="6.62" height="6.61" fill="#292684"/>
<rect x="286.38" y="227.40" width="6.61" height="6.61" fill="#141444"/>
<rect x="292.95" y="227.40" width="6.61" height="6.61" fill="#292684"/>
<rect x="299.51" y="227.40" width="6.61" height="6.61" fill="#3d26a6"/>
<rect x="306.08" y="227.40" width="6.61" height="6.61" fill="#292684"/>
<rect x="312.64" y="227.40" width="13.18" height="6.61" fill="#3d26a6"/>
<rect x="325.77" y="227.40" width="6.61" height="6.61" fill="#141444"/>
<rect x="332.34" y="227.40" width="13.18" height="6.61" fill="#292684"/>
<rect x="345.47" y="227.40" width="6.61" height="6.61" fill="#3d26a6"/>
<rect x="352.03" y="227.40" width="6.61" height="6.61" fill="#292684"/>
<rect x="358.60" y="227.40" width="26.31" height="6.61" fill="#3d26a6"/>
<rect x="384.86" y="227.40" width="6.61" height="6.61" fill="#292684"/>
<rect x="391.42" y="227.40" width="19.74" height="6.61" fill="#3d26a6"/>
<rect x="411.12" y="227.40" width="6.61" height="6.61" fill="#5728b7"/>
<rect x="417.68" y="227.40" width="13.18" height="6.61" fill="#3d26a6"/>
<rect x="430.81" y="227.40" width="6.62" height="6.61" fill="#141444"/>
<rect x="437.38" y="227.40" width="78.83" height="6.61" fill="#000000"/>
<rect x="50.04" y="233.97" width="19.74" height="6.61" fill="#000000"/>
<rect x="69.74" y="233.97" width="6.61" height="6.61" fill="#141444"/>
<rect x="76.30" y="233.97" width="39.44" height="6.61" fill="#000000"/>
<rect x="115.69" y="233.97" width="6.61" height="6.61" fill="#141444"/>
<rect x="122.26" y="233.97" width="26.31" height="6.61" fill="#3d26a6"/>
<rect x="148.52" y="233.97" width="13.18" height="6.61" fill="#000000"/>
<rect x="161.65" y="233.97" width="13.18" height="6.61" fill="#141444"/>
<rect x="174.78" y="233.97" width="13.18" height="6.61" fill="#3d26a6"/>
<rect x="187.91" y="233.97" width="6.61" height="6.61" fill="#141444"/>
<rect x="194.47" y="233.97" width="6.61" height="6.61" fill="#3d26a6"/>
<rect x="201.04" y="233.97" width="13.18" height="6.61" fill="#141444"/>
<rect x="214.17" y="233.97" width="6.61" height="6.61" fill="#000000"/>
<rect x="220.73" y="233.97" width="6.61" height="6.61" fill="#3d26a6"/>
<rect x="227.30" y="233.97" width="6.61" height="6.61" fill="#000000"/>
<rect x="233.86" y="233.97" width="13.18" height="6.61" fill="#141444"/>
<rect x="246.99" y="233.97" width="6.62" height="6.61" fill="#3d26a6"/>
<rect x="253.56" y="233.97" width="39.44" height="6.61" fill="#141444"/>
<rect x="292.95" y="233.97" width="6.61" height="6.61" fill="#3d26a6"/>
<rect x="299.51" y="233.97" width="6.61" height="6.61" fill="#141444"/>
<rect x="306.08" y="233.97" width="6.61" height="6.61" fill="#3d26a6"/>
<rect x="312.64" y="233.97" width="13.18" height="6.61" fill="#292684"/>
<rect x="325.77" y="233.97" width="13.18" height="6.61" fill="#3d26a6"/>
<rect x="338.90" y="233.97" width="6.61" height="6.61" fill="#5728b7"/>
<rect x="345.47" y="233.97" width="6.61" height="6.61" fill="#141444"/>
<rect x="352.03" y="233.97" width="13.18" height="6.61" fill="#3d26a6"/>
<rect x="365.16" y="233.97" width="6.61" height="6.61" fill="#141444"/>
<rect x="371.73" y="233.97" width="32.87" height="6.61" fill="#3d26a6"/>
<rect x="404.55" y="233.97" width="6.61" height="6.61" fill="#5728b7"/>
<rect x="411.12" y="233.97" width="6.61" height="6.61" fill="#802f95"/>
<rect x="417.68" y="233.97" width="6.62" height="6.61" fill="#5728b7"/>
<rect x="424.25" y="233.97" width="6.61" height="6.61" fill="#802f95"/>
<rect x="430.81" y="233.97" width="6.62" height="6.61" fill="#5728b7"/>
<rect x="437.38" y="233.97" width="78.83" height="6.61" fill="#000000"/>
<rect x="50.04" y="240.53" width="19.74" height="6.61" fill="#000000"/>
<rect x="69.74" y="240.53" width="6.61" height="6.61" fill="#292684"/>
<rect x="76.30" y="240.53" width="6.61" height="6.61" fill="#141444"/>
<rect x="82.87" y="240.53" width="6.61" height="6.61" fill="#000000"/>
<rect x="89.43" y="240.53" width="6.61" height="6.61" fill="#141444"/>
<rect x="96.00" y="240.53" width="6.61" height="6.61" fill="#000000"/>
<rect x="102.56" y="240.53" width="6.61" height="6.61" fill="#141444"/>
<rect x="109.13" y="240.53" width="6.61" height="6.61" fill="#3d26a6"/>
<rect x="115.69" y="240.53" width="6.61" height="6.61" fill="#5728b7"/>
<rect x="122.26" y="240.53" width="6.61" height="6.61" fill="#802f95"/>
<rect x="128.82" y="240.53" width="13.18" height="6.61" fill="#3d26a6"/>
<rect x="141.95" y="240.53" width="6.62" height="6.61" fill="#802f95"/>
<rect x="148.52" y="240.53" width="6.61" height="6.61" fill="#141444"/>
<rect x="155.08" y="240.53" width="6.61" height="6.61" fill="#5728b7"/>
<rect x="161.65" y="240.53" width="6.61" height="6.61" fill="#3d26a6"/>
<rect x="168.21" y="240.53" width="6.61" height="6.61" fill="#000000"/>
<rect x="174.78" y="240.53" width="6.61" height="6.61" fill="#5728b7"/>
<rect x="181.34" y="240.53" width="6.61" height="6.61" fill="#000000"/>
<rect x="187.91" y="240.53" width="13.18" height="6.61" fill="#141444"/>
<rect x="201.04" y="240.53" width="6.61" height="6.61" fill="#3d26a6"/>
<rect x="207.60" y="240.53" width="6.61" height="6.61" fill="#ad366e"/>
<rect x="214.17" y="240.53" width="6.61" height="6.61" fill="#000000"/>
<rect x="220.73" y="240.53" width="6.61" height="6.61" fill="#3d26a6"/>
<rect x="227.30" y="240.53" width="6.61" height="6.61" fill="#141444"/>
<rect x="233.86" y="240.53" width="6.61" height="6.61" fill="#3d26a6"/>
<rect x="240.43" y="240.53" width="13.18" height="6.61" fill="#5728b7"/>
<rect x="253.56" y="240.53" width="19.74" height="6.61" fill="#3d26a6"/>
<rect x="273.25" y="240.53" width="6.61" height="6.61" fill="#141444"/>
<rect x="279.82" y="240.53" width="6.62" height="6.61" fill="#5728b7"/>
<rect x="286.38" y="240.53" width="6.61" height="6.61" fill="#141444"/>
<rect x="292.95" y="240.53" width="6.61" height="6.61" fill="#000000"/>
<rect x="299.51" y="240.53" width="6.61" height="6.61" fill="#3d26a6"/>
<rect x="306.08" y="240.53" width="6.61" height="6.61" fill="#292684"/>
<rect x="312.64" y="240.53" width="26.31" height="6.61" fill="#3d26a6"/>
<rect x="338.90" y="240.53" width="6.61" height="6.61" fill="#292684"/>
<rect x="345.47" y="240.53" width="32.87" height="6.61" fill="#3d26a6"/>
<rect x="378.29" y="240.53" width="6.61" height="6.61" fill="#5728b7"/>
<rect x="384.86" y="240.53" width="13.18" height="6.61" fill="#3d26a6"/>
<rect x="397.99" y="240.53" width="6.61" height="6.61" fill="#141444"/>
<rect x="404.55" y="240.53" width="6.61" height="6.61" fill="#802f95"/>
<rect x="411.12" y="240.53" width="6.61" height="6.61" fill="#5728b7"/>
<rect x="417.68" y="240.53" width="6.62" height="6.61" fill="#802f95"/>
<rect x="424.25" y="240.53" width="6.61" height="6.61" fill="#5728b7"/>
<rect x="430.81" y="240.53" width="6.62" height="6.61" fill="#141444"/>
<rect x="437.38" y="240.53" width="78.83" height="6.61" fill="#000000"/>
<rect x="50.04" y="247.10" width="26.31" height="6.61" fill="#000000"/>
<rect x="76.30" y="247.10" width="13.18" height="6.61" fill="#3d26a6"/>
<rect x="89.43" y="247.10" width="6.61" height="6.61" fill="#292684"/>
<rect x="96.00" y="247.10" width="6.61" height="6.61" fill="#3d26a6"/>
<rect x="102.56" y="247.10" width="13.18" height="6.61" fill="#5728b7"/>
<rect x="115.69" y="247.10" width="6.61" height="6.61" fill="#3d26a6"/>
<rect x="122.26" y="247.10" width="6.61" height="6.61" fill="#e6cf42"/>
<rect x="128.82" y="247.10" width="6.61" height="6.61" fill="#eb7308"/>
<rect x="135.39" y="247.10" width="6.61" height="6.61" fill="#e6b716"/>
<rect x="141.95" y="247.10" width="13.18" height="6.61" fill="#e6cf42"/>
<rect x="155.08" y="247.10" width="6.61" height="6.61" fill="#ad366e"/>
<rect x="161.65" y="247.10" width="6.61" height="6.61" fill="#3d26a6"/>
<rect x="168.21" y="247.10" width="6.61" height="6.61" fill="#802f95"/>
<rect x="174.78" y="247.10" width="6.61" height="6.61" fill="#5728b7"/>
<rect x="181.34" y="247.10" width="6.61" height="6.61" fill="#141444"/>
<rect x="187.91" y="247.10" width="13.18" height="6.61" fill="#292684"/>
<rect x="201.04" y="247.10" width="13.18" height="6.61" fill="#5728b7"/>
<rect x="214.17" y="247.10" width="6.61" height="6.61" fill="#802f95"/>
<rect x="220.73" y="247.10" width="13.18" height="6.61" fill="#5728b7"/>
<rect x="233.86" y="247.10" width="13.18" height="6.61" fill="#ad366e"/>
<rect x="246.99" y="247.10" width="13.18" height="6.61" fill="#802f95"/>
<rect x="260.12" y="247.10" width="13.18" height="6.61" fill="#5728b7"/>
<rect x="273.25" y="247.10" width="6.61" height="6.61" fill="#141444"/>
<rect x="279.82" y="247.10" width="13.18" height="6.61" fill="#3d26a6"/>
<rect x="292.95" y="247.10" width="6.61" height="6.61" fill="#292684"/>
<rect x="299.51" y="247.10" width="6.61" height="6.61" fill="#3d26a6"/>
<rect x="306.08" y="247.10" width="6.61" height="6.61" fill="#292684"/>
<rect x="312.64" y="247.10" width="6.61" height="6.61" fill="#3d26a6"/>
<rect x="319.21" y="247.10" width="6.61" height="6.61" fill="#5728b7"/>
<rect x="325.77" y="247.10" width="6.61" height="6.61" fill="#802f95"/>
<rect x="332.34" y="247.10" width="6.61" height="6.61" fill="#5728b7"/>
<rect x="338.90" y="247.10" width="13.18" height="6.61" fill="#3d26a6"/>
<rect x="352.03" y="247.10" width="6.61" height="6.61" fill="#5728b7"/>
<rect x="358.60" y="247.10" width="6.61" height="6.61" fill="#3d26a6"/>
<rect x="365.16" y="247.10" width="6.61" height="6.61" fill="#5728b7"/>
<rect x="371.73" y="247.10" width="13.18" height="6.61" fill="#3d26a6"/>
<rect x="384.86" y="247.10" width="6.61" height="6.61" fill="#292684"/>
<rect x="391.42" y="247.10" width="6.61" height="6.61" fill="#3d26a6"/>
<rect x="397.99" y="247.10" width="6.61" height="6.61" fill="#ad366e"/>
<rect x="404.55" y="247.10" width="19.75" height="6.61" fill="#eb7308"/>
<rect x="424.25" y="247.10" width="6.61" height="6.61" fill="#f8511c"/>
<rect x="430.81" y="247.10" width="32.88" height="6.61" fill="#000000"/>
<rect x="463.64" y="247.10" width="6.61" height="6.61" fill="#3d26a6"/>
<rect x="470.20" y="247.10" width="6.62" height="6.61" fill="#000000"/>
<rect x="476.77" y="247.10" width="6.61" height="6.61" fill="#141444"/>
<rect x="483.33" y="247.10" width="6.62" height="6.61" fill="#000000"/>
<rect x="489.90" y="247.10" width="6.61" height="6.61" fill="#141444"/>
<rect x="496.46" y="247.10" width="19.75" height="6.61" fill="#000000"/>
<rect x="50.04" y="253.66" width="6.61" height="6.61" fill="#5728b7"/>
<rect x="56.61" y="253.66" width="6.61" height="6.61" fill="#802f95"/>
<rect x="63.17" y="253.66" width="6.61" height="6.61" fill="#ad366e"/>
<rect x="69.74" y="253.66" width="6.61" height="6.61" fill="#5728b7"/>
<rect x="76.30" y="253.66" width="13.18" height="6.61" fill="#802f95"/>
<rect x="89.43" y="253.66" width="6.61" height="6.61" fill="#e43c3e"/>
<rect x="96.00" y="253.66" width="6.61" height="6.61" fill="#ad366e"/>
<rect x="102.56" y="253.66" width="6.61" height="6.61" fill="#802f95"/>
<rect x="109.13" y="253.66" width="13.18" height="6.61" fill="#eb7308"/>
<rect x="122.26" y="253.66" width="6.61" height="6.61" fill="#e6b716"/>
<rect x="128.82" y="253.66" width="6.61" height="6.61" fill="#e6cf42"/>
<rect x="135.39" y="253.66" width="6.61" height="6.61" fill="#e6e379"/>
<rect x="141.95" y="253.66" width="6.62" height="6.61" fill="#e6cf42"/>
<rect x="148.52" y="253.66" width="13.18" height="6.61" fill="#ad366e"/>
<rect x="161.65" y="253.66" width="6.61" height="6.61" fill="#802f95"/>
<rect x="168.21" y="253.66" width="6.61" height="6.61" fill="#ad366e"/>
<rect x="174.78" y="253.66" width="6.61" height="6.61" fill="#3d26a6"/>
<rect x="181.34" y="253.66" width="6.61" height="6.61" fill="#141444"/>
<rect x="187.91" y="253.66" width="6.61" height="6.61" fill="#802f95"/>
<rect x="194.47" y="253.66" width="6.61" height="6.61" fill="#5728b7"/>
<rect x="201.04" y="253.66" width="6.61" height="6.61" fill="#e43c3e"/>
<rect x="207.60" y="253.66" width="19.74" height="6.61" fill="#ad366e"/>
<rect x="227.30" y="253.66" width="6.61" height="6.61" fill="#eb7308"/>
<rect x="233.86" y="253.66" width="13.18" height="6.61" fill="#ad366e"/>
<rect x="246.99" y="253.66" width="6.62" height="6.61" fill="#eb7308"/>
<rect x="253.56" y="253.66" width="6.61" height="6.61" fill="#f8511c"/>
<rect x="260.12" y="253.66" width="13.18" height="6.61" fill="#eb7308"/>
<rect x="273.25" y="253.66" width="6.61" height="6.61" fill="#e6b716"/>
<rect x="279.82" y="253.66" width="6.62" height="6.61" fill="#e6cf42"/>
<rect x="286.38" y="253.66" width="6.61" height="6.61" fill="#e69509"/>
<rect x="292.95" y="253.66" width="6.61" height="6.61" fill="#e6b716"/>
<rect x="299.51" y="253.66" width="6.61" height="6.61" fill="#eb7308"/>
<rect x="306.08" y="253.66" width="6.61" height="6.61" fill="#3d26a6"/>
<rect x="312.64" y="253.66" width="6.61" height="6.61" fill="#5728b7"/>
<rect x="319.21" y="253.66" width="6.61" height="6.61" fill="#3d26a6"/>
<rect x="325.77" y="253.66" width="6.61" height="6.61" fill="#802f95"/>
<rect x="332.34" y="253.66" width="6.61" height="6.61" fill="#ad366e"/>
<rect x="338.90" y="253.66" width="6.61" height="6.61" fill="#e43c3e"/>
<rect x="345.47" y="253.66" width="13.18" height="6.61" fill="#f8511c"/>
<rect x="358.60" y="253.66" width="19.74" height="6.61" fill="#e6b716"/>
<rect x="378.29" y="253.66" width="6.61" height="6.61" fill="#141444"/>
<rect x="384.86" y="253.66" width="6.61" height="6.61" fill="#292684"/>
<rect x="391.42" y="253.66" width="6.61" height="6.61" fill="#f8511c"/>
<rect x="397.99" y="253.66" width="6.61" height="6.61" fill="#eb7308"/>
<rect x="404.55" y="253.66" width="6.61" height="6.61" fill="#3d26a6"/>
<rect x="411.12" y="253.66" width="6.61" height="6.61" fill="#141444"/>
<rect x="417.68" y="253.66" width="52.57" height="6.61" fill="#000000"/>
<rect x="470.20" y="253.66" width="6.62" height="6.61" fill="#141444"/>
<rect x="476.77" y="253.66" width="6.61" height="6.61" fill="#5728b7"/>
<rect x="483.33" y="253.66" width="6.62" height="6.61" fill="#eb7308"/>
<rect x="489.90" y="253.66" width="13.18" height="6.61" fill="#5728b7"/>
<rect x="503.03" y="253.66" width="6.61" height="6.61" fill="#141444"/>
<rect x="509.59" y="253.66" width="6.62" height="6.61" fill="#ad366e"/>
<rect x="50.04" y="260.23" width="6.61" height="6.61" fill="#eb7308"/>
<rect x="56.61" y="260.23" width="13.18" height="6.61" fill="#e6b716"/>
<rect x="69.74" y="260.23" width="6.61" height="6.61" fill="#e6cf42"/>
<rect x="76.30" y="260.23" width="6.61" height="6.61" fill="#e6b716"/>
<rect x="82.87" y="260.23" width="13.18" height="6.61" fill="#e69509"/>
<rect x="96.00" y="260.23" width="6.61" height="6.61" fill="#eb7308"/>
<rect x="102.56" y="260.23" width="6.61" height="6.61" fill="#e69509"/>
<rect x="109.13" y="260.23" width="6.61" height="6.61" fill="#eb7308"/>
<rect x="115.69" y="260.23" width="6.61" height="6.61" fill="#e69509"/>
<rect x="122.26" y="260.23" width="6.61" height="6.61" fill="#e6b716"/>
<rect x="128.82" y="260.23" width="19.75" height="6.61" fill="#e6cf42"/>
<rect x="148.52" y="260.23" width="6.61" height="6.61" fill="#5728b7"/>
<rect x="155.08" y="260.23" width="6.61" height="6.61" fill="#3d26a6"/>
<rect x="161.65" y="260.23" width="6.61" height="6.61" fill="#292684"/>
<rect x="168.21" y="260.23" width="13.18" height="6.61" fill="#3d26a6"/>
<rect x="181.34" y="260.23" width="13.18" height="6.61" fill="#5728b7"/>
<rect x="194.47" y="260.23" width="6.61" height="6.61" fill="#802f95"/>
<rect x="201.04" y="260.23" width="6.61" height="6.61" fill="#ad366e"/>
<rect x="207.60" y="260.23" width="46.01" height="6.61" fill="#e69509"/>
<rect x="253.56" y="260.23" width="6.61" height="6.61" fill="#e6b716"/>
<rect x="260.12" y="260.23" width="6.61" height="6.61" fill="#ad366e"/>
<rect x="266.69" y="260.23" width="6.61" height="6.61" fill="#f8511c"/>
<rect x="273.25" y="260.23" width="6.61" height="6.61" fill="#e6b716"/>
<rect x="279.82" y="260.23" width="6.62" height="6.61" fill="#e6cf42"/>
<rect x="286.38" y="260.23" width="13.18" height="6.61" fill="#e6b716"/>
<rect x="299.51" y="260.23" width="6.61" height="6.61" fill="#e69509"/>
<rect x="306.08" y="260.23" width="6.61" height="6.61" fill="#e6b716"/>
<rect x="312.64" y="260.23" width="6.61" height="6.61" fill="#e69509"/>
<rect x="319.21" y="260.23" width="6.61" height="6.61" fill="#e6b716"/>
<rect x="325.77" y="260.23" width="6.61" height="6.61" fill="#e69509"/>
<rect x="332.34" y="260.23" width="6.61" height="6.61" fill="#e6b716"/>
<rect x="338.90" y="260.23" width="6.61" height="6.61" fill="#802f95"/>
<rect x="345.47" y="260.23" width="6.61" height="6.61" fill="#eb7308"/>
<rect x="352.03" y="260.23" width="6.61" height="6.61" fill="#e43c3e"/>
<rect x="358.60" y="260.23" width="6.61" height="6.61" fill="#eb7308"/>
<rect x="365.16" y="260.23" width="6.61" height="6.61" fill="#e69509"/>
<rect x="371.73" y="260.23" width="6.61" height="6.61" fill="#802f95"/>
<rect x="378.29" y="260.23" width="13.18" height="6.61" fill="#141444"/>
<rect x="391.42" y="260.23" width="6.61" height="6.61" fill="#3d26a6"/>
<rect x="397.99" y="260.23" width="6.61" height="6.61" fill="#eb7308"/>
<rect x="404.55" y="260.23" width="32.88" height="6.61" fill="#000000"/>
<rect x="437.38" y="260.23" width="32.87" height="6.61" fill="#141444"/>
<rect x="470.20" y="260.23" width="6.62" height="6.61" fill="#802f95"/>
<rect x="476.77" y="260.23" width="13.18" height="6.61" fill="#ad366e"/>
<rect x="489.90" y="260.23" width="6.61" height="6.61" fill="#802f95"/>
<rect x="496.46" y="260.23" width="6.62" height="6.61" fill="#ad366e"/>
<rect x="503.03" y="260.23" width="6.61" height="6.61" fill="#e43c3e"/>
<rect x="509.59" y="260.23" width="6.62" height="6.61" fill="#eb7308"/>
<rect x="50.04" y="266.79" width="6.61" height="6.61" fill="#e69509"/>
<rect x="56.61" y="266.79" width="6.61" height="6.61" fill="#e6b716"/>
<rect x="63.17" y="266.79" width="13.18" height="6.61" fill="#e6cf42"/>
<rect x="76.30" y="266.79" width="13.18" height="6.61" fill="#e6b716"/>
<rect x="89.43" y="266.79" width="6.61" height="6.61" fill="#e6cf42"/>
<rect x="96.00" y="266.79" width="6.61" height="6.61" fill="#e6b716"/>
<rect x="102.56" y="266.79" width="13.18" height="6.61" fill="#e69509"/>
<rect x="115.69" y="266.79" width="6.61" height="6.61" fill="#eb7308"/>
<rect x="122.26" y="266.79" width="6.61" height="6.61" fill="#ad366e"/>
<rect x="128.82" y="266.79" width="6.61" height="6.61" fill="#802f95"/>
<rect x="135.39" y="266.79" width="6.61" height="6.61" fill="#141444"/>
<rect x="141.95" y="266.79" width="6.62" height="6.61" fill="#000000"/>
<rect x="148.52" y="266.79" width="6.61" height="6.61" fill="#3d26a6"/>
<rect x="155.08" y="266.79" width="6.61" height="6.61" fill="#292684"/>
<rect x="161.65" y="266.79" width="13.18" height="6.61" fill="#141444"/>
<rect x="174.78" y="266.79" width="6.61" height="6.61" fill="#000000"/>
<rect x="181.34" y="266.79" width="6.61" height="6.61" fill="#3d26a6"/>
<rect x="187.91" y="266.79" width="6.61" height="6.61" fill="#5728b7"/>
<rect x="194.47" y="266.79" width="6.61" height="6.61" fill="#eb7308"/>
<rect x="201.04" y="266.79" width="13.18" height="6.61" fill="#e69509"/>
<rect x="214.17" y="266.79" width="6.61" height="6.61" fill="#e6b716"/>
<rect x="220.73" y="266.79" width="6.61" height="6.61" fill="#e69509"/>
<rect x="227.30" y="266.79" width="13.18" height="6.61" fill="#e6b716"/>
<rect x="240.43" y="266.79" width="13.18" height="6.61" fill="#e6cf42"/>
<rect x="253.56" y="266.79" width="6.61" height="6.61" fill="#e6b716"/>
<rect x="260.12" y="266.79" width="6.61" height="6.61" fill="#141444"/>
<rect x="266.69" y="266.79" width="6.61" height="6.61" fill="#ad366e"/>
<rect x="273.25" y="266.79" width="13.18" height="6.61" fill="#e6b716"/>
<rect x="286.38" y="266.79" width="6.61" height="6.61" fill="#e69509"/>
<rect x="292.95" y="266.79" width="19.74" height="6.61" fill="#e6b716"/>
<rect x="312.64" y="266.79" width="6.61" height="6.61" fill="#e69509"/>
<rect x="319.21" y="266.79" width="13.18" height="6.61" fill="#e6b716"/>
<rect x="332.34" y="266.79" width="6.61" height="6.61" fill="#e69509"/>
<rect x="338.90" y="266.79" width="6.61" height="6.61" fill="#e6b716"/>
<rect x="345.47" y="266.79" width="13.18" height="6.61" fill="#e69509"/>
<rect x="358.60" y="266.79" width="6.61" height="6.61" fill="#e6b716"/>
<rect x="365.16" y="266.79" width="6.61" height="6.61" fill="#e69509"/>
<rect x="371.73" y="266.79" width="26.31" height="6.61" fill="#3d26a6"/>
<rect x="397.99" y="266.79" width="6.61" height="6.61" fill="#eb7308"/>
<rect x="404.55" y="266.79" width="6.61" height="6.61" fill="#000000"/>
<rect x="411.12" y="266.79" width="6.61" height="6.61" fill="#141444"/>
<rect x="417.68" y="266.79" width="19.75" height="6.61" fill="#000000"/>
<rect x="437.38" y="266.79" width="19.74" height="6.61" fill="#3d26a6"/>
<rect x="457.07" y="266.79" width="6.62" height="6.61" fill="#292684"/>
<rect x="463.64" y="266.79" width="13.18" height="6.61" fill="#ad366e"/>
<rect x="476.77" y="266.79" width="6.61" height="6.61" fill="#eb7308"/>
<rect x="483.33" y="266.79" width="6.62" height="6.61" fill="#e6b716"/>
<rect x="489.90" y="266.79" width="6.61" height="6.61" fill="#e69509"/>
<rect x="496.46" y="266.79" width="19.75" height="6.61" fill="#e6b716"/>
<rect x="50.04" y="273.36" width="6.61" height="6.61" fill="#eb7308"/>
<rect x="56.61" y="273.36" width="6.61" height="6.61" fill="#f8511c"/>
<rect x="63.17" y="273.36" width="6.61" height="6.61" fill="#eb7308"/>
<rect x="69.74" y="273.36" width="6.61" height="6.61" fill="#802f95"/>
<rect x="76.30" y="273.36" width="6.61" height="6.61" fill="#eb7308"/>
<rect x="82.87" y="273.36" width="6.61" height="6.61" fill="#e69509"/>
<rect x="89.43" y="273.36" width="6.61" height="6.61" fill="#e6cf42"/>
<rect x="96.00" y="273.36" width="6.61" height="6.61" fill="#e6b716"/>
<rect x="102.56" y="273.36" width="13.18" height="6.61" fill="#eb7308"/>
<rect x="115.69" y="273.36" width="6.61" height="6.61" fill="#ad366e"/>
<rect x="122.26" y="273.36" width="13.18" height="6.61" fill="#5728b7"/>
<rect x="135.39" y="273.36" width="6.61" height="6.61" fill="#3d26a6"/>
<rect x="141.95" y="273.36" width="6.62" height="6.61" fill="#141444"/>
<rect x="148.52" y="273.36" width="6.61" height="6.61" fill="#292684"/>
<rect x="155.08" y="273.36" width="19.74" height="6.61" fill="#141444"/>
<rect x="174.78" y="273.36" width="6.61" height="6.61" fill="#292684"/>
<rect x="181.34" y="273.36" width="6.61" height="6.61" fill="#141444"/>
<rect x="187.91" y="273.36" width="6.61" height="6.61" fill="#3d26a6"/>
<rect x="194.47" y="273.36" width="6.61" height="6.61" fill="#eb7308"/>
<rect x="201.04" y="273.36" width="6.61" height="6.61" fill="#e6b716"/>
<rect x="207.60" y="273.36" width="6.61" height="6.61" fill="#e6cf42"/>
<rect x="214.17" y="273.36" width="13.18" height="6.61" fill="#e6b716"/>
<rect x="227.30" y="273.36" width="6.61" height="6.61" fill="#e6cf42"/>
<rect x="233.86" y="273.36" width="6.61" height="6.61" fill="#e43c3e"/>
<rect x="240.43" y="273.36" width="6.61" height="6.61" fill="#ad366e"/>
<rect x="246.99" y="273.36" width="6.62" height="6.61" fill="#802f95"/>
<rect x="253.56" y="273.36" width="6.61" height="6.61" fill="#5728b7"/>
<rect x="260.12" y="273.36" width="6.61" height="6.61" fill="#802f95"/>
<rect x="266.69" y="273.36" width="6.61" height="6.61" fill="#ad366e"/>
<rect x="273.25" y="273.36" width="6.61" height="6.61" fill="#802f95"/>
<rect x="279.82" y="273.36" width="6.62" height="6.61" fill="#5728b7"/>
<rect x="286.38" y="273.36" width="13.18" height="6.61" fill="#e6b716"/>
<rect x="299.51" y="273.36" width="6.61" height="6.61" fill="#e69509"/>
<rect x="306.08" y="273.36" width="19.74" height="6.61" fill="#e6b716"/>
<rect x="325.77" y="273.36" width="6.61" height="6.61" fill="#e69509"/>
<rect x="332.34" y="273.36" width="6.61" height="6.61" fill="#eb7308"/>
<rect x="338.90" y="273.36" width="13.18" height="6.61" fill="#e69509"/>
<rect x="352.03" y="273.36" width="6.61" height="6.61" fill="#eb7308"/>
<rect x="358.60" y="273.36" width="6.61" height="6.61" fill="#3d26a6"/>
<rect x="365.16" y="273.36" width="6.61" height="6.61" fill="#141444"/>
<rect x="371.73" y="273.36" width="6.61" height="6.61" fill="#292684"/>
<rect x="378.29" y="273.36" width="13.18" height="6.61" fill="#3d26a6"/>
<rect x="391.42" y="273.36" width="6.61" height="6.61" fill="#292684"/>
<rect x="397.99" y="273.36" width="6.61" height="6.61" fill="#ad366e"/>
<rect x="404.55" y="273.36" width="6.61" height="6.61" fill="#141444"/>
<rect x="411.12" y="273.36" width="6.61" height="6.61" fill="#000000"/>
<rect x="417.68" y="273.36" width="6.62" height="6.61" fill="#141444"/>
<rect x="424.25" y="273.36" width="13.18" height="6.61" fill="#000000"/>
<rect x="437.38" y="273.36" width="6.61" height="6.61" fill="#5728b7"/>
<rect x="443.94" y="273.36" width="13.18" height="6.61" fill="#802f95"/>
<rect x="457.07" y="273.36" width="6.62" height="6.61" fill="#ad366e"/>
<rect x="463.64" y="273.36" width="6.61" height="6.61" fill="#802f95"/>
<rect x="470.20" y="273.36" width="6.62" height="6.61" fill="#f8511c"/>
<rect x="476.77" y="273.36" width="6.61" height="6.61" fill="#eb7308"/>
<rect x="483.33" y="273.36" width="6.62" height="6.61" fill="#e6e379"/>
<rect x="489.90" y="273.36" width="6.61" height="6.61" fill="#f1f1bb"/>
<rect x="496.46" y="273.36" width="6.62" height="6.61" fill="#e6cf42"/>
<rect x="503.03" y="273.36" width="6.61" height="6.61" fill="#e6b716"/>
<rect x="509.59" y="273.36" width="6.62" height="6.61" fill="#e6cf42"/>
<rect x="50.04" y="279.92" width="6.61" height="6.61" fill="#e69509"/>
<rect x="56.61" y="279.92" width="6.61" height="6.61" fill="#eb7308"/>
<rect x="63.17" y="279.92" width="6.61" height="6.61" fill="#e69509"/>
<rect x="69.74" y="279.92" width="6.61" height="6.61" fill="#e6b716"/>
<rect x="76.30" y="279.92" width="13.18" height="6.61" fill="#e69509"/>
<rect x="89.43" y="279.92" width="13.18" height="6.61" fill="#eb7308"/>
<rect x="102.56" y="279.92" width="6.61" height="6.61" fill="#f8511c"/>
<rect x="109.13" y="279.92" width="6.61" height="6.61" fill="#ad366e"/>
<rect x="115.69" y="279.92" width="6.61" height="6.61" fill="#802f95"/>
<rect x="122.26" y="279.92" width="6.61" height="6.61" fill="#ad366e"/>
<rect x="128.82" y="279.92" width="6.61" height="6.61" fill="#5728b7"/>
<rect x="135.39" y="279.92" width="6.61" height="6.61" fill="#3d26a6"/>
<rect x="141.95" y="279.92" width="6.62" height="6.61" fill="#292684"/>
<rect x="148.52" y="279.92" width="6.61" height="6.61" fill="#141444"/>
<rect x="155.08" y="279.92" width="13.18" height="6.61" fill="#000000"/>
<rect x="168.21" y="279.92" width="6.61" height="6.61" fill="#292684"/>
<rect x="174.78" y="279.92" width="6.61" height="6.61" fill="#3d26a6"/>
<rect x="181.34" y="279.92" width="13.18" height="6.61" fill="#292684"/>
<rect x="194.47" y="279.92" width="13.18" height="6.61" fill="#3d26a6"/>
<rect x="207.60" y="279.92" width="6.61" height="6.61" fill="#ad366e"/>
<rect x="214.17" y="279.92" width="13.18" height="6.61" fill="#3d26a6"/>
<rect x="227.30" y="279.92" width="6.61" height="6.61" fill="#292684"/>
<rect x="233.86" y="279.92" width="26.31" height="6.61" fill="#3d26a6"/>
<rect x="260.12" y="279.92" width="13.18" height="6.61" fill="#292684"/>
<rect x="273.25" y="279.92" width="13.18" height="6.61" fill="#3d26a6"/>
<rect x="286.38" y="279.92" width="6.61" height="6.61" fill="#292684"/>
<rect x="292.95" y="279.92" width="13.18" height="6.61" fill="#3d26a6"/>
<rect x="306.08" y="279.92" width="6.61" height="6.61" fill="#802f95"/>
<rect x="312.64" y="279.92" width="6.61" height="6.61" fill="#ad366e"/>
<rect x="319.21" y="279.92" width="6.61" height="6.61" fill="#802f95"/>
<rect x="325.77" y="279.92" width="6.61" height="6.61" fill="#5728b7"/>
<rect x="332.34" y="279.92" width="6.61" height="6.61" fill="#eb7308"/>
<rect x="338.90" y="279.92" width="6.61" height="6.61" fill="#e69509"/>
<rect x="345.47" y="279.92" width="6.61" height="6.61" fill="#e6b716"/>
<rect x="352.03" y="279.92" width="6.61" height="6.61" fill="#3d26a6"/>
<rect x="358.60" y="279.92" width="6.61" height="6.61" fill="#292684"/>
<rect x="365.16" y="279.92" width="6.61" height="6.61" fill="#3d26a6"/>
<rect x="371.73" y="279.92" width="6.61" height="6.61" fill="#292684"/>
<rect x="378.29" y="279.92" width="13.18" height="6.61" fill="#3d26a6"/>
<rect x="391.42" y="279.92" width="6.61" height="6.61" fill="#141444"/>
<rect x="397.99" y="279.92" width="6.61" height="6.61" fill="#000000"/>
<rect x="404.55" y="279.92" width="6.61" height="6.61" fill="#141444"/>
<rect x="411.12" y="279.92" width="13.18" height="6.61" fill="#000000"/>
<rect x="424.25" y="279.92" width="6.61" height="6.61" fill="#141444"/>
<rect x="430.81" y="279.92" width="6.62" height="6.61" fill="#3d26a6"/>
<rect x="437.38" y="279.92" width="6.61" height="6.61" fill="#5728b7"/>
<rect x="443.94" y="279.92" width="6.62" height="6.61" fill="#3d26a6"/>
<rect x="450.51" y="279.92" width="6.61" height="6.61" fill="#eb7308"/>
<rect x="457.07" y="279.92" width="6.62" height="6.61" fill="#f8511c"/>
<rect x="463.64" y="279.92" width="6.61" height="6.61" fill="#eb7308"/>
<rect x="470.20" y="279.92" width="6.62" height="6.61" fill="#e69509"/>
<rect x="476.77" y="279.92" width="19.74" height="6.61" fill="#e6b716"/>
<rect x="496.46" y="279.92" width="6.62" height="6.61" fill="#e69509"/>
<rect x="503.03" y="279.92" width="13.18" height="6.61" fill="#e6b716"/>
<rect x="50.04" y="286.49" width="19.74" height="6.61" fill="#e6b716"/>
<rect x="69.74" y="286.49" width="6.61" height="6.61" fill="#e69509"/>
<rect x="76.30" y="286.49" width="13.18" height="6.61" fill="#e6b716"/>
<rect x="89.43" y="286.49" width="6.61" height="6.61" fill="#e69509"/>
<rect x="96.00" y="286.49" width="6.61" height="6.61" fill="#eb7308"/>
<rect x="102.56" y="286.49" width="6.61" height="6.61" fill="#f8511c"/>
<rect x="109.13" y="286.49" width="19.74" height="6.61" fill="#ad366e"/>
<rect x="128.82" y="286.49" width="13.18" height="6.61" fill="#5728b7"/>
<rect x="141.95" y="286.49" width="6.62" height="6.61" fill="#3d26a6"/>
<rect x="148.52" y="286.49" width="6.61" height="6.61" fill="#5728b7"/>
<rect x="155.08" y="286.49" width="6.61" height="6.61" fill="#292684"/>
<rect x="161.65" y="286.49" width="6.61" height="6.61" fill="#141444"/>
<rect x="168.21" y="286.49" width="6.61" height="6.61" fill="#5728b7"/>
<rect x="174.78" y="286.49" width="13.18" height="6.61" fill="#000000"/>
<rect x="187.91" y="286.49" width="13.18" height="6.61" fill="#141444"/>
<rect x="201.04" y="286.49" width="6.61" height="6.61" fill="#292684"/>
<rect x="207.60" y="286.49" width="6.61" height="6.61" fill="#000000"/>
<rect x="214.17" y="286.49" width="6.61" height="6.61" fill="#292684"/>
<rect x="220.73" y="286.49" width="6.61" height="6.61" fill="#3d26a6"/>
<rect x="227.30" y="286.49" width="6.61" height="6.61" fill="#141444"/>
<rect x="233.86" y="286.49" width="6.61" height="6.61" fill="#292684"/>
<rect x="240.43" y="286.49" width="6.61" height="6.61" fill="#3d26a6"/>
<rect x="246.99" y="286.49" width="6.62" height="6.61" fill="#292684"/>
<rect x="253.56" y="286.49" width="6.61" height="6.61" fill="#3d26a6"/>
<rect x="260.12" y="286.49" width="13.18" height="6.61" fill="#141444"/>
<rect x="273.25" y="286.49" width="6.61" height="6.61" fill="#292684"/>
<rect x="279.82" y="286.49" width="19.75" height="6.61" fill="#000000"/>
<rect x="299.51" y="286.49" width="6.61" height="6.61" fill="#3d26a6"/>
<rect x="306.08" y="286.49" width="6.61" height="6.61" fill="#ad366e"/>
<rect x="312.64" y="286.49" width="6.61" height="6.61" fill="#802f95"/>
<rect x="319.21" y="286.49" width="6.61" height="6.61" fill="#5728b7"/>
<rect x="325.77" y="286.49" width="6.61" height="6.61" fill="#e69509"/>
<rect x="332.34" y="286.49" width="6.61" height="6.61" fill="#802f95"/>
<rect x="338.90" y="286.49" width="6.61" height="6.61" fill="#ad366e"/>
<rect x="345.47" y="286.49" width="6.61" height="6.61" fill="#5728b7"/>
<rect x="352.03" y="286.49" width="19.74" height="6.61" fill="#3d26a6"/>
<rect x="371.73" y="286.49" width="26.31" height="6.61" fill="#141444"/>
<rect x="397.99" y="286.49" width="6.61" height="6.61" fill="#292684"/>
<rect x="404.55" y="286.49" width="6.61" height="6.61" fill="#141444"/>
<rect x="411.12" y="286.49" width="13.18" height="6.61" fill="#000000"/>
<rect x="424.25" y="286.49" width="19.74" height="6.61" fill="#3d26a6"/>
<rect x="443.94" y="286.49" width="6.62" height="6.61" fill="#802f95"/>
<rect x="450.51" y="286.49" width="13.18" height="6.61" fill="#eb7308"/>
<rect x="463.64" y="286.49" width="6.61" height="6.61" fill="#f8511c"/>
<rect x="470.20" y="286.49" width="6.62" height="6.61" fill="#ad366e"/>
<rect x="476.77" y="286.49" width="6.61" height="6.61" fill="#e69509"/>
<rect x="483.33" y="286.49" width="6.62" height="6.61" fill="#e6b716"/>
<rect x="489.90" y="286.49" width="26.31" height="6.61" fill="#e69509"/>
<rect x="50.04" y="293.05" width="6.61" height="6.61" fill="#e6cf42"/>
<rect x="56.61" y="293.05" width="26.31" height="6.61" fill="#e6b716"/>
<rect x="82.87" y="293.05" width="6.61" height="6.61" fill="#e6cf42"/>
<rect x="89.43" y="293.05" width="6.61" height="6.61" fill="#e6b716"/>
<rect x="96.00" y="293.05" width="26.31" height="6.61" fill="#e69509"/>
<rect x="122.26" y="293.05" width="6.61" height="6.61" fill="#eb7308"/>
<rect x="128.82" y="293.05" width="6.61" height="6.61" fill="#e6b716"/>
<rect x="135.39" y="293.05" width="13.18" height="6.61" fill="#eb7308"/>
<rect x="148.52" y="293.05" width="6.61" height="6.61" fill="#e69509"/>
<rect x="155.08" y="293.05" width="6.61" height="6.61" fill="#ad366e"/>
<rect x="161.65" y="293.05" width="6.61" height="6.61" fill="#3d26a6"/>
<rect x="168.21" y="293.05" width="6.61" height="6.61" fill="#802f95"/>
<rect x="174.78" y="293.05" width="52.57" height="6.61" fill="#000000"/>
<rect x="227.30" y="293.05" width="13.18" height="6.61" fill="#3d26a6"/>
<rect x="240.43" y="293.05" width="6.61" height="6.61" fill="#802f95"/>
<rect x="246.99" y="293.05" width="6.62" height="6.61" fill="#5728b7"/>
<rect x="253.56" y="293.05" width="6.61" height="6.61" fill="#3d26a6"/>
<rect x="260.12" y="293.05" width="13.18" height="6.61" fill="#141444"/>
<rect x="273.25" y="293.05" width="32.88" height="6.61" fill="#000000"/>
<rect x="306.08" y="293.05" width="6.61" height="6.61" fill="#802f95"/>
<rect x="312.64" y="293.05" width="6.61" height="6.61" fill="#ad366e"/>
<rect x="319.21" y="293.05" width="13.18" height="6.61" fill="#5728b7"/>
<rect x="332.34" y="293.05" width="6.61" height="6.61" fill="#ad366e"/>
<rect x="338.90" y="293.05" width="6.61" height="6.61" fill="#3d26a6"/>
<rect x="345.47" y="293.05" width="6.61" height="6.61" fill="#ad366e"/>
<rect x="352.03" y="293.05" width="13.18" height="6.61" fill="#802f95"/>
<rect x="365.16" y="293.05" width="6.61" height="6.61" fill="#ad366e"/>
<rect x="371.73" y="293.05" width="6.61" height="6.61" fill="#5728b7"/>
<rect x="378.29" y="293.05" width="6.61" height="6.61" fill="#802f95"/>
<rect x="384.86" y="293.05" width="6.61" height="6.61" fill="#5728b7"/>
<rect x="391.42" y="293.05" width="13.18" height="6.61" fill="#3d26a6"/>
<rect x="404.55" y="293.05" width="13.18" height="6.61" fill="#000000"/>
<rect x="417.68" y="293.05" width="19.75" height="6.61" fill="#3d26a6"/>
<rect x="437.38" y="293.05" width="13.18" height="6.61" fill="#5728b7"/>
<rect x="450.51" y="293.05" width="6.61" height="6.61" fill="#802f95"/>
<rect x="457.07" y="293.05" width="13.18" height="6.61" fill="#f8511c"/>
<rect x="470.20" y="293.05" width="6.62" height="6.61" fill="#eb7308"/>
<rect x="476.77" y="293.05" width="6.61" height="6.61" fill="#e69509"/>
<rect x="483.33" y="293.05" width="6.62" height="6.61" fill="#e6b716"/>
<rect x="489.90" y="293.05" width="6.61" height="6.61" fill="#e69509"/>
<rect x="496.46" y="293.05" width="13.18" height="6.61" fill="#e6b716"/>
<rect x="509.59" y="293.05" width="6.62" height="6.61" fill="#e69509"/>
<rect x="50.04" y="299.62" width="19.74" height="6.62" fill="#e6cf42"/>
<rect x="69.74" y="299.62" width="13.18" height="6.62" fill="#e6b716"/>
<rect x="82.87" y="299.62" width="13.18" height="6.62" fill="#e6cf42"/>
<rect x="96.00" y="299.62" width="13.18" height="6.62" fill="#e6b716"/>
<rect x="109.13" y="299.62" width="6.61" height="6.62" fill="#e6cf42"/>
<rect x="115.69" y="299.62" width="6.61" height="6.62" fill="#e6b716"/>
<rect x="122.26" y="299.62" width="6.61" height="6.62" fill="#e69509"/>
<rect x="128.82" y="299.62" width="6.61" height="6.62" fill="#eb7308"/>
<rect x="135.39" y="299.62" width="13.18" height="6.62" fill="#e69509"/>
<rect x="148.52" y="299.62" width="6.61" height="6.62" fill="#e6b716"/>
<rect x="155.08" y="299.62" width="6.61" height="6.62" fill="#e69509"/>
<rect x="161.65" y="299.62" width="6.61" height="6.62" fill="#e43c3e"/>
<rect x="168.21" y="299.62" width="6.61" height="6.62" fill="#eb7308"/>
<rect x="174.78" y="299.62" width="6.61" height="6.62" fill="#292684"/>
<rect x="181.34" y="299.62" width="39.44" height="6.62" fill="#000000"/>
<rect x="220.73" y="299.62" width="13.18" height="6.62" fill="#ad366e"/>
<rect x="233.86" y="299.62" width="6.61" height="6.62" fill="#5728b7"/>
<rect x="240.43" y="299.62" width="13.18" height="6.62" fill="#802f95"/>
<rect x="253.56" y="299.62" width="13.18" height="6.62" fill="#5728b7"/>
<rect x="266.69" y="299.62" width="6.61" height="6.62" fill="#3d26a6"/>
<rect x="273.25" y="299.62" width="13.18" height="6.62" fill="#141444"/>
<rect x="286.38" y="299.62" width="19.74" height="6.62" fill="#000000"/>
<rect x="306.08" y="299.62" width="19.74" height="6.62" fill="#5728b7"/>
<rect x="325.77" y="299.62" width="6.61" height="6.62" fill="#3d26a6"/>
<rect x="332.34" y="299.62" width="6.61" height="6.62" fill="#802f95"/>
<rect x="338.90" y="299.62" width="6.61" height="6.62" fill="#3d26a6"/>
<rect x="345.47" y="299.62" width="13.18" height="6.62" fill="#eb7308"/>
<rect x="358.60" y="299.62" width="13.18" height="6.62" fill="#e69509"/>
<rect x="371.73" y="299.62" width="13.18" height="6.62" fill="#eb7308"/>
<rect x="384.86" y="299.62" width="19.74" height="6.62" fill="#e69509"/>
<rect x="404.55" y="299.62" width="6.61" height="6.62" fill="#eb7308"/>
<rect x="411.12" y="299.62" width="13.18" height="6.62" fill="#000000"/>
<rect x="424.25" y="299.62" width="13.18" height="6.62" fill="#141444"/>
<rect x="437.38" y="299.62" width="6.61" height="6.62" fill="#3d26a6"/>
<rect x="443.94" y="299.62" width="6.62" height="6.62" fill="#141444"/>
<rect x="450.51" y="299.62" width="6.61" height="6.62" fill="#000000"/>
<rect x="457.07" y="299.62" width="6.62" height="6.62" fill="#3d26a6"/>
<rect x="463.64" y="299.62" width="6.61" height="6.62" fill="#5728b7"/>
<rect x="470.20" y="299.62" width="6.62" height="6.62" fill="#802f95"/>
<rect x="476.77" y="299.62" width="13.18" height="6.62" fill="#eb7308"/>
<rect x="489.90" y="299.62" width="13.18" height="6.62" fill="#e69509"/>
<rect x="503.03" y="299.62" width="6.61" height="6.62" fill="#e6b716"/>
<rect x="509.59" y="299.62" width="6.62" height="6.62" fill="#e69509"/>
<rect x="50.04" y="306.18" width="6.61" height="6.61" fill="#e6b716"/>
<rect x="56.61" y="306.18" width="6.61" height="6.61" fill="#e6cf42"/>
<rect x="63.17" y="306.18" width="6.61" height="6.61" fill="#e6e379"/>
<rect x="69.74" y="306.18" width="13.18" height="6.61" fill="#e6cf42"/>
<rect x="82.87" y="306.18" width="6.61" height="6.61" fill="#e6b716"/>
<rect x="89.43" y="306.18" width="13.18" height="6.61" fill="#e6cf42"/>
<rect x="102.56" y="306.18" width="6.61" height="6.61" fill="#e6b716"/>
<rect x="109.13" y="306.18" width="6.61" height="6.61" fill="#e69509"/>
<rect x="115.69" y="306.18" width="19.74" height="6.61" fill="#e6b716"/>
<rect x="135.39" y="306.18" width="13.18" height="6.61" fill="#e69509"/>
<rect x="148.52" y="306.18" width="6.61" height="6.61" fill="#eb7308"/>
<rect x="155.08" y="306.18" width="13.18" height="6.61" fill="#e69509"/>
<rect x="168.21" y="306.18" width="6.61" height="6.61" fill="#eb7308"/>
<rect x="174.78" y="306.18" width="6.61" height="6.61" fill="#5728b7"/>
<rect x="181.34" y="306.18" width="32.87" height="6.61" fill="#000000"/>
<rect x="214.17" y="306.18" width="6.61" height="6.61" fill="#141444"/>
<rect x="220.73" y="306.18" width="6.61" height="6.61" fill="#f8511c"/>
<rect x="227.30" y="306.18" width="6.61" height="6.61" fill="#e69509"/>
<rect x="233.86" y="306.18" width="6.61" height="6.61" fill="#e6b716"/>
<rect x="240.43" y="306.18" width="13.18" height="6.61" fill="#eb7308"/>
<rect x="253.56" y="306.18" width="13.18" height="6.61" fill="#e69509"/>
<rect x="266.69" y="306.18" width="6.61" height="6.61" fill="#f8511c"/>
<rect x="273.25" y="306.18" width="6.61" height="6.61" fill="#3d26a6"/>
<rect x="279.82" y="306.18" width="6.62" height="6.61" fill="#5728b7"/>
<rect x="286.38" y="306.18" width="13.18" height="6.61" fill="#3d26a6"/>
<rect x="299.51" y="306.18" width="6.61" height="6.61" fill="#802f95"/>
<rect x="306.08" y="306.18" width="6.61" height="6.61" fill="#3d26a6"/>
<rect x="312.64" y="306.18" width="6.61" height="6.61" fill="#5728b7"/>
<rect x="319.21" y="306.18" width="6.61" height="6.61" fill="#3d26a6"/>
<rect x="325.77" y="306.18" width="6.61" height="6.61" fill="#ad366e"/>
<rect x="332.34" y="306.18" width="6.61" height="6.61" fill="#5728b7"/>
<rect x="338.90" y="306.18" width="6.61" height="6.61" fill="#e69509"/>
<rect x="345.47" y="306.18" width="6.61" height="6.61" fill="#eb7308"/>
<rect x="352.03" y="306.18" width="13.18" height="6.61" fill="#e6b716"/>
<rect x="365.16" y="306.18" width="26.31" height="6.61" fill="#e69509"/>
<rect x="391.42" y="306.18" width="13.18" height="6.61" fill="#eb7308"/>
<rect x="404.55" y="306.18" width="6.61" height="6.61" fill="#f8511c"/>
<rect x="411.12" y="306.18" width="19.74" height="6.61" fill="#000000"/>
<rect x="430.81" y="306.18" width="6.62" height="6.61" fill="#141444"/>
<rect x="437.38" y="306.18" width="6.61" height="6.61" fill="#3d26a6"/>
<rect x="443.94" y="306.18" width="6.62" height="6.61" fill="#000000"/>
<rect x="450.51" y="306.18" width="6.61" height="6.61" fill="#141444"/>
<rect x="457.07" y="306.18" width="6.62" height="6.61" fill="#3d26a6"/>
<rect x="463.64" y="306.18" width="6.61" height="6.61" fill="#5728b7"/>
<rect x="470.20" y="306.18" width="13.18" height="6.61" fill="#802f95"/>
<rect x="483.33" y="306.18" width="6.62" height="6.61" fill="#5728b7"/>
<rect x="489.90" y="306.18" width="6.61" height="6.61" fill="#ad366e"/>
<rect x="496.46" y="306.18" width="6.62" height="6.61" fill="#802f95"/>
<rect x="503.03" y="306.18" width="13.18" height="6.61" fill="#ad366e"/>
<rect x="50.04" y="312.75" width="19.74" height="6.61" fill="#e6b716"/>
<rect x="69.74" y="312.75" width="6.61" height="6.61" fill="#e69509"/>
<rect x="76.30" y="312.75" width="19.74" height="6.61" fill="#e6b716"/>
<rect x="96.00" y="312.75" width="6.61" height="6.61" fill="#e6cf42"/>
<rect x="102.56" y="312.75" width="13.18" height="6.61" fill="#e6b716"/>
<rect x="115.69" y="312.75" width="6.61" height="6.61" fill="#e69509"/>
<rect x="122.26" y="312.75" width="6.61" height="6.61" fill="#e6b716"/>
<rect x="128.82" y="312.75" width="6.61" height="6.61" fill="#e6cf42"/>
<rect x="135.39" y="312.75" width="6.61" height="6.61" fill="#e6b716"/>
<rect x="141.95" y="312.75" width="6.62" height="6.61" fill="#e69509"/>
<rect x="148.52" y="312.75" width="6.61" height="6.61" fill="#eb7308"/>
<rect x="155.08" y="312.75" width="19.74" height="6.61" fill="#e69509"/>
<rect x="174.78" y="312.75" width="6.61" height="6.61" fill="#802f95"/>
<rect x="181.34" y="312.75" width="13.18" height="6.61" fill="#000000"/>
<rect x="194.47" y="312.75" width="6.61" height="6.61" fill="#eb7308"/>
<rect x="201.04" y="312.75" width="19.74" height="6.61" fill="#e69509"/>
<rect x="220.73" y="312.75" width="6.61" height="6.61" fill="#eb7308"/>
<rect x="227.30" y="312.75" width="13.18" height="6.61" fill="#e69509"/>
<rect x="240.43" y="312.75" width="6.61" height="6.61" fill="#e6b716"/>
<rect x="246.99" y="312.75" width="13.18" height="6.61" fill="#e69509"/>
<rect x="260.12" y="312.75" width="19.74" height="6.61" fill="#eb7308"/>
<rect x="279.82" y="312.75" width="6.62" height="6.61" fill="#e43c3e"/>
<rect x="286.38" y="312.75" width="6.61" height="6.61" fill="#000000"/>
<rect x="292.95" y="312.75" width="6.61" height="6.61" fill="#3d26a6"/>
<rect x="299.51" y="312.75" width="6.61" height="6.61" fill="#5728b7"/>
<rect x="306.08" y="312.75" width="13.18" height="6.61" fill="#3d26a6"/>
<rect x="319.21" y="312.75" width="6.61" height="6.61" fill="#802f95"/>
<rect x="325.77" y="312.75" width="6.61" height="6.61" fill="#3d26a6"/>
<rect x="332.34" y="312.75" width="6.61" height="6.61" fill="#e43c3e"/>
<rect x="338.90" y="312.75" width="13.18" height="6.61" fill="#eb7308"/>
<rect x="352.03" y="312.75" width="6.61" height="6.61" fill="#e69509"/>
<rect x="358.60" y="312.75" width="6.61" height="6.61" fill="#eb7308"/>
<rect x="365.16" y="312.75" width="6.61" height="6.61" fill="#e69509"/>
<rect x="371.73" y="312.75" width="13.18" height="6.61" fill="#eb7308"/>
<rect x="384.86" y="312.75" width="6.61" height="6.61" fill="#e69509"/>
<rect x="391.42" y="312.75" width="19.74" height="6.61" fill="#eb7308"/>
<rect x="411.12" y="312.75" width="6.61" height="6.61" fill="#e43c3e"/>
<rect x="417.68" y="312.75" width="13.18" height="6.61" fill="#3d26a6"/>
<rect x="430.81" y="312.75" width="6.62" height="6.61" fill="#802f95"/>
<rect x="437.38" y="312.75" width="6.61" height="6.61" fill="#5728b7"/>
<rect x="443.94" y="312.75" width="6.62" height="6.61" fill="#3d26a6"/>
<rect x="450.51" y="312.75" width="13.18" height="6.61" fill="#141444"/>
<rect x="463.64" y="312.75" width="6.61" height="6.61" fill="#802f95"/>
<rect x="470.20" y="312.75" width="13.18" height="6.61" fill="#ad366e"/>
<rect x="483.33" y="312.75" width="6.62" height="6.61" fill="#eb7308"/>
<rect x="489.90" y="312.75" width="13.18" height="6.61" fill="#ad366e"/>
<rect x="503.03" y="312.75" width="6.61" height="6.61" fill="#5728b7"/>
<rect x="509.59" y="312.75" width="6.62" height="6.61" fill="#802f95"/>
<rect x="50.04" y="319.31" width="6.61" height="6.61" fill="#eb7308"/>
<rect x="56.61" y="319.31" width="6.61" height="6.61" fill="#f8511c"/>
<rect x="63.17" y="319.31" width="13.18" height="6.61" fill="#eb7308"/>
<rect x="76.30" y="319.31" width="6.61" height="6.61" fill="#e69509"/>
<rect x="82.87" y="319.31" width="6.61" height="6.61" fill="#eb7308"/>
<rect x="89.43" y="319.31" width="6.61" height="6.61" fill="#f8511c"/>
<rect x="96.00" y="319.31" width="6.61" height="6.61" fill="#eb7308"/>
<rect x="102.56" y="319.31" width="6.61" height="6.61" fill="#e69509"/>
<rect x="109.13" y="319.31" width="13.18" height="6.61" fill="#eb7308"/>
<rect x="122.26" y="319.31" width="6.61" height="6.61" fill="#e69509"/>
<rect x="128.82" y="319.31" width="13.18" height="6.61" fill="#eb7308"/>
<rect x="141.95" y="319.31" width="6.62" height="6.61" fill="#e69509"/>
<rect x="148.52" y="319.31" width="13.18" height="6.61" fill="#eb7308"/>
<rect x="161.65" y="319.31" width="6.61" height="6.61" fill="#e69509"/>
<rect x="168.21" y="319.31" width="6.61" height="6.61" fill="#e6b716"/>
<rect x="174.78" y="319.31" width="6.61" height="6.61" fill="#e69509"/>
<rect x="181.34" y="319.31" width="6.61" height="6.61" fill="#5728b7"/>
<rect x="187.91" y="319.31" width="6.61" height="6.61" fill="#e6b716"/>
<rect x="194.47" y="319.31" width="6.61" height="6.61" fill="#e6cf42"/>
<rect x="201.04" y="319.31" width="19.74" height="6.61" fill="#e6b716"/>
<rect x="220.73" y="319.31" width="13.18" height="6.61" fill="#e69509"/>
<rect x="233.86" y="319.31" width="13.18" height="6.61" fill="#e6b716"/>
<rect x="246.99" y="319.31" width="6.62" height="6.61" fill="#e69509"/>
<rect x="253.56" y="319.31" width="6.61" height="6.61" fill="#e6b716"/>
<rect x="260.12" y="319.31" width="13.18" height="6.61" fill="#e69509"/>
<rect x="273.25" y="319.31" width="6.61" height="6.61" fill="#eb7308"/>
<rect x="279.82" y="319.31" width="6.62" height="6.61" fill="#e69509"/>
<rect x="286.38" y="319.31" width="6.61" height="6.61" fill="#3d26a6"/>
<rect x="292.95" y="319.31" width="13.18" height="6.61" fill="#5728b7"/>
<rect x="306.08" y="319.31" width="13.18" height="6.61" fill="#3d26a6"/>
<rect x="319.21" y="319.31" width="6.61" height="6.61" fill="#5728b7"/>
<rect x="325.77" y="319.31" width="6.61" height="6.61" fill="#802f95"/>
<rect x="332.34" y="319.31" width="6.61" height="6.61" fill="#e6b716"/>
<rect x="338.90" y="319.31" width="6.61" height="6.61" fill="#e69509"/>
<rect x="345.47" y="319.31" width="6.61" height="6.61" fill="#f8511c"/>
<rect x="352.03" y="319.31" width="6.61" height="6.61" fill="#eb7308"/>
<rect x="358.60" y="319.31" width="6.61" height="6.61" fill="#f8511c"/>
<rect x="365.16" y="319.31" width="6.61" height="6.61" fill="#eb7308"/>
<rect x="371.73" y="319.31" width="6.61" height="6.61" fill="#f8511c"/>
<rect x="378.29" y="319.31" width="6.61" height="6.61" fill="#eb7308"/>
<rect x="384.86" y="319.31" width="6.61" height="6.61" fill="#e43c3e"/>
<rect x="391.42" y="319.31" width="6.61" height="6.61" fill="#eb7308"/>
<rect x="397.99" y="319.31" width="6.61" height="6.61" fill="#f8511c"/>
<rect x="404.55" y="319.31" width="6.61" height="6.61" fill="#eb7308"/>
<rect x="411.12" y="319.31" width="6.61" height="6.61" fill="#e43c3e"/>
<rect x="417.68" y="319.31" width="6.62" height="6.61" fill="#e69509"/>
<rect x="424.25" y="319.31" width="6.61" height="6.61" fill="#e6b716"/>
<rect x="430.81" y="319.31" width="6.62" height="6.61" fill="#e6cf42"/>
<rect x="437.38" y="319.31" width="13.18" height="6.61" fill="#e6e379"/>
<rect x="450.51" y="319.31" width="6.61" height="6.61" fill="#e6cf42"/>
<rect x="457.07" y="319.31" width="6.62" height="6.61" fill="#e6e379"/>
<rect x="463.64" y="319.31" width="13.18" height="6.61" fill="#e6cf42"/>
<rect x="476.77" y="319.31" width="13.18" height="6.61" fill="#eb7308"/>
<rect x="489.90" y="319.31" width="6.61" height="6.61" fill="#f8511c"/>
<rect x="496.46" y="319.31" width="6.62" height="6.61" fill="#e43c3e"/>
<rect x="503.03" y="319.31" width="6.61" height="6.61" fill="#ad366e"/>
<rect x="509.59" y="319.31" width="6.62" height="6.61" fill="#e43c3e"/>
<rect x="50.04" y="325.88" width="6.61" height="6.61" fill="#3d26a6"/>
<rect x="56.61" y="325.88" width="6.61" height="6.61" fill="#e43c3e"/>
<rect x="63.17" y="325.88" width="6.61" height="6.61" fill="#ad366e"/>
<rect x="69.74" y="325.88" width="6.61" height="6.61" fill="#5728b7"/>
<rect x="76.30" y="325.88" width="6.61" height="6.61" fill="#eb7308"/>
<rect x="82.87" y="325.88" width="6.61" height="6.61" fill="#802f95"/>
<rect x="89.43" y="325.88" width="6.61" height="6.61" fill="#ad366e"/>
<rect x="96.00" y="325.88" width="6.61" height="6.61" fill="#e43c3e"/>
<rect x="102.56" y="325.88" width="6.61" height="6.61" fill="#eb7308"/>
<rect x="109.13" y="325.88" width="6.61" height="6.61" fill="#ad366e"/>
<rect x="115.69" y="325.88" width="6.61" height="6.61" fill="#802f95"/>
<rect x="122.26" y="325.88" width="6.61" height="6.61" fill="#eb7308"/>
<rect x="128.82" y="325.88" width="6.61" height="6.61" fill="#802f95"/>
<rect x="135.39" y="325.88" width="6.61" height="6.61" fill="#f8511c"/>
<rect x="141.95" y="325.88" width="13.18" height="6.61" fill="#eb7308"/>
<rect x="155.08" y="325.88" width="6.61" height="6.61" fill="#802f95"/>
<rect x="161.65" y="325.88" width="6.61" height="6.61" fill="#eb7308"/>
<rect x="168.21" y="325.88" width="13.18" height="6.61" fill="#e69509"/>
<rect x="181.34" y="325.88" width="6.61" height="6.61" fill="#5728b7"/>
<rect x="187.91" y="325.88" width="6.61" height="6.61" fill="#e6b716"/>
<rect x="194.47" y="325.88" width="26.31" height="6.61" fill="#e6cf42"/>
<rect x="220.73" y="325.88" width="19.74" height="6.61" fill="#e69509"/>
<rect x="240.43" y="325.88" width="6.61" height="6.61" fill="#e6b716"/>
<rect x="246.99" y="325.88" width="13.18" height="6.61" fill="#e69509"/>
<rect x="260.12" y="325.88" width="6.61" height="6.61" fill="#e6b716"/>
<rect x="266.69" y="325.88" width="13.18" height="6.61" fill="#e69509"/>
<rect x="279.82" y="325.88" width="6.62" height="6.61" fill="#eb7308"/>
<rect x="286.38" y="325.88" width="13.18" height="6.61" fill="#5728b7"/>
<rect x="299.51" y="325.88" width="13.18" height="6.61" fill="#802f95"/>
<rect x="312.64" y="325.88" width="6.61" height="6.61" fill="#5728b7"/>
<rect x="319.21" y="325.88" width="13.18" height="6.61" fill="#ad366e"/>
<rect x="332.34" y="325.88" width="6.61" height="6.61" fill="#e6cf42"/>
<rect x="338.90" y="325.88" width="13.18" height="6.61" fill="#eb7308"/>
<rect x="352.03" y="325.88" width="6.61" height="6.61" fill="#f8511c"/>
<rect x="358.60" y="325.88" width="13.18" height="6.61" fill="#e43c3e"/>
<rect x="371.73" y="325.88" width="6.61" height="6.61" fill="#f8511c"/>
<rect x="378.29" y="325.88" width="6.61" height="6.61" fill="#eb7308"/>
<rect x="384.86" y="325.88" width="6.61" height="6.61" fill="#e43c3e"/>
<rect x="391.42" y="325.88" width="13.18" height="6.61" fill="#ad366e"/>
<rect x="404.55" y="325.88" width="13.18" height="6.61" fill="#eb7308"/>
<rect x="417.68" y="325.88" width="13.18" height="6.61" fill="#e6b716"/>
<rect x="430.81" y="325.88" width="6.62" height="6.61" fill="#e6cf42"/>
<rect x="437.38" y="325.88" width="32.87" height="6.61" fill="#e6e379"/>
<rect x="470.20" y="325.88" width="6.62" height="6.61" fill="#e6cf42"/>
<rect x="476.77" y="325.88" width="6.61" height="6.61" fill="#eb7308"/>
<rect x="483.33" y="325.88" width="6.62" height="6.61" fill="#e69509"/>
<rect x="489.90" y="325.88" width="6.61" height="6.61" fill="#f8511c"/>
<rect x="496.46" y="325.88" width="6.62" height="6.61" fill="#e43c3e"/>
<rect x="503.03" y="325.88" width="6.61" height="6.61" fill="#ad366e"/>
<rect x="509.59" y="325.88" width="6.62" height="6.61" fill="#e43c3e"/>
<rect x="50.04" y="332.44" width="6.61" height="6.61" fill="#802f95"/>
<rect x="56.61" y="332.44" width="13.18" height="6.61" fill="#ad366e"/>
<rect x="69.74" y="332.44" width="6.61" height="6.61" fill="#802f95"/>
<rect x="76.30" y="332.44" width="6.61" height="6.61" fill="#ad366e"/>
<rect x="82.87" y="332.44" width="13.18" height="6.61" fill="#802f95"/>
<rect x="96.00" y="332.44" width="13.18" height="6.61" fill="#ad366e"/>
<rect x="109.13" y="332.44" width="6.61" height="6.61" fill="#802f95"/>
<rect x="115.69" y="332.44" width="6.61" height="6.61" fill="#ad366e"/>
<rect x="122.26" y="332.44" width="6.61" height="6.61" fill="#802f95"/>
<rect x="128.82" y="332.44" width="13.18" height="6.61" fill="#ad366e"/>
<rect x="141.95" y="332.44" width="6.62" height="6.61" fill="#802f95"/>
<rect x="148.52" y="332.44" width="26.31" height="6.61" fill="#ad366e"/>
<rect x="174.78" y="332.44" width="6.61" height="6.61" fill="#802f95"/>
<rect x="181.34" y="332.44" width="6.61" height="6.61" fill="#ad366e"/>
<rect x="187.91" y="332.44" width="6.61" height="6.61" fill="#e6cf42"/>
<rect x="194.47" y="332.44" width="6.61" height="6.61" fill="#e6e379"/>
<rect x="201.04" y="332.44" width="6.61" height="6.61" fill="#e6cf42"/>
<rect x="207.60" y="332.44" width="6.61" height="6.61" fill="#e6b716"/>
<rect x="214.17" y="332.44" width="6.61" height="6.61" fill="#e69509"/>
<rect x="220.73" y="332.44" width="6.61" height="6.61" fill="#ad366e"/>
<rect x="227.30" y="332.44" width="6.61" height="6.61" fill="#802f95"/>
<rect x="233.86" y="332.44" width="6.61" height="6.61" fill="#ad366e"/>
<rect x="240.43" y="332.44" width="13.18" height="6.61" fill="#802f95"/>
<rect x="253.56" y="332.44" width="6.61" height="6.61" fill="#ad366e"/>
<rect x="260.12" y="332.44" width="13.18" height="6.61" fill="#eb7308"/>
<rect x="273.25" y="332.44" width="6.61" height="6.61" fill="#f8511c"/>
<rect x="279.82" y="332.44" width="6.62" height="6.61" fill="#eb7308"/>
<rect x="286.38" y="332.44" width="6.61" height="6.61" fill="#f8511c"/>
<rect x="292.95" y="332.44" width="6.61" height="6.61" fill="#ad366e"/>
<rect x="299.51" y="332.44" width="6.61" height="6.61" fill="#e6b716"/>
<rect x="306.08" y="332.44" width="13.18" height="6.61" fill="#e6cf42"/>
<rect x="319.21" y="332.44" width="6.61" height="6.61" fill="#e6b716"/>
<rect x="325.77" y="332.44" width="6.61" height="6.61" fill="#5728b7"/>
<rect x="332.34" y="332.44" width="6.61" height="6.61" fill="#802f95"/>
<rect x="338.90" y="332.44" width="6.61" height="6.61" fill="#5728b7"/>
<rect x="345.47" y="332.44" width="6.61" height="6.61" fill="#ad366e"/>
<rect x="352.03" y="332.44" width="6.61" height="6.61" fill="#802f95"/>
<rect x="358.60" y="332.44" width="6.61" height="6.61" fill="#ad366e"/>
<rect x="365.16" y="332.44" width="6.61" height="6.61" fill="#eb7308"/>
<rect x="371.73" y="332.44" width="6.61" height="6.61" fill="#802f95"/>
<rect x="378.29" y="332.44" width="6.61" height="6.61" fill="#ad366e"/>
<rect x="384.86" y="332.44" width="6.61" height="6.61" fill="#802f95"/>
<rect x="391.42" y="332.44" width="19.74" height="6.61" fill="#ad366e"/>
<rect x="411.12" y="332.44" width="6.61" height="6.61" fill="#802f95"/>
<rect x="417.68" y="332.44" width="6.62" height="6.61" fill="#ad366e"/>
<rect x="424.25" y="332.44" width="6.61" height="6.61" fill="#802f95"/>
<rect x="430.81" y="332.44" width="6.62" height="6.61" fill="#e6e379"/>
<rect x="437.38" y="332.44" width="19.74" height="6.61" fill="#f1f1bb"/>
<rect x="457.07" y="332.44" width="19.75" height="6.61" fill="#e6e379"/>
<rect x="476.77" y="332.44" width="6.61" height="6.61" fill="#e6cf42"/>
<rect x="483.33" y="332.44" width="6.62" height="6.61" fill="#e6b716"/>
<rect x="489.90" y="332.44" width="6.61" height="6.61" fill="#802f95"/>
<rect x="496.46" y="332.44" width="6.62" height="6.61" fill="#ad366e"/>
<rect x="503.03" y="332.44" width="13.18" height="6.61" fill="#802f95"/>
<rect x="50.04" y="339.01" width="6.61" height="6.61" fill="#3d26a6"/>
<rect x="56.61" y="339.01" width="13.18" height="6.61" fill="#5728b7"/>
<rect x="69.74" y="339.01" width="6.61" height="6.61" fill="#3d26a6"/>
<rect x="76.30" y="339.01" width="6.61" height="6.61" fill="#5728b7"/>
<rect x="82.87" y="339.01" width="6.61" height="6.61" fill="#3d26a6"/>
<rect x="89.43" y="339.01" width="6.61" height="6.61" fill="#5728b7"/>
<rect x="96.00" y="339.01" width="6.61" height="6.61" fill="#802f95"/>
<rect x="102.56" y="339.01" width="6.61" height="6.61" fill="#e69509"/>
<rect x="109.13" y="339.01" width="6.61" height="6.61" fill="#802f95"/>
<rect x="115.69" y="339.01" width="6.61" height="6.61" fill="#5728b7"/>
<rect x="122.26" y="339.01" width="6.61" height="6.61" fill="#3d26a6"/>
<rect x="128.82" y="339.01" width="6.61" height="6.61" fill="#5728b7"/>
<rect x="135.39" y="339.01" width="13.18" height="6.61" fill="#3d26a6"/>
<rect x="148.52" y="339.01" width="19.74" height="6.61" fill="#5728b7"/>
<rect x="168.21" y="339.01" width="6.61" height="6.61" fill="#802f95"/>
<rect x="174.78" y="339.01" width="6.61" height="6.61" fill="#e43c3e"/>
<rect x="181.34" y="339.01" width="6.61" height="6.61" fill="#ad366e"/>
<rect x="187.91" y="339.01" width="6.61" height="6.61" fill="#e6cf42"/>
<rect x="194.47" y="339.01" width="13.18" height="6.61" fill="#e6e379"/>
<rect x="207.60" y="339.01" width="6.61" height="6.61" fill="#e6b716"/>
<rect x="214.17" y="339.01" width="13.18" height="6.61" fill="#5728b7"/>
<rect x="227.30" y="339.01" width="6.61" height="6.61" fill="#802f95"/>
<rect x="233.86" y="339.01" width="6.61" height="6.61" fill="#3d26a6"/>
<rect x="240.43" y="339.01" width="6.61" height="6.61" fill="#802f95"/>
<rect x="246.99" y="339.01" width="19.74" height="6.61" fill="#5728b7"/>
<rect x="266.69" y="339.01" width="32.88" height="6.61" fill="#802f95"/>
<rect x="299.51" y="339.01" width="6.61" height="6.61" fill="#e6cf42"/>
<rect x="306.08" y="339.01" width="13.18" height="6.61" fill="#e6b716"/>
<rect x="319.21" y="339.01" width="6.61" height="6.61" fill="#5728b7"/>
<rect x="325.77" y="339.01" width="6.61" height="6.61" fill="#802f95"/>
<rect x="332.34" y="339.01" width="13.18" height="6.61" fill="#5728b7"/>
<rect x="345.47" y="339.01" width="13.18" height="6.61" fill="#802f95"/>
<rect x="358.60" y="339.01" width="6.61" height="6.61" fill="#ad366e"/>
<rect x="365.16" y="339.01" width="6.61" height="6.61" fill="#eb7308"/>
<rect x="371.73" y="339.01" width="13.18" height="6.61" fill="#802f95"/>
<rect x="384.86" y="339.01" width="6.61" height="6.61" fill="#5728b7"/>
<rect x="391.42" y="339.01" width="13.18" height="6.61" fill="#802f95"/>
<rect x="404.55" y="339.01" width="13.18" height="6.61" fill="#5728b7"/>
<rect x="417.68" y="339.01" width="6.62" height="6.61" fill="#802f95"/>
<rect x="424.25" y="339.01" width="6.61" height="6.61" fill="#5728b7"/>
<rect x="430.81" y="339.01" width="6.62" height="6.61" fill="#ad366e"/>
<rect x="437.38" y="339.01" width="19.74" height="6.61" fill="#f1f1bb"/>
<rect x="457.07" y="339.01" width="19.75" height="6.61" fill="#e6e379"/>
<rect x="476.77" y="339.01" width="6.61" height="6.61" fill="#e6b716"/>
<rect x="483.33" y="339.01" width="6.62" height="6.61" fill="#802f95"/>
<rect x="489.90" y="339.01" width="6.61" height="6.61" fill="#5728b7"/>
<rect x="496.46" y="339.01" width="6.62" height="6.61" fill="#3d26a6"/>
<rect x="503.03" y="339.01" width="6.61" height="6.61" fill="#5728b7"/>
<rect x="509.59" y="339.01" width="6.62" height="6.61" fill="#3d26a6"/>
<rect x="50.04" y="345.57" width="13.18" height="6.61" fill="#3d26a6"/>
<rect x="63.17" y="345.57" width="6.61" height="6.61" fill="#802f95"/>
<rect x="69.74" y="345.57" width="6.61" height="6.61" fill="#3d26a6"/>
<rect x="76.30" y="345.57" width="6.61" height="6.61" fill="#292684"/>
<rect x="82.87" y="345.57" width="46.00" height="6.61" fill="#3d26a6"/>
<rect x="128.82" y="345.57" width="6.61" height="6.61" fill="#000000"/>
<rect x="135.39" y="345.57" width="6.61" height="6.61" fill="#3d26a6"/>
<rect x="141.95" y="345.57" width="6.62" height="6.61" fill="#292684"/>
<rect x="148.52" y="345.57" width="6.61" height="6.61" fill="#e69509"/>
<rect x="155.08" y="345.57" width="6.61" height="6.61" fill="#802f95"/>
<rect x="161.65" y="345.57" width="6.61" height="6.61" fill="#5728b7"/>
<rect x="168.21" y="345.57" width="6.61" height="6.61" fill="#3d26a6"/>
<rect x="174.78" y="345.57" width="6.61" height="6.61" fill="#802f95"/>
<rect x="181.34" y="345.57" width="6.61" height="6.61" fill="#ad366e"/>
<rect x="187.91" y="345.57" width="13.18" height="6.61" fill="#e6e379"/>
<rect x="201.04" y="345.57" width="6.61" height="6.61" fill="#5728b7"/>
<rect x="207.60" y="345.57" width="19.74" height="6.61" fill="#3d26a6"/>
<rect x="227.30" y="345.57" width="6.61" height="6.61" fill="#5728b7"/>
<rect x="233.86" y="345.57" width="13.18" height="6.61" fill="#3d26a6"/>
<rect x="246.99" y="345.57" width="6.62" height="6.61" fill="#5728b7"/>
<rect x="253.56" y="345.57" width="13.18" height="6.61" fill="#3d26a6"/>
<rect x="266.69" y="345.57" width="6.61" height="6.61" fill="#5728b7"/>
<rect x="273.25" y="345.57" width="13.18" height="6.61" fill="#3d26a6"/>
<rect x="286.38" y="345.57" width="13.18" height="6.61" fill="#5728b7"/>
<rect x="299.51" y="345.57" width="26.31" height="6.61" fill="#3d26a6"/>
<rect x="325.77" y="345.57" width="6.61" height="6.61" fill="#5728b7"/>
<rect x="332.34" y="345.57" width="13.18" height="6.61" fill="#3d26a6"/>
<rect x="345.47" y="345.57" width="13.18" height="6.61" fill="#5728b7"/>
<rect x="358.60" y="345.57" width="6.61" height="6.61" fill="#802f95"/>
<rect x="365.16" y="345.57" width="6.61" height="6.61" fill="#eb7308"/>
<rect x="371.73" y="345.57" width="6.61" height="6.61" fill="#5728b7"/>
<rect x="378.29" y="345.57" width="6.61" height="6.61" fill="#802f95"/>
<rect x="384.86" y="345.57" width="6.61" height="6.61" fill="#141444"/>
<rect x="391.42" y="345.57" width="6.61" height="6.61" fill="#3d26a6"/>
<rect x="397.99" y="345.57" width="6.61" height="6.61" fill="#5728b7"/>
<rect x="404.55" y="345.57" width="6.61" height="6.61" fill="#3d26a6"/>
<rect x="411.12" y="345.57" width="6.61" height="6.61" fill="#5728b7"/>
<rect x="417.68" y="345.57" width="13.18" height="6.61" fill="#3d26a6"/>
<rect x="430.81" y="345.57" width="6.62" height="6.61" fill="#5728b7"/>
<rect x="437.38" y="345.57" width="26.31" height="6.61" fill="#3d26a6"/>
<rect x="463.64" y="345.57" width="6.61" height="6.61" fill="#5728b7"/>
<rect x="470.20" y="345.57" width="6.62" height="6.61" fill="#e6cf42"/>
<rect x="476.77" y="345.57" width="6.61" height="6.61" fill="#e6b716"/>
<rect x="483.33" y="345.57" width="19.75" height="6.61" fill="#3d26a6"/>
<rect x="503.03" y="345.57" width="6.61" height="6.61" fill="#5728b7"/>
<rect x="509.59" y="345.57" width="6.62" height="6.61" fill="#ad366e"/>
<rect x="50.04" y="352.14" width="19.74" height="6.61" fill="#3d26a6"/>
<rect x="69.74" y="352.14" width="6.61" height="6.61" fill="#ad366e"/>
<rect x="76.30" y="352.14" width="6.61" height="6.61" fill="#3d26a6"/>
<rect x="82.87" y="352.14" width="6.61" height="6.61" fill="#5728b7"/>
<rect x="89.43" y="352.14" width="19.74" height="6.61" fill="#3d26a6"/>
<rect x="109.13" y="352.14" width="6.61" height="6.61" fill="#292684"/>
<rect x="115.69" y="352.14" width="13.18" height="6.61" fill="#3d26a6"/>
<rect x="128.82" y="352.14" width="6.61" height="6.61" fill="#141444"/>
<rect x="135.39" y="352.14" width="13.18" height="6.61" fill="#3d26a6"/>
<rect x="148.52" y="352.14" width="6.61" height="6.61" fill="#292684"/>
<rect x="155.08" y="352.14" width="19.74" height="6.61" fill="#3d26a6"/>
<rect x="174.78" y="352.14" width="6.61" height="6.61" fill="#5728b7"/>
<rect x="181.34" y="352.14" width="6.61" height="6.61" fill="#802f95"/>
<rect x="187.91" y="352.14" width="6.61" height="6.61" fill="#f1f1bb"/>
<rect x="194.47" y="352.14" width="6.61" height="6.61" fill="#e69509"/>
<rect x="201.04" y="352.14" width="26.31" height="6.61" fill="#3d26a6"/>
<rect x="227.30" y="352.14" width="6.61" height="6.61" fill="#292684"/>
<rect x="233.86" y="352.14" width="6.61" height="6.61" fill="#000000"/>
<rect x="240.43" y="352.14" width="6.61" height="6.61" fill="#141444"/>
<rect x="246.99" y="352.14" width="26.31" height="6.61" fill="#3d26a6"/>
<rect x="273.25" y="352.14" width="6.61" height="6.61" fill="#292684"/>
<rect x="279.82" y="352.14" width="19.75" height="6.61" fill="#3d26a6"/>
<rect x="299.51" y="352.14" width="6.61" height="6.61" fill="#292684"/>
<rect x="306.08" y="352.14" width="13.18" height="6.61" fill="#3d26a6"/>
<rect x="319.21" y="352.14" width="6.61" height="6.61" fill="#5728b7"/>
<rect x="325.77" y="352.14" width="19.74" height="6.61" fill="#3d26a6"/>
<rect x="345.47" y="352.14" width="6.61" height="6.61" fill="#5728b7"/>
<rect x="352.03" y="352.14" width="6.61" height="6.61" fill="#3d26a6"/>
<rect x="358.60" y="352.14" width="6.61" height="6.61" fill="#ad366e"/>
<rect x="365.16" y="352.14" width="6.61" height="6.61" fill="#3d26a6"/>
<rect x="371.73" y="352.14" width="13.18" height="6.61" fill="#5728b7"/>
<rect x="384.86" y="352.14" width="6.61" height="6.61" fill="#292684"/>
<rect x="391.42" y="352.14" width="13.18" height="6.61" fill="#3d26a6"/>
<rect x="404.55" y="352.14" width="6.61" height="6.61" fill="#141444"/>
<rect x="411.12" y="352.14" width="13.18" height="6.61" fill="#3d26a6"/>
<rect x="424.25" y="352.14" width="6.61" height="6.61" fill="#5728b7"/>
<rect x="430.81" y="352.14" width="19.75" height="6.61" fill="#3d26a6"/>
<rect x="450.51" y="352.14" width="6.61" height="6.61" fill="#292684"/>
<rect x="457.07" y="352.14" width="13.18" height="6.61" fill="#3d26a6"/>
<rect x="470.20" y="352.14" width="6.62" height="6.61" fill="#5728b7"/>
<rect x="476.77" y="352.14" width="6.61" height="6.61" fill="#3d26a6"/>
<rect x="483.33" y="352.14" width="6.62" height="6.61" fill="#5728b7"/>
<rect x="489.90" y="352.14" width="6.61" height="6.61" fill="#802f95"/>
<rect x="496.46" y="352.14" width="13.18" height="6.61" fill="#3d26a6"/>
<rect x="509.59" y="352.14" width="6.62" height="6.61" fill="#5728b7"/>
<rect x="50.04" y="358.70" width="6.61" height="6.61" fill="#3d26a6"/>
<rect x="56.61" y="358.70" width="6.61" height="6.61" fill="#5728b7"/>
<rect x="63.17" y="358.70" width="6.61" height="6.61" fill="#3d26a6"/>
<rect x="69.74" y="358.70" width="13.18" height="6.61" fill="#292684"/>
<rect x="82.87" y="358.70" width="13.18" height="6.61" fill="#3d26a6"/>
<rect x="96.00" y="358.70" width="6.61" height="6.61" fill="#5728b7"/>
<rect x="102.56" y="358.70" width="13.18" height="6.61" fill="#3d26a6"/>
<rect x="115.69" y="358.70" width="6.61" height="6.61" fill="#292684"/>
<rect x="122.26" y="358.70" width="6.61" height="6.61" fill="#000000"/>
<rect x="128.82" y="358.70" width="6.61" height="6.61" fill="#3d26a6"/>
<rect x="135.39" y="358.70" width="6.61" height="6.61" fill="#000000"/>
<rect x="141.95" y="358.70" width="6.62" height="6.61" fill="#141444"/>
<rect x="148.52" y="358.70" width="13.18" height="6.61" fill="#5728b7"/>
<rect x="161.65" y="358.70" width="13.18" height="6.61" fill="#3d26a6"/>
<rect x="174.78" y="358.70" width="6.61" height="6.61" fill="#5728b7"/>
<rect x="181.34" y="358.70" width="6.61" height="6.61" fill="#ad366e"/>
<rect x="187.91" y="358.70" width="6.61" height="6.61" fill="#f1f1bb"/>
<rect x="194.47" y="358.70" width="6.61" height="6.61" fill="#802f95"/>
<rect x="201.04" y="358.70" width="6.61" height="6.61" fill="#3d26a6"/>
<rect x="207.60" y="358.70" width="6.61" height="6.61" fill="#292684"/>
<rect x="214.17" y="358.70" width="6.61" height="6.61" fill="#3d26a6"/>
<rect x="220.73" y="358.70" width="6.61" height="6.61" fill="#5728b7"/>
<rect x="227.30" y="358.70" width="6.61" height="6.61" fill="#3d26a6"/>
<rect x="233.86" y="358.70" width="6.61" height="6.61" fill="#5728b7"/>
<rect x="240.43" y="358.70" width="13.18" height="6.61" fill="#3d26a6"/>
<rect x="253.56" y="358.70" width="6.61" height="6.61" fill="#ad366e"/>
<rect x="260.12" y="358.70" width="6.61" height="6.61" fill="#3d26a6"/>
<rect x="266.69" y="358.70" width="6.61" height="6.61" fill="#000000"/>
<rect x="273.25" y="358.70" width="13.18" height="6.61" fill="#3d26a6"/>
<rect x="286.38" y="358.70" width="6.61" height="6.61" fill="#141444"/>
<rect x="292.95" y="358.70" width="6.61" height="6.61" fill="#3d26a6"/>
<rect x="299.51" y="358.70" width="6.61" height="6.61" fill="#292684"/>
<rect x="306.08" y="358.70" width="6.61" height="6.61" fill="#141444"/>
<rect x="312.64" y="358.70" width="6.61" height="6.61" fill="#3d26a6"/>
<rect x="319.21" y="358.70" width="6.61" height="6.61" fill="#141444"/>
<rect x="325.77" y="358.70" width="6.61" height="6.61" fill="#292684"/>
<rect x="332.34" y="358.70" width="6.61" height="6.61" fill="#3d26a6"/>
<rect x="338.90" y="358.70" width="6.61" height="6.61" fill="#292684"/>
<rect x="345.47" y="358.70" width="19.74" height="6.61" fill="#3d26a6"/>
<rect x="365.16" y="358.70" width="6.61" height="6.61" fill="#141444"/>
<rect x="371.73" y="358.70" width="13.18" height="6.61" fill="#3d26a6"/>
<rect x="384.86" y="358.70" width="6.61" height="6.61" fill="#292684"/>
<rect x="391.42" y="358.70" width="6.61" height="6.61" fill="#3d26a6"/>
<rect x="397.99" y="358.70" width="6.61" height="6.61" fill="#141444"/>
<rect x="404.55" y="358.70" width="13.18" height="6.61" fill="#3d26a6"/>
<rect x="417.68" y="358.70" width="6.62" height="6.61" fill="#5728b7"/>
<rect x="424.25" y="358.70" width="6.61" height="6.61" fill="#141444"/>
<rect x="430.81" y="358.70" width="19.75" height="6.61" fill="#3d26a6"/>
<rect x="450.51" y="358.70" width="6.61" height="6.61" fill="#292684"/>
<rect x="457.07" y="358.70" width="6.62" height="6.61" fill="#3d26a6"/>
<rect x="463.64" y="358.70" width="6.61" height="6.61" fill="#ad366e"/>
<rect x="470.20" y="358.70" width="19.75" height="6.61" fill="#3d26a6"/>
<rect x="489.90" y="358.70" width="6.61" height="6.61" fill="#5728b7"/>
<rect x="496.46" y="358.70" width="6.62" height="6.61" fill="#ad366e"/>
<rect x="503.03" y="358.70" width="13.18" height="6.61" fill="#802f95"/>
<rect x="50.04" y="365.27" width="6.61" height="6.61" fill="#292684"/>
<rect x="56.61" y="365.27" width="6.61" height="6.61" fill="#3d26a6"/>
<rect x="63.17" y="365.27" width="6.61" height="6.61" fill="#e6b716"/>
<rect x="69.74" y="365.27" width="6.61" height="6.61" fill="#141444"/>
<rect x="76.30" y="365.27" width="13.18" height="6.61" fill="#3d26a6"/>
<rect x="89.43" y="365.27" width="6.61" height="6.61" fill="#141444"/>
<rect x="96.00" y="365.27" width="6.61" height="6.61" fill="#ad366e"/>
<rect x="102.56" y="365.27" width="13.18" height="6.61" fill="#3d26a6"/>
<rect x="115.69" y="365.27" width="6.61" height="6.61" fill="#5728b7"/>
<rect x="122.26" y="365.27" width="6.61" height="6.61" fill="#3d26a6"/>
<rect x="128.82" y="365.27" width="6.61" height="6.61" fill="#141444"/>
<rect x="135.39" y="365.27" width="6.61" height="6.61" fill="#3d26a6"/>
<rect x="141.95" y="365.27" width="6.62" height="6.61" fill="#5728b7"/>
<rect x="148.52" y="365.27" width="6.61" height="6.61" fill="#3d26a6"/>
<rect x="155.08" y="365.27" width="13.18" height="6.61" fill="#ad366e"/>
<rect x="168.21" y="365.27" width="6.61" height="6.61" fill="#3d26a6"/>
<rect x="174.78" y="365.27" width="6.61" height="6.61" fill="#5728b7"/>
<rect x="181.34" y="365.27" width="6.61" height="6.61" fill="#ad366e"/>
<rect x="187.91" y="365.27" width="6.61" height="6.61" fill="#e69509"/>
<rect x="194.47" y="365.27" width="6.61" height="6.61" fill="#eb7308"/>
<rect x="201.04" y="365.27" width="6.61" height="6.61" fill="#ad366e"/>
<rect x="207.60" y="365.27" width="46.01" height="6.61" fill="#3d26a6"/>
<rect x="253.56" y="365.27" width="6.61" height="6.61" fill="#292684"/>
<rect x="260.12" y="365.27" width="6.61" height="6.61" fill="#141444"/>
<rect x="266.69" y="365.27" width="6.61" height="6.61" fill="#3d26a6"/>
<rect x="273.25" y="365.27" width="6.61" height="6.61" fill="#5728b7"/>
<rect x="279.82" y="365.27" width="6.62" height="6.61" fill="#3d26a6"/>
<rect x="286.38" y="365.27" width="6.61" height="6.61" fill="#802f95"/>
<rect x="292.95" y="365.27" width="6.61" height="6.61" fill="#141444"/>
<rect x="299.51" y="365.27" width="6.61" height="6.61" fill="#3d26a6"/>
<rect x="306.08" y="365.27" width="6.61" height="6.61" fill="#141444"/>
<rect x="312.64" y="365.27" width="6.61" height="6.61" fill="#802f95"/>
<rect x="319.21" y="365.27" width="6.61" height="6.61" fill="#3d26a6"/>
<rect x="325.77" y="365.27" width="6.61" height="6.61" fill="#5728b7"/>
<rect x="332.34" y="365.27" width="6.61" height="6.61" fill="#802f95"/>
<rect x="338.90" y="365.27" width="6.61" height="6.61" fill="#141444"/>
<rect x="345.47" y="365.27" width="26.31" height="6.61" fill="#3d26a6"/>
<rect x="371.73" y="365.27" width="6.61" height="6.61" fill="#141444"/>
<rect x="378.29" y="365.27" width="6.61" height="6.61" fill="#3d26a6"/>
<rect x="384.86" y="365.27" width="6.61" height="6.61" fill="#ad366e"/>
<rect x="391.42" y="365.27" width="13.18" height="6.61" fill="#141444"/>
<rect x="404.55" y="365.27" width="6.61" height="6.61" fill="#802f95"/>
<rect x="411.12" y="365.27" width="6.61" height="6.61" fill="#3d26a6"/>
<rect x="417.68" y="365.27" width="6.62" height="6.61" fill="#5728b7"/>
<rect x="424.25" y="365.27" width="6.61" height="6.61" fill="#3d26a6"/>
<rect x="430.81" y="365.27" width="6.62" height="6.61" fill="#141444"/>
<rect x="437.38" y="365.27" width="6.61" height="6.61" fill="#3d26a6"/>
<rect x="443.94" y="365.27" width="6.62" height="6.61" fill="#5728b7"/>
<rect x="450.51" y="365.27" width="13.18" height="6.61" fill="#3d26a6"/>
<rect x="463.64" y="365.27" width="6.61" height="6.61" fill="#f8511c"/>
<rect x="470.20" y="365.27" width="13.18" height="6.61" fill="#3d26a6"/>
<rect x="483.33" y="365.27" width="6.62" height="6.61" fill="#5728b7"/>
<rect x="489.90" y="365.27" width="13.18" height="6.61" fill="#3d26a6"/>
<rect x="503.03" y="365.27" width="6.61" height="6.61" fill="#141444"/>
<rect x="509.59" y="365.27" width="6.62" height="6.61" fill="#3d26a6"/>
<rect x="50.04" y="371.83" width="13.18" height="6.61" fill="#3d26a6"/>
<rect x="63.17" y="371.83" width="6.61" height="6.61" fill="#292684"/>
<rect x="69.74" y="371.83" width="13.18" height="6.61" fill="#3d26a6"/>
<rect x="82.87" y="371.83" width="6.61" height="6.61" fill="#ad366e"/>
<rect x="89.43" y="371.83" width="13.18" height="6.61" fill="#141444"/>
<rect x="102.56" y="371.83" width="13.18" height="6.61" fill="#3d26a6"/>
<rect x="115.69" y="371.83" width="13.18" height="6.61" fill="#141444"/>
<rect x="128.82" y="371.83" width="6.61" height="6.61" fill="#000000"/>
<rect x="135.39" y="371.83" width="6.61" height="6.61" fill="#3d26a6"/>
<rect x="141.95" y="371.83" width="6.62" height="6.61" fill="#141444"/>
<rect x="148.52" y="371.83" width="6.61" height="6.61" fill="#3d26a6"/>
<rect x="155.08" y="371.83" width="6.61" height="6.61" fill="#292684"/>
<rect x="161.65" y="371.83" width="19.74" height="6.61" fill="#3d26a6"/>
<rect x="181.34" y="371.83" width="6.61" height="6.61" fill="#292684"/>
<rect x="187.91" y="371.83" width="6.61" height="6.61" fill="#000000"/>
<rect x="194.47" y="371.83" width="6.61" height="6.61" fill="#5728b7"/>
<rect x="201.04" y="371.83" width="46.00" height="6.61" fill="#3d26a6"/>
<rect x="246.99" y="371.83" width="13.18" height="6.61" fill="#292684"/>
<rect x="260.12" y="371.83" width="26.31" height="6.61" fill="#3d26a6"/>
<rect x="286.38" y="371.83" width="6.61" height="6.61" fill="#802f95"/>
<rect x="292.95" y="371.83" width="6.61" height="6.61" fill="#141444"/>
<rect x="299.51" y="371.83" width="6.61" height="6.61" fill="#eb7308"/>
<rect x="306.08" y="371.83" width="13.18" height="6.61" fill="#141444"/>
<rect x="319.21" y="371.83" width="19.74" height="6.61" fill="#3d26a6"/>
<rect x="338.90" y="371.83" width="6.61" height="6.61" fill="#141444"/>
<rect x="345.47" y="371.83" width="6.61" height="6.61" fill="#292684"/>
<rect x="352.03" y="371.83" width="6.61" height="6.61" fill="#3d26a6"/>
<rect x="358.60" y="371.83" width="13.18" height="6.61" fill="#292684"/>
<rect x="371.73" y="371.83" width="6.61" height="6.61" fill="#3d26a6"/>
<rect x="378.29" y="371.83" width="6.61" height="6.61" fill="#141444"/>
<rect x="384.86" y="371.83" width="6.61" height="6.61" fill="#ad366e"/>
<rect x="391.42" y="371.83" width="6.61" height="6.61" fill="#141444"/>
<rect x="397.99" y="371.83" width="6.61" height="6.61" fill="#3d26a6"/>
<rect x="404.55" y="371.83" width="6.61" height="6.61" fill="#ad366e"/>
<rect x="411.12" y="371.83" width="13.18" height="6.61" fill="#141444"/>
<rect x="424.25" y="371.83" width="6.61" height="6.61" fill="#e6b716"/>
<rect x="430.81" y="371.83" width="13.18" height="6.61" fill="#3d26a6"/>
<rect x="443.94" y="371.83" width="6.62" height="6.61" fill="#5728b7"/>
<rect x="450.51" y="371.83" width="6.61" height="6.61" fill="#3d26a6"/>
<rect x="457.07" y="371.83" width="6.62" height="6.61" fill="#ad366e"/>
<rect x="463.64" y="371.83" width="6.61" height="6.61" fill="#f8511c"/>
<rect x="470.20" y="371.83" width="6.62" height="6.61" fill="#3d26a6"/>
<rect x="476.77" y="371.83" width="6.61" height="6.61" fill="#141444"/>
<rect x="483.33" y="371.83" width="19.75" height="6.61" fill="#3d26a6"/>
<rect x="503.03" y="371.83" width="6.61" height="6.61" fill="#292684"/>
<rect x="509.59" y="371.83" width="6.62" height="6.61" fill="#5728b7"/></g>
<clipPath id="clip114"><rect x="50.04" y="38.60" width="466.12" height="151.00"/></clipPath><g clip-path="url(#clip114)" fill="none" stroke="#000" stroke-width="2.1" stroke-linejoin="round" stroke-linecap="round"><path d="M67.8,42.0 L73.0,41.2 L77.0,39.9 L80.9,38.6 L83.5,36.6 L86.2,36.0 L90.1,34.7 L94.0,35.3 L98.0,35.3 L101.9,36.6 L104.5,37.6 L107.2,39.3 L108.5,41.2 L111.1,42.5 L112.4,43.2 L113.1,45.2 L115.0,47.1 L117.7,48.5 L119.6,50.4 L120.3,53.7 L120.0,57.6 L120.0,60.9 L121.6,64.2 L122.3,64.9 L123.6,66.8 L124.9,68.8 L127.5,69.5 L129.2,71.2 L130.1,73.4 L131.4,75.4 L133.4,77.3 L136.0,80.0 L138.0,82.6 L139.3,83.9 L138.0,81.9 L136.0,78.0 L132.8,73.4 L134.7,73.4 L137.4,76.7 L139.3,79.3 L141.3,81.3 L143.9,83.9 L144.6,85.9 L144.6,87.8 L146.5,89.2 L149.2,90.5 L151.8,91.8 L154.4,92.8 L157.1,93.5 L159.0,93.1 L161.0,93.7 L162.3,95.1 L163.6,95.7 L165.6,96.4 L167.6,97.0 L168.2,97.0 L170.2,98.3 L170.6,99.7 L171.5,101.0 L172.8,102.3 L174.1,103.2 L176.1,104.3 L178.1,104.3 L179.4,102.7 L180.7,103.6 L181.3,104.9 L181.3,108.8 L182.0,110.2 L180.0,112.1 L178.1,113.4 L177.4,115.4 L178.1,117.4 L176.7,120.0 L177.4,122.0 L178.7,123.9 L180.0,125.9 L182.0,129.9 L183.3,132.5 L184.6,134.5 L188.6,136.4 L190.5,138.4 L190.9,140.4 L190.9,144.3 L190.5,146.9 L189.2,150.9 L189.2,153.5 L189.1,157.4 L188.6,160.1 L187.3,162.7 L186.6,166.6 L185.9,169.2 L185.9,171.9 L184.6,175.2 L184.0,178.4 L184.6,181.1 L185.3,183.0 L188.6,185.0 L191.2,186.3 L193.8,187.0 L195.8,186.3 L197.8,186.1 L194.5,185.0 L193.2,183.0 L191.8,181.7 L192.5,179.8 L194.5,177.1 L196.4,175.8 L194.5,174.5 L195.8,173.2 L197.8,171.9 L197.8,169.9 L199.1,169.2 L197.8,167.9 L201.0,167.3 L201.7,165.3 L206.9,164.7 L208.3,163.3 L208.7,162.0 L207.6,160.7 L206.3,159.4 L209.6,159.9 L212.2,159.7 L212.9,158.5 L214.8,156.1 L216.8,154.1 L218.8,151.5 L219.4,148.2 L220.1,147.6 L222.7,145.6 L225.3,144.3 L228.0,144.3 L229.3,143.0 L230.6,140.4 L231.2,137.7 L231.9,135.1 L231.9,131.8 L233.2,130.9 L234.5,128.5 L236.5,126.6 L237.1,124.6 L237.1,122.0 L235.8,120.7 L233.2,119.4 L230.6,118.0 L228.0,117.8 L225.3,117.4 L224.0,116.1 L221.4,115.2 L219.4,115.7 L217.5,114.4 L216.8,112.1 L215.5,108.8 L213.5,106.9 L210.9,106.2 L208.3,106.2 L206.3,104.9 L204.3,102.9 L202.4,101.0 L200.4,100.1 L197.8,101.0 L195.1,100.2 L193.2,100.3 L191.2,99.0 L189.2,99.7 L188.8,98.0 L187.3,99.3 L184.6,100.1 L183.3,101.6 L181.6,102.9 L180.7,101.9 L178.7,101.6 L176.7,102.5 L175.4,102.3 L173.5,100.3 L173.2,99.0 L173.5,97.0 L173.7,94.4 L172.2,93.4 L170.2,93.2 L167.6,93.4 L166.9,92.4 L167.3,90.5 L168.2,88.5 L168.9,85.9 L167.6,85.9 L164.5,86.5 L164.3,88.5 L163.0,89.8 L161.0,89.9 L159.0,90.2 L157.7,89.4 L156.4,88.1 L155.5,86.5 L154.8,85.2 L154.7,81.9 L155.5,80.0 L155.3,78.0 L156.4,76.7 L158.4,75.6 L160.3,75.1 L163.0,75.5 L164.9,75.9 L166.0,75.4 L165.6,74.4 L167.6,74.1 L170.2,74.2 L172.2,75.0 L173.5,75.4 L174.5,77.3 L174.8,78.6 L176.1,80.2 L176.7,81.0 L177.5,80.6 L178.1,79.3 L177.4,76.7 L176.5,74.7 L176.2,72.7 L177.4,71.4 L179.4,70.1 L181.3,68.8 L183.3,67.8 L184.0,66.8 L183.3,65.5 L182.9,63.5 L184.4,63.2 L185.3,62.2 L185.9,60.9 L188.6,60.3 L191.2,59.3 L190.5,58.3 L190.3,57.4 L192.5,56.3 L195.1,55.3 L196.4,54.8 L198.4,54.4 L199.1,54.8 L196.4,55.7 L197.1,56.7 L199.1,55.7 L202.4,54.8 L204.3,54.0 L203.7,52.4 L202.4,53.6 L200.4,53.4 L198.4,53.0 L197.8,51.7 L198.4,50.4 L195.8,49.5 L193.8,50.0 L191.2,51.7 L189.2,52.7 L192.5,50.4 L195.1,49.1 L198.4,48.2 L203.0,48.2 L205.6,47.4 L208.3,46.5 L209.6,45.2 L209.8,43.9 L207.6,42.5 L205.6,41.5 L203.0,40.6 L201.7,38.6 L199.1,36.6 L197.8,34.0 M159.0,34.0 L159.4,36.9 L161.6,38.6 L164.3,39.0 L167.6,39.9 L171.5,41.5 L175.0,41.9 L175.4,44.6 L177.4,46.7 L179.4,46.5 L179.6,45.8 L180.0,42.5 L182.0,41.2 L182.4,39.3 L181.3,37.3 L180.7,35.3 M205.2,51.6 L209.6,51.7 L213.5,52.8 L214.0,51.6 L212.9,49.4 L210.2,48.7 L209.6,46.5 L207.6,47.5 L206.3,49.8 L205.2,51.6 M171.5,85.5 L173.5,84.0 L176.7,83.6 L179.4,84.6 L181.3,85.7 L184.0,86.8 L185.7,87.6 L184.6,88.0 L181.3,88.1 L181.1,86.9 L177.4,85.6 L175.4,84.8 L172.8,85.3 L171.5,85.5 M185.4,89.9 L187.5,88.0 L190.5,88.1 L193.3,89.8 L191.2,90.2 L189.2,91.0 L187.3,90.5 L185.4,89.9 M180.3,89.9 L182.9,90.2 L182.3,90.6 L180.3,89.9 M194.9,89.8 L197.0,89.9 L196.7,90.5 L194.9,90.5 M114.5,47.4 L119.0,48.5 L120.9,50.4 L119.4,50.3 L116.3,48.5 L114.5,47.4 M108.5,43.2 L110.2,43.9 L110.4,45.6 L109.1,44.5 L108.5,43.2 M78.4,87.6 L79.8,88.5 L78.8,89.3 L78.3,88.4 L78.4,87.6 M77.4,86.5 L78.3,86.8 L77.7,87.1 L77.4,86.5 M75.3,85.7 L76.0,86.1 L75.5,86.1 L75.3,85.7 M73.3,85.0 L73.9,85.0 L73.7,85.3 L73.3,85.0 M49.4,46.1 L52.0,46.0 L56.0,45.6 L59.9,45.0 L63.8,43.9 L66.5,43.1 M80.2,37.9 L82.9,37.9 L81.6,39.3 L80.2,39.0 L80.2,37.9 M202.6,181.5 L205.6,181.3 L207.2,181.9 L205.6,182.6 L203.7,182.4 L202.6,181.5 M260.8,86.5 L262.1,83.2 L264.1,80.0 L266.0,77.7 L268.7,76.9 L270.2,75.4 L270.5,73.4 L271.9,70.4 L274.2,69.5 L275.4,67.1 L276.5,67.5 L280.5,68.0 L283.1,67.1 L287.0,65.8 L291.0,65.5 L294.3,65.7 L296.2,65.1 L297.5,65.5 L296.9,66.8 L297.5,67.9 L296.2,69.5 L298.2,70.5 L300.2,71.0 L303.1,71.7 L304.1,73.1 L307.4,74.3 L309.4,73.4 L309.4,72.1 L310.7,71.0 L313.3,71.3 L315.9,72.3 L319.2,73.0 L322.5,73.0 L325.1,73.1 L328.0,73.0 L328.9,75.4 L328.1,77.3 L327.1,77.6 L325.8,74.7 L327.1,78.0 L329.1,82.6 L331.0,85.2 L331.9,89.2 L333.7,90.5 L335.0,93.7 L336.9,95.5 L338.9,97.3 L340.0,98.6 L341.5,100.3 L344.8,99.4 L350.3,98.6 L350.1,100.3 L349.4,102.3 L347.4,105.6 L345.5,108.2 L343.5,110.8 L340.9,112.8 L338.2,115.4 L336.3,117.4 L334.7,120.0 L334.3,122.6 L335.0,124.6 L336.1,127.9 L336.3,130.5 L336.3,133.8 L334.3,136.4 L331.0,139.0 L329.1,141.0 L329.7,143.6 L329.7,145.6 L326.4,147.6 L326.2,149.6 L325.8,151.5 L323.8,153.5 L322.5,155.1 L320.5,156.8 L318.6,158.1 L316.6,158.7 L313.3,158.7 L310.7,159.3 L309.4,159.8 L307.4,159.0 L307.1,157.4 L306.5,155.5 L304.8,151.7 L303.1,149.6 L302.1,144.3 L302.0,143.4 L300.4,141.0 L298.6,137.7 L298.6,135.8 L299.4,132.5 L300.8,129.9 L301.1,127.9 L300.4,125.9 L299.2,122.0 L298.9,120.7 L297.5,119.1 L295.6,116.7 L295.3,114.1 L295.6,112.8 L296.0,110.2 L294.9,108.8 L294.0,108.2 L292.3,108.3 L290.7,108.5 L289.0,105.8 L286.4,105.8 L284.4,106.2 L281.1,107.5 L279.2,107.4 L277.2,107.3 L273.3,108.3 L271.3,107.5 L268.7,105.4 L266.7,104.3 L265.8,102.9 L265.4,101.6 L263.4,99.9 L261.2,97.8 L260.8,96.4 L260.5,94.8 L261.4,93.1 L262.0,90.5 L261.8,88.5 L260.8,86.5 M347.8,129.9 L349.4,134.5 L348.1,137.1 L346.8,141.0 L345.1,146.3 L342.4,147.6 L340.6,145.6 L340.0,143.0 L341.1,140.4 L340.9,136.4 L344.2,134.8 L346.1,131.8 L347.8,129.9 M298.6,38.2 L296.9,38.5 L296.2,38.5 L293.9,39.5 L294.3,41.2 L294.3,43.5 L292.3,43.9 L289.7,44.1 L289.0,45.2 L287.8,46.5 L286.4,47.0 L285.1,48.2 L283.4,49.1 L281.4,48.8 L281.0,50.3 L279.2,50.0 L277.2,50.2 L276.9,51.2 L280.1,52.1 L281.5,53.4 L281.5,55.7 L280.7,57.1 L276.5,57.0 L272.6,56.7 L270.9,57.6 L271.5,58.3 L271.5,60.3 L270.6,62.9 L271.5,63.5 L271.4,65.5 L274.6,65.8 L275.7,66.8 L277.2,66.0 L280.5,65.9 L282.4,64.7 L283.1,63.2 L282.7,62.2 L284.2,60.5 L287.3,59.1 L287.0,58.2 L287.7,57.2 L289.7,57.1 L291.6,57.5 L292.9,56.6 L294.7,55.8 L296.2,56.3 L296.9,57.8 L298.9,59.1 L300.8,60.0 L303.5,61.6 L304.1,63.0 L303.7,64.2 L304.4,64.2 L305.6,62.9 L304.9,61.2 L307.4,61.4 L306.7,60.8 L304.1,59.6 L301.5,58.3 L301.0,57.0 L299.2,55.8 L299.2,54.6 L301.0,54.0 L301.1,54.9 L302.8,55.7 L304.1,57.0 L307.4,58.3 L308.7,59.2 L308.6,61.1 L309.4,62.2 L310.9,64.5 L312.6,66.2 L313.3,64.9 L314.0,64.2 L314.6,63.9 L313.0,60.9 L314.6,60.7 L317.2,60.5 L317.5,62.2 L318.6,63.5 L318.9,65.5 L320.1,65.9 L321.8,66.6 L323.3,65.9 L325.8,66.7 L327.7,66.4 L330.2,65.8 L330.4,67.5 L330.1,68.8 L329.1,70.9 L328.4,72.6 L328.0,73.0 M328.9,75.4 L329.1,77.3 L331.0,80.0 L333.0,82.6 L334.3,85.2 L335.6,87.8 L337.6,91.1 L339.3,94.4 L340.0,97.4 L342.2,97.3 L346.8,95.7 L351.4,93.6 L355.3,91.8 L357.7,89.8 L359.0,88.1 L360.3,86.5 L361.6,84.6 L359.9,83.0 L357.2,81.9 L357.0,79.7 L356.0,80.6 L354.0,82.3 L351.4,82.6 L350.7,80.9 L350.3,79.7 L349.4,81.3 L348.8,79.3 L346.9,77.3 L346.1,74.8 L347.4,74.3 L349.4,75.4 L350.7,77.3 L353.3,78.9 L355.3,79.0 L357.9,80.2 L360.6,80.7 L363.8,81.0 L367.1,80.9 L370.4,80.7 L371.7,82.6 L373.0,83.2 L374.4,84.6 L375.7,86.5 L378.7,86.3 L378.7,89.2 L379.6,93.1 L380.9,96.4 L382.2,99.0 L383.5,102.3 L384.9,103.6 L385.8,102.4 L387.2,100.6 L387.9,99.0 L388.5,96.5 L388.4,93.7 L390.1,92.6 L391.4,91.8 L394.0,89.5 L396.7,87.8 L397.3,85.9 L399.3,85.5 L401.3,85.3 L403.2,84.6 L404.3,86.5 L405.2,88.1 L406.9,89.8 L407.2,92.8 L408.5,93.2 L411.1,92.4 L411.4,94.4 L412.4,97.0 L412.6,101.0 L412.2,103.2 L414.0,105.6 L414.8,107.5 L416.1,110.4 L418.9,112.4 L419.9,112.3 L419.0,108.8 L418.9,106.9 L417.3,106.0 L415.7,105.0 L414.9,104.3 L414.1,101.9 L413.3,100.3 L413.9,98.3 L414.8,96.4 L415.7,97.4 L417.7,98.3 L419.0,100.2 L421.0,102.8 L421.2,101.2 L423.1,100.3 L424.6,99.8 L426.5,98.7 L426.6,96.4 L426.0,94.0 L424.2,92.3 L422.9,90.5 L421.9,89.2 L422.9,87.4 L424.6,85.9 L426.2,85.7 L427.8,87.4 L428.2,86.3 L429.6,85.7 L432.1,85.0 L433.4,84.6 L436.1,83.9 L437.8,82.3 L439.3,80.6 L440.3,78.9 L442.0,77.1 L443.3,75.0 L442.0,74.1 L443.0,72.7 L441.7,71.4 L441.1,69.1 L439.6,68.1 L441.4,66.7 L443.9,65.7 L442.0,64.5 L439.3,65.3 L438.7,63.8 L437.6,62.9 L438.7,62.6 L442.2,60.5 L442.8,62.4 L442.9,63.0 L445.3,61.8 L446.3,61.7 L447.5,63.8 L449.2,64.7 L448.9,68.1 L450.5,68.7 L452.9,67.9 L453.1,66.2 L452.5,64.5 L451.6,63.2 L450.5,61.8 L453.4,60.4 L453.5,58.6 L455.1,57.9 L456.9,57.2 L458.4,57.9 L461.0,56.5 L463.6,54.4 L465.0,52.3 L466.9,50.4 L467.6,47.8 L467.8,45.6 L468.8,44.1 L466.3,43.1 L463.6,43.2 L462.7,42.4 L460.6,42.1 L463.0,40.6 L465.0,39.5 L467.6,38.2 L469.5,36.6 L473.5,36.1 M486.6,36.6 L487.4,40.6 L487.9,45.2 L488.8,47.1 L490.9,44.5 L493.2,42.5 L495.8,40.3 L497.5,37.9 L498.4,35.3 M297.3,40.6 L296.9,39.9 L297.5,43.2 L300.2,42.7 L302.1,43.5 L304.1,42.8 L307.4,42.1 L308.7,42.7 L310.7,41.9 L310.7,39.9 L311.3,38.6 L312.6,38.2 L314.0,39.3 L315.0,38.6 L315.0,37.3 M298.6,37.3 L298.6,38.2 L299.5,40.3 L300.2,41.4 L301.7,41.4 L302.1,40.6 L304.6,39.9 L304.8,38.6 L305.2,37.3 M297.5,41.2 L299.5,40.6 L299.6,41.5 L298.2,41.9 L297.5,41.2 M319.9,59.6 L321.2,60.0 L323.8,60.1 L327.1,59.0 L329.1,59.0 L331.7,60.1 L334.3,60.3 L337.6,59.6 L337.9,58.3 L335.6,57.0 L333.0,55.7 L331.7,54.6 L329.7,54.9 L327.1,55.7 L325.8,54.5 L327.1,53.7 L324.7,52.9 L323.4,53.0 L322.1,54.6 L320.8,56.3 L319.7,58.3 L319.9,59.6 M347.4,53.0 L350.7,52.4 L352.7,52.7 L352.7,54.6 L350.5,55.7 L350.1,57.4 L352.3,59.0 L352.7,60.9 L354.0,62.5 L353.9,65.1 L351.4,65.9 L349.0,65.0 L347.4,63.8 L347.7,61.3 L349.1,60.9 L348.1,60.3 L345.6,57.9 L345.3,56.6 L345.5,54.2 L347.4,53.0 M275.6,48.5 L278.5,48.1 L281.8,47.5 L284.8,46.9 L285.3,45.2 L283.5,44.5 L283.1,43.9 L282.4,42.5 L281.1,41.2 L280.5,40.6 L279.2,40.6 L280.5,38.6 L280.7,38.3 L277.8,38.5 L275.7,38.9 L275.9,40.6 L276.5,41.9 L278.8,42.0 L279.2,43.9 L277.2,44.2 L277.6,45.6 L276.5,46.2 L279.2,46.5 L275.6,48.5 M275.2,45.6 L275.0,43.9 L275.5,42.5 L273.9,41.5 L271.9,42.5 L270.0,43.2 L270.6,45.2 L270.0,46.3 L272.6,46.2 L275.2,45.6 M299.4,64.2 L303.6,63.9 L302.9,65.9 L299.4,64.7 L299.4,64.2 M293.9,60.3 L296.0,60.3 L295.7,62.8 L294.1,63.0 L293.9,60.3 M294.4,57.8 L295.4,57.6 L295.6,59.0 L295.2,59.7 L294.4,59.1 L294.4,57.8 M314.0,67.5 L317.6,67.9 L315.3,68.3 L314.0,67.5 M325.5,68.4 L328.4,67.4 L327.6,68.4 L325.5,68.4 M387.9,101.2 L388.4,101.2 L390.5,104.3 L390.1,106.0 L388.8,106.4 L387.9,105.2 L387.9,101.2 M440.8,83.9 L442.0,81.0 L443.3,81.3 L442.6,83.9 L441.7,85.2 L440.8,83.9 M425.8,89.2 L428.2,87.7 L428.8,88.2 L427.5,90.2 L425.8,89.8 L425.8,89.2 M440.7,93.1 L441.3,89.8 L443.5,89.8 L443.3,91.8 L442.6,93.7 L443.3,95.7 L445.9,97.0 L445.3,96.0 L443.3,95.8 L441.4,95.3 L440.7,94.4 L440.7,93.1 M443.3,104.9 L445.9,103.6 L447.9,101.4 L449.2,103.6 L448.5,106.2 L447.6,106.6 L445.9,105.6 L443.3,104.9 M443.3,101.0 L445.3,99.7 L447.2,99.0 L447.2,101.0 L445.3,101.6 L443.3,101.0 M408.2,106.7 L411.1,107.3 L414.8,111.1 L419.3,115.4 L422.3,118.0 L422.3,121.8 L420.3,121.8 L417.4,119.4 L415.6,116.9 L412.8,112.0 L410.5,109.8 L408.2,106.7 M421.2,123.0 L424.9,122.4 L428.2,123.2 L430.9,123.2 L433.4,124.3 L433.3,125.5 L427.5,124.9 L422.9,123.8 L421.2,123.0 M434.1,125.0 L439.3,125.4 L444.6,125.0 L440.7,125.8 L435.4,125.8 L434.1,125.0 M445.9,127.5 L447.5,126.2 L450.2,125.1 L447.2,126.8 L445.9,127.5 M426.2,111.7 L426.9,115.4 L427.8,117.9 L433.4,118.7 L436.1,118.7 L435.4,116.1 L437.4,113.0 L437.8,111.3 L438.7,107.5 L439.6,107.0 L437.1,105.0 L436.1,105.6 L434.8,107.5 L431.5,109.9 L429.5,110.8 L427.8,111.9 L426.2,111.7 M440.0,121.3 L441.3,121.5 L441.1,117.9 L442.0,117.6 L443.3,120.3 L444.6,119.9 L443.3,118.0 L442.4,116.6 L445.0,115.3 L442.0,115.7 L440.9,113.6 L443.9,113.4 L447.2,112.1 L446.3,113.4 L442.6,113.8 L440.7,114.4 L440.0,118.7 L440.0,121.3 M450.5,111.7 L451.2,113.4 L451.8,115.2 L450.9,114.1 L450.5,111.7 M451.2,118.0 L454.8,118.4 L453.1,118.8 L451.2,118.0 M455.1,115.8 L459.3,115.3 L461.0,118.4 L464.3,116.2 L468.2,117.5 L472.8,119.1 L474.8,121.1 L476.8,122.1 L477.2,124.7 L480.1,127.6 L477.4,127.5 L474.8,124.6 L471.5,124.6 L470.9,126.2 L468.2,126.0 L465.6,124.7 L465.0,125.0 L463.6,120.9 L460.4,119.7 L457.7,119.4 L456.7,117.8 L455.1,115.8 M477.8,121.3 L480.1,120.9 L482.7,119.6 L482.0,121.3 L479.4,122.2 L477.8,121.3 M486.6,122.0 L489.2,123.9 L493.2,125.9 L495.1,127.2 L491.9,126.6 L487.9,123.3 L486.6,122.0 M432.1,143.0 L432.8,142.7 L436.3,141.1 L439.3,140.4 L442.0,139.7 L443.7,137.1 L445.3,135.8 L447.2,133.8 L449.6,132.4 L451.4,133.8 L453.1,133.7 L454.1,131.6 L455.4,130.1 L457.2,130.0 L457.2,129.2 L458.4,129.6 L461.4,129.9 L463.0,130.2 L461.7,131.6 L461.0,133.8 L463.0,135.1 L466.0,137.1 L468.0,136.9 L468.9,133.8 L468.9,130.5 L470.2,128.1 L471.5,132.2 L472.8,132.7 L473.9,133.8 L474.8,137.1 L475.2,139.0 L478.5,140.9 L479.4,143.2 L481.1,143.8 L482.0,145.9 L484.0,147.3 L484.6,150.9 L484.0,154.8 L483.3,156.8 L482.0,158.1 L481.1,159.8 L480.1,162.0 L479.9,163.3 L477.4,163.7 L475.2,165.3 L473.4,163.9 L471.5,165.0 L468.9,164.5 L466.9,163.3 L466.4,161.6 L464.4,160.8 L465.0,159.8 L464.0,157.2 L463.6,158.7 L462.7,160.4 L461.5,159.8 L460.6,159.4 L459.3,157.2 L455.8,155.5 L452.5,155.7 L448.5,156.5 L445.9,158.1 L445.3,158.6 L440.7,158.6 L438.0,160.1 L436.2,160.1 L434.1,159.1 L435.0,158.0 L435.1,156.1 L434.1,153.5 L433.6,151.5 L432.1,148.9 L432.0,146.3 L432.5,144.3 L432.1,143.0 M473.0,167.5 L477.8,167.8 L477.7,169.5 L476.8,170.8 L474.8,171.3 L473.1,168.6 L473.0,167.5 M509.9,159.4 L512.2,161.6 L513.9,162.4 L516.8,163.5 L517.5,164.0 L515.5,165.7 L515.2,166.9 L513.3,168.7 L512.3,168.2 L512.9,166.6 L511.3,165.6 L512.3,164.0 L512.2,162.7 L509.9,159.4 M509.9,167.3 L511.6,168.2 L511.8,169.2 L510.2,171.2 L508.0,172.5 L507.2,174.2 L505.4,175.3 L501.7,174.8 L502.0,173.4 L504.1,171.9 L507.0,170.6 L508.3,168.9 L509.9,167.3 M453.8,73.0 L455.5,72.9 L456.4,70.1 L455.0,69.5 L453.5,70.5 L453.8,73.0 M457.1,70.8 L460.0,69.7 L459.0,69.1 L457.1,69.6 L457.1,70.8 M455.1,69.1 L457.1,67.6 L461.0,67.4 L462.7,65.1 L465.0,64.5 L466.9,62.2 L466.9,60.0 L468.9,59.7 L469.5,62.2 L468.2,64.2 L468.0,66.8 L466.9,68.1 L465.6,68.4 L463.0,68.7 L461.0,70.1 L460.4,68.7 L457.7,69.1 L455.1,69.1 M466.9,59.6 L468.2,58.3 L468.9,54.6 L470.2,55.4 L474.1,57.0 L471.5,59.0 L468.2,59.2 L466.9,59.6 M469.5,53.7 L471.5,53.0 L471.5,49.4 L471.1,46.5 L471.1,43.9 L470.2,42.8 L469.5,43.9 L469.2,46.5 L469.5,49.8 L469.5,53.7 M474.1,57.0 L476.8,55.7 L480.1,53.7 L482.7,51.7 L485.3,49.8 L487.9,47.4 M515.9,137.1 L517.6,137.3 L517.2,138.1 L515.9,137.7 L515.9,137.1 M498.4,140.6 L502.4,143.2 L501.7,143.5 L498.4,141.3 L498.4,140.6 M501.8,133.8 L502.8,134.5 L504.2,136.2 L502.1,134.6 L501.8,133.8 M121.3,49.8 L158.4,49.8 L164.9,51.1 L172.0,53.0 L174.8,54.6 L174.8,59.0 L179.4,57.4 L182.7,55.7 L185.0,55.0 L189.2,55.0 L191.2,53.0 L192.5,51.7 L193.8,52.0 L194.1,54.2 L195.1,55.0 M98.0,35.3 L103.2,36.6 L105.8,36.0 L108.5,38.6 L111.1,40.6 L112.4,41.0 M129.3,71.4 L132.5,71.2 L137.4,73.0 L141.0,73.0 L143.3,72.3 L145.9,75.2 L147.9,76.0 L149.8,75.0 L151.8,77.3 L152.5,78.0 L155.5,80.1 M162.0,95.1 L162.0,94.0 L163.1,93.1 L164.3,93.0 L164.3,90.7 L166.0,90.7 L167.2,89.8 M166.0,90.7 L166.0,93.2 L167.3,93.5 M164.8,96.1 L165.8,95.2 L167.6,95.8 L168.2,96.6 M167.8,97.0 L170.2,95.8 L171.9,94.4 L173.9,94.4 M170.6,99.7 L173.2,99.7 M174.1,103.1 L174.6,101.5 M181.5,102.7 L180.8,104.6 M189.5,98.6 L188.2,99.4 L187.9,103.6 L191.2,104.9 L194.5,106.1 L194.1,108.8 L194.5,111.5 L195.3,112.4 M204.3,102.9 L203.0,105.6 L203.7,107.5 L199.1,108.8 L195.3,112.4 M208.3,106.2 L208.9,111.5 L212.2,111.2 L214.8,110.8 L215.5,108.8 M206.9,105.4 L205.0,108.8 L204.6,112.1 L208.9,111.5 M179.4,112.5 L184.0,114.1 L186.6,115.7 L191.2,119.6 L191.2,115.4 L191.8,112.8 L195.3,112.4 M177.7,118.6 L179.4,120.7 L182.7,117.5 L184.0,114.4 M191.2,119.6 L187.3,123.9 L186.6,126.6 L190.5,128.5 L191.8,128.5 L192.9,130.5 L191.8,134.5 L192.5,137.1 L190.7,138.1 M191.8,128.5 L197.1,127.2 L203.7,132.1 L204.3,135.5 L206.7,137.1 L207.3,139.7 M192.5,137.1 L193.4,142.1 L195.1,144.0 L198.4,143.2 L200.6,143.0 L202.0,141.0 L206.7,140.4 M206.7,140.4 L210.9,143.2 L211.8,145.6 L211.4,147.7 L206.3,149.8 L204.3,145.6 L200.9,143.2 M211.4,147.7 L212.5,149.6 L209.6,151.5 L207.5,153.8 L212.9,158.3 M207.5,153.8 L206.4,158.1 M193.4,142.1 L193.2,149.6 L191.2,153.5 L191.2,157.4 L189.9,161.4 L189.2,166.6 L189.0,171.9 L187.9,177.1 L187.3,179.8 L188.6,182.4 L193.0,182.8 M193.0,183.2 L193.0,186.3 M280.9,68.1 L281.5,72.0 L278.4,72.6 L271.7,76.4 L271.7,77.7 M265.8,77.7 L271.7,77.7 M260.8,86.1 L266.0,86.1 L266.0,83.9 L267.3,83.2 L267.3,80.0 L271.7,80.0 L271.7,77.7 M271.7,78.3 L276.8,81.3 L274.6,81.3 L275.9,92.4 L268.0,93.7 L267.1,94.8 L264.1,92.3 L261.7,92.7 M276.8,81.3 L284.7,86.5 L287.3,89.2 L288.6,88.9 L290.7,88.6 L298.9,83.2 M294.1,65.7 L293.9,68.5 L292.9,70.1 L295.6,74.4 L296.2,81.3 L298.9,83.2 M298.2,70.5 L296.6,72.5 L295.6,74.4 M315.9,72.6 L315.9,85.2 L331.5,85.2 M315.9,85.2 L315.9,87.8 L314.6,88.5 L303.5,83.9 L301.5,84.6 L298.9,83.2 M303.5,83.9 L303.1,87.8 L301.0,96.1 M287.8,98.7 L288.6,96.4 L292.3,97.0 L296.2,96.5 L301.0,96.1 M288.6,88.9 L288.4,92.4 L284.4,94.4 L283.5,94.5 L282.4,94.4 L280.5,95.5 L279.2,96.2 L275.9,100.3 M284.4,94.4 L286.4,98.3 L287.8,98.7 L286.6,101.6 L286.6,105.8 M283.5,94.5 L283.1,99.7 L279.4,99.7 L275.9,100.3 M275.9,100.3 L272.6,100.7 L271.9,104.3 L273.3,108.3 M279.4,99.7 L279.2,107.4 M283.1,99.7 L283.8,103.6 L285.1,106.0 M268.0,93.7 L268.3,97.7 L271.9,99.0 L272.6,100.7 M261.2,97.8 L265.1,97.4 L268.3,97.7 M265.8,102.9 L268.7,101.0 L271.9,104.3 L268.7,105.4 M314.6,88.5 L312.6,95.7 L312.0,97.7 L313.0,99.9 M302.1,97.7 L303.5,101.6 L303.5,104.3 L307.4,102.5 L313.0,99.9 M294.3,107.9 L297.5,104.9 L301.0,100.3 L302.1,97.7 L301.0,96.1 M303.5,104.3 L302.1,108.2 L304.1,111.5 L301.5,111.2 L297.9,111.2 L296.0,111.1 M297.9,111.2 L297.9,112.8 L295.6,112.8 M304.1,111.5 L307.4,109.4 M331.0,95.3 L327.7,101.0 L327.7,102.8 L329.7,107.5 M313.0,99.9 L314.6,102.7 L319.2,107.5 L323.1,109.2 L327.7,108.6 L329.7,107.5 M313.0,99.9 L315.9,100.7 L318.6,101.6 L322.5,101.2 L325.8,98.1 L327.7,101.0 M331.0,95.3 L331.7,91.8 L333.7,90.5 M331.0,95.3 L335.6,95.1 L338.9,97.3 M299.2,122.0 L304.1,121.8 L306.1,124.6 L312.0,123.7 L314.6,128.5 L319.2,129.9 L321.8,131.6 L321.8,125.9 L323.1,124.6 L321.2,122.0 L321.8,116.1 L322.5,112.8 L323.8,111.1 L323.1,109.2 L319.2,107.5 L315.9,107.1 L313.0,107.9 L307.4,109.4 L306.1,115.4 L304.1,118.0 L302.8,120.0 L299.2,122.0 M298.6,136.8 L300.8,136.8 L310.7,137.7 L311.7,131.2 L314.6,128.5 M310.7,137.7 L315.9,137.5 L309.4,143.0 L309.4,151.4 L304.8,151.7 M309.4,146.5 L316.6,147.8 L321.7,143.2 L324.2,143.5 M315.9,137.5 L319.9,135.8 L323.0,134.6 L326.4,135.8 M326.2,136.4 L326.4,139.8 L324.2,143.5 L325.1,148.2 M334.7,120.3 L327.7,115.4 L322.5,115.4 M329.1,108.1 L336.9,108.8 L338.2,108.8 M336.9,108.8 L342.2,107.5 L346.1,103.6 L345.5,99.7 M336.9,108.8 L336.9,116.3 M336.3,127.9 L329.1,129.2 L328.4,132.5 L326.2,136.4 M323.1,124.6 L326.4,126.6 L328.4,126.6 M326.4,126.6 L326.8,130.5 L323.0,134.6 M322.5,115.4 L323.1,117.4 L323.5,118.7 M320.5,148.9 L318.6,152.8 L321.2,154.1 L322.5,151.9 M323.9,147.8 L325.1,148.9 M338.9,97.3 L339.8,99.0 L339.3,99.8 M346.1,103.6 L340.2,101.6 L339.8,99.0 M271.4,59.1 L274.6,59.5 L273.9,62.2 L273.3,65.3 M280.7,57.1 L283.1,58.0 L287.3,58.4 M286.4,47.0 L288.6,48.6 L291.0,49.1 L293.9,49.8 L293.1,51.6 M293.1,51.6 L291.0,53.4 L292.3,53.8 L292.3,56.1 L292.9,56.6 M287.6,46.7 L291.0,47.1 L291.0,45.8 L292.3,44.1 M291.0,47.1 L291.2,48.2 L291.0,49.1 M294.5,42.0 L296.0,42.1 M301.7,43.3 L302.3,45.8 L302.8,47.1 M299.0,48.1 L301.2,50.0 L302.8,49.8 L305.4,50.2 L305.4,51.3 L304.8,53.0 M299.0,48.1 L302.8,47.1 L305.4,48.1 L308.0,49.1 L312.6,49.6 M293.1,51.6 L295.6,51.7 L296.9,51.7 L300.2,51.7 L301.2,50.0 M291.0,53.4 L292.9,53.8 L294.9,53.0 L296.9,52.7 L299.5,52.4 L301.1,53.0 L304.8,53.0 M305.4,50.2 L307.8,49.1 M305.4,51.3 L307.8,51.3 L309.4,50.4 L312.6,50.6 M312.6,49.6 L314.6,47.8 L314.0,45.8 L314.0,43.2 L313.0,42.7 M310.7,40.4 L317.9,41.0 M313.0,42.7 L317.2,43.2 L317.9,41.0 L319.9,40.4 M315.0,38.2 L319.2,38.6 M319.9,40.4 L324.5,42.5 L323.8,45.2 L325.1,45.8 M314.0,45.8 L317.2,46.0 L323.1,46.7 L325.1,45.8 M325.1,45.4 L327.7,45.8 L331.0,48.1 L335.6,49.0 L335.4,51.3 L333.3,52.3 M312.6,51.1 L315.3,51.2 L317.9,50.7 L321.2,53.0 L320.1,54.4 L322.1,54.8 M312.6,50.6 L312.0,51.5 L310.7,53.4 L308.0,53.8 L305.4,53.8 L304.8,53.0 M312.6,56.1 L316.6,56.7 L319.2,56.3 L320.7,56.6 M304.1,54.8 L308.0,55.0 L308.7,57.0 L308.3,58.3 L312.0,58.6 L312.6,56.1 M308.0,55.0 L310.7,53.4 M303.5,54.4 L304.1,54.8 L306.1,55.7 L307.4,58.3 M313.0,59.9 L317.2,59.3 L319.9,59.0 M317.2,59.3 L317.6,60.4 M308.7,59.2 L310.0,58.7 L310.4,60.5 L310.7,60.9 L309.6,62.1 M310.4,60.5 L313.0,59.9 L312.0,58.6 M337.6,59.6 L340.2,60.1 L341.9,62.0 L341.1,65.3 L338.6,65.4 L333.0,65.8 L331.2,65.8 L330.4,66.8 M337.6,59.6 L339.6,58.3 L343.5,59.2 L346.8,59.2 L348.1,60.3 M340.2,60.1 L342.2,60.0 L344.2,60.3 L343.5,62.2 L344.8,62.9 L346.1,63.5 L347.2,63.7 M341.9,62.0 L343.5,62.2 M338.6,65.4 L336.9,68.9 L334.0,70.2 L331.4,71.7 L329.7,71.4 M330.1,70.4 L330.6,68.7 M334.3,72.1 L340.9,75.9 L344.2,75.9 L345.7,76.0 M331.7,72.7 L334.3,72.1 M329.1,75.4 L330.4,75.8 L331.7,72.7 M341.9,65.3 L342.8,67.5 L343.5,70.8 L345.5,71.6 L346.1,74.1 M339.6,91.8 L344.8,91.8 L351.4,89.2 L356.2,85.2 L356.6,81.9 M351.4,89.2 L352.7,92.3 M350.1,81.9 L351.4,83.9 L356.0,84.3 M353.9,65.1 L355.3,64.2 L358.6,64.2 L363.2,66.2 L363.2,68.8 L362.5,70.1 L363.2,72.7 L364.5,75.4 L363.8,81.3 M363.2,75.0 L369.8,75.4 L373.7,72.7 L375.0,70.1 L376.3,66.8 L380.3,65.5 M363.2,66.2 L368.4,64.9 L371.1,65.1 L375.0,64.9 L380.3,65.5 M352.7,59.0 L356.6,59.9 L356.6,55.0 L360.6,54.4 L364.5,57.0 L369.8,57.8 L373.0,60.9 L375.7,60.3 L376.3,58.3 L380.3,57.6 L388.1,58.7 L388.8,55.0 L391.4,54.4 L392.1,52.1 L395.4,52.4 L397.3,49.8 M356.6,59.9 L359.3,58.3 L361.9,59.0 L363.2,60.3 L365.2,62.2 L368.4,64.2 L371.1,65.1 M373.0,60.9 L374.4,62.2 L376.3,62.2 L380.3,62.2 M375.7,60.3 L378.9,61.2 L380.3,62.2 L381.6,65.1 L380.3,65.5 M388.1,58.7 L385.5,60.3 L382.9,60.9 L380.3,62.2 M346.1,53.0 L344.8,49.8 L344.2,50.4 L348.8,47.1 L355.3,47.8 L363.2,47.1 L363.2,43.2 L368.4,42.5 L375.0,41.5 L378.9,43.2 L382.9,42.8 L385.5,44.5 L392.1,47.1 L397.3,49.8 M397.3,49.8 L401.3,47.8 L406.5,47.8 L411.8,45.8 L417.0,46.5 L423.6,48.5 L431.5,48.5 L435.4,48.7 L440.0,44.1 L444.6,43.9 L450.5,49.1 L455.1,51.3 L459.7,50.7 L457.7,55.0 L455.1,58.3 L454.4,58.6 M398.4,49.6 L401.9,54.4 L407.8,56.1 L411.8,58.3 L421.0,59.5 L430.2,57.0 L428.8,55.0 L435.4,52.7 L440.0,52.4 L435.4,48.7 M380.3,65.5 L382.9,67.5 L385.5,67.5 L386.8,71.4 L389.5,74.4 L393.4,76.7 L398.6,77.6 L403.9,77.6 L410.5,77.1 L412.4,80.6 L411.8,82.6 L413.7,85.2 L416.4,86.3 L417.0,84.6 L421.0,83.9 L423.2,84.3 L424.9,85.9 M388.1,76.3 L393.4,78.0 L398.6,79.4 M398.6,77.6 L398.6,79.4 M380.3,65.5 L380.9,68.8 L380.9,71.4 L381.6,73.4 L380.3,74.7 L376.3,77.3 L375.0,80.0 L373.7,82.2 L373.0,83.1 M398.6,79.3 L400.0,80.9 L404.6,81.3 L404.3,85.9 M404.6,81.3 L405.2,82.6 L407.2,80.6 L408.1,78.9 L410.5,77.3 M412.4,101.0 L413.1,93.1 L411.8,90.5 L414.4,87.4 L415.7,85.9 M415.1,87.6 L418.3,90.5 L421.6,95.2 L418.3,95.3 L417.7,98.3 M417.0,84.7 L419.7,87.8 L422.3,91.1 L424.2,95.1 L422.3,98.3 L421.0,100.3 M421.6,95.2 L424.2,95.1 M415.1,105.6 L417.0,106.2 M448.5,64.5 L451.8,63.5 M446.3,61.6 L451.2,59.0 L454.4,58.6 M426.9,111.9 L430.2,112.1 L434.1,110.8 L437.4,108.6 M468.2,117.5 L468.2,126.0 M116.3,39.3 L120.3,42.5 L124.2,39.3 L128.2,42.5 L132.1,39.3 L136.0,42.5 L140.0,39.3 L143.9,42.5 L147.9,39.3 L151.8,42.5 L155.7,39.3 M103.2,37.3 L105.2,38.6 L106.5,39.9 L107.8,41.2 L109.1,42.1 M104.5,36.9 L106.1,37.9 L107.8,39.3 L109.1,40.6 L110.4,41.6 L111.8,42.5 M111.1,44.5 L112.4,45.8 L114.4,46.9 L115.7,47.7 M184.0,171.9 L185.3,174.5 L184.4,177.1 L184.9,179.8 L185.9,182.4 L187.9,184.3 L190.5,185.7 M186.6,168.6 L185.9,171.2 L186.6,173.2 L185.9,175.8 L185.9,179.1 L186.6,181.7 L188.6,183.7 L191.2,185.0 M314.6,64.9 L316.6,65.5 L317.9,64.2 L317.2,62.5 M274.6,39.9 L273.5,38.6 L275.0,37.6"/></g><g clip-path="url(#clip114)" fill="#000" stroke="#000" stroke-width="1.68" stroke-linejoin="round"><path d="M162.3,52.8 L166.2,51.2 L169.5,52.4 L172.0,53.0 L171.5,53.6 L168.2,53.0 L164.9,52.8 L162.3,52.8Z M167.8,55.7 L168.2,59.3 L169.5,58.7 L169.8,56.6 L171.2,54.0 L168.9,54.0 L167.8,55.7Z M172.2,54.0 L174.8,53.8 L178.1,54.6 L177.4,55.7 L175.7,56.3 L174.8,57.5 L173.5,56.6 L173.5,55.0 L172.2,54.0Z M173.6,59.3 L176.7,58.0 L179.4,57.9 L178.7,58.6 L176.1,59.6 L173.6,59.3Z M178.3,57.2 L182.0,56.5 L183.0,56.1 L182.7,57.1 L180.7,57.2 L178.3,57.2Z M153.1,43.5 L155.1,43.2 L156.4,45.8 L156.0,47.8 L155.1,46.5 L153.8,45.2 L153.1,43.5Z M151.1,44.5 L152.1,44.5 L152.5,46.5 L151.5,45.8Z M153.1,46.5 L154.0,46.7 L154.2,48.2 L153.4,47.4Z M148.5,37.9 L149.4,38.2 L149.2,39.9 L148.5,39.3Z M152.5,38.6 L153.8,38.9 L153.4,39.9Z M151.1,43.9 L152.5,44.1 L152.1,44.5Z M144.6,41.5 L145.8,41.6 L145.2,42.0Z M158.0,48.7 L159.0,49.1 L158.6,49.8Z M166.5,48.5 L167.6,48.5 L167.3,49.4 L166.5,49.1Z M186.2,46.5 L187.3,46.9 L186.6,47.8Z M198.4,42.8 L201.0,43.2 L199.7,43.9Z M191.8,42.5 L193.2,42.9 L192.5,43.9Z M181.3,43.5 L183.3,43.6 L182.7,44.1Z M130.8,41.2 L132.4,41.4 L131.4,41.6Z M120.3,39.9 L121.6,40.6 L120.9,41.2Z M135.0,59.5 L135.8,59.5 L135.5,60.5 L135.0,60.3Z M178.7,39.9 L179.6,40.2 L179.1,40.8Z M175.4,44.2 L177.0,44.5 L176.1,44.9Z M324.9,114.8 L326.4,113.7 L327.7,114.1 L328.4,115.4 L327.1,117.4 L325.1,117.4 L324.7,116.1 L324.9,114.8Z M321.4,118.4 L321.8,122.0 L323.1,125.3 L323.8,125.3 L322.5,122.0 L321.8,118.7Z M328.4,126.6 L328.1,129.9 L329.3,132.9 L328.9,129.9 L328.4,126.6Z M419.4,46.2 L421.6,46.0 L425.6,44.1 L427.3,41.0 L425.6,41.9 L422.9,44.5 L420.3,45.6 L419.4,46.2Z M379.6,53.4 L381.6,52.9 L386.8,53.0 L384.2,54.4 L380.9,53.8 L379.6,53.4Z M359.9,53.4 L363.2,54.0 L363.8,55.7 L361.2,57.0 L359.5,55.5 L359.9,53.4Z M300.8,96.0 L302.1,95.7 L302.5,97.0 L301.5,97.3Z M282.4,102.9 L283.4,103.2 L283.0,105.6 L282.6,104.3Z M330.1,108.2 L331.0,108.3 L330.8,110.8 L330.2,109.9Z M191.2,134.5 L192.5,134.2 L192.2,135.5 L191.5,135.1Z M408.2,106.7 L411.1,107.3 L414.8,111.1 L419.3,115.4 L422.3,118.0 L422.3,121.8 L420.3,121.8 L417.4,119.4 L415.6,116.9 L412.8,112.0 L410.5,109.8 L408.2,106.7Z M421.2,123.0 L424.9,122.4 L428.2,123.2 L430.9,123.2 L433.4,124.3 L433.3,125.5 L427.5,124.9 L422.9,123.8 L421.2,123.0Z M434.1,125.0 L439.3,125.4 L444.6,125.0 L440.7,125.8 L435.4,125.8 L434.1,125.0Z M445.9,127.5 L447.5,126.2 L450.2,125.1 L447.2,126.8 L445.9,127.5Z M440.0,121.3 L441.3,121.5 L441.1,117.9 L442.0,117.6 L443.3,120.3 L444.6,119.9 L443.3,118.0 L442.4,116.6 L445.0,115.3 L442.0,115.7 L440.9,113.6 L443.9,113.4 L447.2,112.1 L446.3,113.4 L442.6,113.8 L440.7,114.4 L440.0,118.7 L440.0,121.3Z M440.7,93.1 L441.3,89.8 L443.5,89.8 L443.3,91.8 L442.6,93.7 L443.3,95.7 L445.9,97.0 L445.3,96.0 L443.3,95.8 L441.4,95.3 L440.7,94.4 L440.7,93.1Z M443.3,104.9 L445.9,103.6 L447.9,101.4 L449.2,103.6 L448.5,106.2 L447.6,106.6 L445.9,105.6 L443.3,104.9Z M443.3,101.0 L445.3,99.7 L447.2,99.0 L447.2,101.0 L445.3,101.6 L443.3,101.0Z M450.5,111.7 L451.2,113.4 L451.8,115.2 L450.9,114.1 L450.5,111.7Z M451.2,118.0 L454.8,118.4 L453.1,118.8 L451.2,118.0Z M477.8,121.3 L480.1,120.9 L482.7,119.6 L482.0,121.3 L479.4,122.2 L477.8,121.3Z M486.6,122.0 L489.2,123.9 L493.2,125.9 L495.1,127.2 L491.9,126.6 L487.9,123.3 L486.6,122.0Z M440.8,83.9 L442.0,81.0 L443.3,81.3 L442.6,83.9 L441.7,85.2 L440.8,83.9Z M425.8,89.2 L428.2,87.7 L428.8,88.2 L427.5,90.2 L425.8,89.8 L425.8,89.2Z M453.8,73.0 L455.5,72.9 L456.4,70.1 L455.0,69.5 L453.5,70.5 L453.8,73.0Z M457.1,70.8 L460.0,69.7 L459.0,69.1 L457.1,69.6 L457.1,70.8Z M455.1,69.1 L457.1,67.6 L461.0,67.4 L462.7,65.1 L465.0,64.5 L466.9,62.2 L466.9,60.0 L468.9,59.7 L469.5,62.2 L468.2,64.2 L468.0,66.8 L466.9,68.1 L465.6,68.4 L463.0,68.7 L461.0,70.1 L460.4,68.7 L457.7,69.1 L455.1,69.1Z M466.9,59.6 L468.2,58.3 L468.9,54.6 L470.2,55.4 L474.1,57.0 L471.5,59.0 L468.2,59.2 L466.9,59.6Z M171.5,85.5 L173.5,84.0 L176.7,83.6 L179.4,84.6 L181.3,85.7 L184.0,86.8 L185.7,87.6 L184.6,88.0 L181.3,88.1 L181.1,86.9 L177.4,85.6 L175.4,84.8 L172.8,85.3 L171.5,85.5Z M185.4,89.9 L187.5,88.0 L190.5,88.1 L193.3,89.8 L191.2,90.2 L189.2,91.0 L187.3,90.5 L185.4,89.9Z M180.3,89.9 L182.9,90.2 L182.3,90.6 L180.3,89.9Z M194.9,89.8 L197.0,89.9 L196.7,90.5 L194.9,90.5Z M387.9,101.2 L388.4,101.2 L390.5,104.3 L390.1,106.0 L388.8,106.4 L387.9,105.2 L387.9,101.2Z M78.4,87.6 L79.8,88.5 L78.8,89.3 L78.3,88.4 L78.4,87.6Z M77.4,86.5 L78.3,86.8 L77.7,87.1 L77.4,86.5Z M75.3,85.7 L76.0,86.1 L75.5,86.1 L75.3,85.7Z M73.3,85.0 L73.9,85.0 L73.7,85.3 L73.3,85.0Z M515.9,137.1 L517.6,137.3 L517.2,138.1 L515.9,137.7 L515.9,137.1Z M501.8,133.8 L502.8,134.5 L504.2,136.2 L502.1,134.6 L501.8,133.8Z M498.4,140.6 L502.4,143.2 L501.7,143.5 L498.4,141.3 L498.4,140.6Z M294.4,57.8 L295.4,57.6 L295.6,59.0 L295.2,59.7 L294.4,59.1 L294.4,57.8Z M293.9,60.3 L296.0,60.3 L295.7,62.8 L294.1,63.0 L293.9,60.3Z M299.4,64.2 L303.6,63.9 L302.9,65.9 L299.4,64.7 L299.4,64.2Z M314.0,67.5 L317.6,67.9 L315.3,68.3 L314.0,67.5Z M325.5,68.4 L328.4,67.4 L327.6,68.4 L325.5,68.4Z M297.5,41.2 L299.5,40.6 L299.6,41.5 L298.2,41.9 L297.5,41.2Z M80.2,37.9 L82.9,37.9 L81.6,39.3 L80.2,39.0 L80.2,37.9Z M108.5,43.2 L110.2,43.9 L110.4,45.6 L109.1,44.5 L108.5,43.2Z M114.5,47.4 L119.0,48.5 L120.9,50.4 L119.4,50.3 L116.3,48.5 L114.5,47.4Z M202.6,181.5 L205.6,181.3 L207.2,181.9 L205.6,182.6 L203.7,182.4 L202.6,181.5Z M177.4,49.5 L174.9,49.0 L175.5,50.8Z M184.8,46.3 L184.0,47.3 L185.7,47.3Z M164.8,45.8 L163.2,45.6 L163.7,46.7Z M180.9,40.4 L179.2,40.6 L180.3,41.6Z M189.1,38.3 L187.2,39.5 L189.6,40.0Z M204.4,50.2 L201.6,51.0 L204.0,52.2Z M167.4,49.7 L168.3,51.0 L169.4,49.8Z M170.5,43.1 L168.4,44.2 L170.8,44.9Z M186.1,50.5 L184.4,50.6 L185.4,51.6Z M190.6,45.3 L190.0,46.7 L192.1,46.3Z M180.4,46.9 L180.7,48.9 L183.0,47.7Z M171.3,43.8 L172.7,45.2 L173.7,43.6Z M194.6,47.5 L191.5,47.2 L192.7,49.2Z M179.9,41.1 L178.9,42.1 L180.8,42.2Z M163.6,41.9 L162.8,43.7 L165.5,43.3Z M198.6,46.6 L198.0,48.4 L200.6,47.8Z M185.0,45.5 L187.3,46.9 L187.7,44.8Z M181.6,42.5 L181.8,43.6 L183.2,42.9Z M190.5,37.8 L187.8,38.5 L190.1,39.8Z M164.3,45.4 L162.4,45.2 L163.1,46.4Z M165.5,41.1 L163.8,41.5 L165.1,42.3Z M164.4,45.5 L165.9,46.8 L166.8,45.2Z M197.0,39.6 L195.6,40.6 L197.6,41.0Z M203.4,49.2 L201.5,49.5 L202.8,50.5Z M173.1,44.6 L170.7,45.1 L172.6,46.3Z M162.2,45.4 L161.5,46.8 L163.7,46.5Z M201.8,41.8 L201.5,43.4 L203.7,42.8Z"/></g><g clip-path="url(#clip114)" fill="#000"><circle cx="57.3" cy="132.2" r="1.1"/><circle cx="86.8" cy="137.2" r="1.1"/><circle cx="53.1" cy="141.9" r="1.1"/><circle cx="73.3" cy="141.9" r="1.1"/><circle cx="99.3" cy="125.9" r="1.1"/><circle cx="164.3" cy="114.8" r="1.1"/><circle cx="262.7" cy="77.1" r="1.1"/><circle cx="251.6" cy="93.1" r="1.1"/><circle cx="246.3" cy="63.5" r="1.1"/><circle cx="260.8" cy="71.2" r="1.1"/><circle cx="358.6" cy="140.8" r="1.1"/><circle cx="356.0" cy="141.8" r="1.1"/><circle cx="340.2" cy="129.5" r="1.1"/><circle cx="356.0" cy="120.1" r="1.1"/><circle cx="379.6" cy="110.2" r="1.1"/><circle cx="404.8" cy="98.3" r="1.1"/><circle cx="198.0" cy="71.7" r="1.1"/><circle cx="181.3" cy="81.9" r="1.1"/><circle cx="183.3" cy="82.6" r="1.1"/><circle cx="202.4" cy="93.7" r="1.1"/><circle cx="203.0" cy="96.4" r="1.1"/><circle cx="202.7" cy="100.3" r="1.1"/><circle cx="473.2" cy="96.5" r="1.1"/><circle cx="507.6" cy="104.9" r="1.1"/><circle cx="510.2" cy="112.1" r="1.1"/><circle cx="76.4" cy="111.6" r="1.1"/><circle cx="490.8" cy="105.0" r="1.1"/><circle cx="459.7" cy="104.3" r="1.1"/><circle cx="502.2" cy="114.8" r="1.1"/><circle cx="49.4" cy="139.0" r="1.1"/><circle cx="503.7" cy="135.8" r="1.1"/><circle cx="139.5" cy="149.7" r="1.1"/><circle cx="178.1" cy="158.2" r="1.1"/><circle cx="264.2" cy="124.5" r="1.1"/><circle cx="275.6" cy="135.0" r="1.1"/><circle cx="267.0" cy="162.8" r="1.1"/><circle cx="332.7" cy="175.7" r="1.1"/><circle cx="351.1" cy="175.0" r="1.1"/><circle cx="374.4" cy="178.8" r="1.1"/><circle cx="248.3" cy="189.6" r="1.1"/><circle cx="235.2" cy="185.4" r="1.1"/></g>
<clipPath id="clip302"><rect x="50.04" y="227.40" width="466.12" height="151.00"/></clipPath><g clip-path="url(#clip302)" fill="none" stroke="#000" stroke-width="2.1" stroke-linejoin="round" stroke-linecap="round"><path d="M67.8,230.8 L73.0,230.0 L77.0,228.7 L80.9,227.4 L83.5,225.4 L86.2,224.8 L90.1,223.5 L94.0,224.1 L98.0,224.1 L101.9,225.4 L104.5,226.4 L107.2,228.1 L108.5,230.0 L111.1,231.3 L112.4,232.0 L113.1,234.0 L115.0,235.9 L117.7,237.2 L119.6,239.2 L120.3,242.5 L120.0,246.4 L120.0,249.7 L121.6,253.0 L122.3,253.7 L123.6,255.6 L124.9,257.6 L127.5,258.3 L129.2,260.0 L130.1,262.2 L131.4,264.2 L133.4,266.1 L136.0,268.8 L138.0,271.4 L139.3,272.7 L138.0,270.7 L136.0,266.8 L132.8,262.2 L134.7,262.2 L137.4,265.5 L139.3,268.1 L141.3,270.1 L143.9,272.7 L144.6,274.7 L144.6,276.6 L146.5,278.0 L149.2,279.3 L151.8,280.6 L154.4,281.6 L157.1,282.3 L159.0,281.9 L161.0,282.5 L162.3,283.9 L163.6,284.5 L165.6,285.2 L167.6,285.8 L168.2,285.8 L170.2,287.1 L170.6,288.5 L171.5,289.8 L172.8,291.1 L174.1,292.0 L176.1,293.1 L178.1,293.1 L179.4,291.5 L180.7,292.4 L181.3,293.7 L181.3,297.6 L182.0,299.0 L180.0,300.9 L178.1,302.2 L177.4,304.2 L178.1,306.2 L176.7,308.8 L177.4,310.8 L178.7,312.7 L180.0,314.7 L182.0,318.7 L183.3,321.3 L184.6,323.3 L188.6,325.2 L190.5,327.2 L190.9,329.2 L190.9,333.1 L190.5,335.7 L189.2,339.7 L189.2,342.3 L189.1,346.2 L188.6,348.9 L187.3,351.5 L186.6,355.4 L185.9,358.0 L185.9,360.7 L184.6,364.0 L184.0,367.2 L184.6,369.9 L185.3,371.8 L188.6,373.8 L191.2,375.1 L193.8,375.8 L195.8,375.1 L197.8,374.9 L194.5,373.8 L193.2,371.8 L191.8,370.5 L192.5,368.5 L194.5,365.9 L196.4,364.6 L194.5,363.3 L195.8,362.0 L197.8,360.7 L197.8,358.7 L199.1,358.0 L197.8,356.7 L201.0,356.1 L201.7,354.1 L206.9,353.5 L208.3,352.1 L208.7,350.8 L207.6,349.5 L206.3,348.2 L209.6,348.7 L212.2,348.5 L212.9,347.3 L214.8,344.9 L216.8,342.9 L218.8,340.3 L219.4,337.0 L220.1,336.4 L222.7,334.4 L225.3,333.1 L228.0,333.1 L229.3,331.8 L230.6,329.2 L231.2,326.5 L231.9,323.9 L231.9,320.6 L233.2,319.7 L234.5,317.3 L236.5,315.4 L237.1,313.4 L237.1,310.8 L235.8,309.5 L233.2,308.2 L230.6,306.8 L228.0,306.6 L225.3,306.2 L224.0,304.9 L221.4,304.0 L219.4,304.5 L217.5,303.2 L216.8,300.9 L215.5,297.6 L213.5,295.7 L210.9,295.0 L208.3,295.0 L206.3,293.7 L204.3,291.7 L202.4,289.8 L200.4,288.9 L197.8,289.8 L195.1,289.0 L193.2,289.1 L191.2,287.8 L189.2,288.5 L188.8,286.8 L187.3,288.1 L184.6,288.9 L183.3,290.4 L181.6,291.7 L180.7,290.7 L178.7,290.4 L176.7,291.3 L175.4,291.1 L173.5,289.1 L173.2,287.8 L173.5,285.8 L173.7,283.2 L172.2,282.2 L170.2,282.0 L167.6,282.2 L166.9,281.2 L167.3,279.3 L168.2,277.3 L168.9,274.7 L167.6,274.7 L164.5,275.3 L164.3,277.3 L163.0,278.6 L161.0,278.7 L159.0,279.0 L157.7,278.2 L156.4,276.9 L155.5,275.3 L154.8,274.0 L154.7,270.7 L155.5,268.8 L155.3,266.8 L156.4,265.5 L158.4,264.4 L160.3,263.9 L163.0,264.3 L164.9,264.7 L166.0,264.2 L165.6,263.2 L167.6,262.9 L170.2,263.0 L172.2,263.8 L173.5,264.2 L174.5,266.1 L174.8,267.4 L176.1,269.0 L176.7,269.8 L177.5,269.4 L178.1,268.1 L177.4,265.5 L176.5,263.5 L176.2,261.5 L177.4,260.2 L179.4,258.9 L181.3,257.6 L183.3,256.6 L184.0,255.6 L183.3,254.3 L182.9,252.3 L184.4,252.0 L185.3,251.0 L185.9,249.7 L188.6,249.1 L191.2,248.1 L190.5,247.1 L190.3,246.2 L192.5,245.1 L195.1,244.1 L196.4,243.6 L198.4,243.2 L199.1,243.6 L196.4,244.5 L197.1,245.5 L199.1,244.5 L202.4,243.6 L204.3,242.8 L203.7,241.2 L202.4,242.4 L200.4,242.2 L198.4,241.8 L197.8,240.5 L198.4,239.2 L195.8,238.3 L193.8,238.8 L191.2,240.5 L189.2,241.5 L192.5,239.2 L195.1,237.9 L198.4,237.0 L203.0,237.0 L205.6,236.2 L208.3,235.3 L209.6,234.0 L209.8,232.7 L207.6,231.3 L205.6,230.3 L203.0,229.4 L201.7,227.4 L199.1,225.4 L197.8,222.8 M159.0,222.8 L159.4,225.7 L161.6,227.4 L164.3,227.8 L167.6,228.7 L171.5,230.3 L175.0,230.7 L175.4,233.4 L177.4,235.5 L179.4,235.3 L179.6,234.6 L180.0,231.3 L182.0,230.0 L182.4,228.1 L181.3,226.1 L180.7,224.1 M205.2,240.4 L209.6,240.5 L213.5,241.6 L214.0,240.4 L212.9,238.2 L210.2,237.5 L209.6,235.3 L207.6,236.3 L206.3,238.6 L205.2,240.4 M171.5,274.3 L173.5,272.8 L176.7,272.4 L179.4,273.4 L181.3,274.5 L184.0,275.6 L185.7,276.4 L184.6,276.8 L181.3,276.9 L181.1,275.7 L177.4,274.4 L175.4,273.6 L172.8,274.1 L171.5,274.3 M185.4,278.7 L187.5,276.8 L190.5,276.9 L193.3,278.6 L191.2,279.0 L189.2,279.8 L187.3,279.3 L185.4,278.7 M180.3,278.7 L182.9,279.0 L182.3,279.4 L180.3,278.7 M194.9,278.6 L197.0,278.7 L196.7,279.3 L194.9,279.3 M114.5,236.2 L119.0,237.2 L120.9,239.2 L119.4,239.1 L116.3,237.2 L114.5,236.2 M108.5,232.0 L110.2,232.7 L110.4,234.4 L109.1,233.3 L108.5,232.0 M78.4,276.4 L79.8,277.3 L78.8,278.1 L78.3,277.2 L78.4,276.4 M77.4,275.3 L78.3,275.6 L77.7,275.9 L77.4,275.3 M75.3,274.5 L76.0,274.9 L75.5,274.9 L75.3,274.5 M73.3,273.8 L73.9,273.8 L73.7,274.1 L73.3,273.8 M49.4,234.9 L52.0,234.8 L56.0,234.4 L59.9,233.8 L63.8,232.7 L66.5,231.9 M80.2,226.7 L82.9,226.7 L81.6,228.1 L80.2,227.8 L80.2,226.7 M202.6,370.3 L205.6,370.1 L207.2,370.7 L205.6,371.4 L203.7,371.2 L202.6,370.3 M260.8,275.3 L262.1,272.0 L264.1,268.8 L266.0,266.5 L268.7,265.7 L270.2,264.2 L270.5,262.2 L271.9,259.2 L274.2,258.3 L275.4,255.9 L276.5,256.3 L280.5,256.8 L283.1,255.9 L287.0,254.6 L291.0,254.3 L294.3,254.5 L296.2,253.9 L297.5,254.3 L296.9,255.6 L297.5,256.7 L296.2,258.3 L298.2,259.3 L300.2,259.8 L303.1,260.5 L304.1,261.9 L307.4,263.1 L309.4,262.2 L309.4,260.9 L310.7,259.8 L313.3,260.1 L315.9,261.1 L319.2,261.8 L322.5,261.8 L325.1,261.9 L328.0,261.8 L328.9,264.2 L328.1,266.1 L327.1,266.4 L325.8,263.5 L327.1,266.8 L329.1,271.4 L331.0,274.0 L331.9,278.0 L333.7,279.3 L335.0,282.5 L336.9,284.3 L338.9,286.1 L340.0,287.4 L341.5,289.1 L344.8,288.2 L350.3,287.4 L350.1,289.1 L349.4,291.1 L347.4,294.4 L345.5,297.0 L343.5,299.6 L340.9,301.6 L338.2,304.2 L336.3,306.2 L334.7,308.8 L334.3,311.4 L335.0,313.4 L336.1,316.7 L336.3,319.3 L336.3,322.6 L334.3,325.2 L331.0,327.8 L329.1,329.8 L329.7,332.4 L329.7,334.4 L326.4,336.4 L326.2,338.4 L325.8,340.3 L323.8,342.3 L322.5,343.9 L320.5,345.6 L318.6,346.9 L316.6,347.5 L313.3,347.5 L310.7,348.1 L309.4,348.6 L307.4,347.8 L307.1,346.2 L306.5,344.3 L304.8,340.5 L303.1,338.4 L302.1,333.1 L302.0,332.2 L300.4,329.8 L298.6,326.5 L298.6,324.6 L299.4,321.3 L300.8,318.7 L301.1,316.7 L300.4,314.7 L299.2,310.8 L298.9,309.5 L297.5,307.9 L295.6,305.5 L295.3,302.9 L295.6,301.6 L296.0,299.0 L294.9,297.6 L294.0,297.0 L292.3,297.1 L290.7,297.3 L289.0,294.6 L286.4,294.6 L284.4,295.0 L281.1,296.3 L279.2,296.2 L277.2,296.1 L273.3,297.1 L271.3,296.3 L268.7,294.2 L266.7,293.1 L265.8,291.7 L265.4,290.4 L263.4,288.7 L261.2,286.6 L260.8,285.2 L260.5,283.6 L261.4,281.9 L262.0,279.3 L261.8,277.3 L260.8,275.3 M347.8,318.7 L349.4,323.3 L348.1,325.9 L346.8,329.8 L345.1,335.1 L342.4,336.4 L340.6,334.4 L340.0,331.8 L341.1,329.2 L340.9,325.2 L344.2,323.6 L346.1,320.6 L347.8,318.7 M298.6,227.0 L296.9,227.3 L296.2,227.3 L293.9,228.3 L294.3,230.0 L294.3,232.3 L292.3,232.7 L289.7,232.9 L289.0,234.0 L287.8,235.3 L286.4,235.8 L285.1,237.0 L283.4,237.9 L281.4,237.6 L281.0,239.1 L279.2,238.8 L277.2,239.0 L276.9,240.0 L280.1,240.9 L281.5,242.2 L281.5,244.5 L280.7,245.9 L276.5,245.8 L272.6,245.5 L270.9,246.4 L271.5,247.1 L271.5,249.1 L270.6,251.7 L271.5,252.3 L271.4,254.3 L274.6,254.6 L275.7,255.6 L277.2,254.8 L280.5,254.7 L282.4,253.5 L283.1,252.0 L282.7,251.0 L284.2,249.3 L287.3,247.9 L287.0,247.0 L287.7,246.0 L289.7,245.9 L291.6,246.3 L292.9,245.4 L294.7,244.6 L296.2,245.1 L296.9,246.6 L298.9,247.9 L300.8,248.8 L303.5,250.4 L304.1,251.8 L303.7,253.0 L304.4,253.0 L305.6,251.7 L304.9,250.0 L307.4,250.2 L306.7,249.6 L304.1,248.4 L301.5,247.1 L301.0,245.8 L299.2,244.6 L299.2,243.4 L301.0,242.8 L301.1,243.7 L302.8,244.5 L304.1,245.8 L307.4,247.1 L308.7,248.0 L308.6,249.9 L309.4,251.0 L310.9,253.3 L312.6,255.0 L313.3,253.7 L314.0,253.0 L314.6,252.7 L313.0,249.7 L314.6,249.5 L317.2,249.3 L317.5,251.0 L318.6,252.3 L318.9,254.3 L320.1,254.7 L321.8,255.4 L323.3,254.7 L325.8,255.5 L327.7,255.2 L330.2,254.6 L330.4,256.3 L330.1,257.6 L329.1,259.7 L328.4,261.4 L328.0,261.8 M328.9,264.2 L329.1,266.1 L331.0,268.8 L333.0,271.4 L334.3,274.0 L335.6,276.6 L337.6,279.9 L339.3,283.2 L340.0,286.2 L342.2,286.1 L346.8,284.5 L351.4,282.4 L355.3,280.6 L357.7,278.6 L359.0,276.9 L360.3,275.3 L361.6,273.4 L359.9,271.8 L357.2,270.7 L357.0,268.5 L356.0,269.4 L354.0,271.1 L351.4,271.4 L350.7,269.7 L350.3,268.5 L349.4,270.1 L348.8,268.1 L346.9,266.1 L346.1,263.6 L347.4,263.1 L349.4,264.2 L350.7,266.1 L353.3,267.7 L355.3,267.8 L357.9,269.0 L360.6,269.5 L363.8,269.8 L367.1,269.7 L370.4,269.5 L371.7,271.4 L373.0,272.0 L374.4,273.4 L375.7,275.3 L378.7,275.1 L378.7,278.0 L379.6,281.9 L380.9,285.2 L382.2,287.8 L383.5,291.1 L384.9,292.4 L385.8,291.2 L387.2,289.4 L387.9,287.8 L388.5,285.3 L388.4,282.5 L390.1,281.4 L391.4,280.6 L394.0,278.3 L396.7,276.6 L397.3,274.7 L399.3,274.3 L401.3,274.1 L403.2,273.4 L404.3,275.3 L405.2,276.9 L406.9,278.6 L407.2,281.6 L408.5,282.0 L411.1,281.2 L411.4,283.2 L412.4,285.8 L412.6,289.8 L412.2,292.0 L414.0,294.4 L414.8,296.3 L416.1,299.2 L418.9,301.2 L419.9,301.1 L419.0,297.6 L418.9,295.7 L417.3,294.8 L415.7,293.8 L414.9,293.1 L414.1,290.7 L413.3,289.1 L413.9,287.1 L414.8,285.2 L415.7,286.2 L417.7,287.1 L419.0,289.0 L421.0,291.6 L421.2,290.0 L423.1,289.1 L424.6,288.6 L426.5,287.5 L426.6,285.2 L426.0,282.8 L424.2,281.1 L422.9,279.3 L421.9,278.0 L422.9,276.2 L424.6,274.7 L426.2,274.5 L427.8,276.2 L428.2,275.1 L429.6,274.5 L432.1,273.8 L433.4,273.4 L436.1,272.7 L437.8,271.1 L439.3,269.4 L440.3,267.7 L442.0,265.9 L443.3,263.8 L442.0,262.9 L443.0,261.5 L441.7,260.2 L441.1,257.9 L439.6,256.9 L441.4,255.5 L443.9,254.5 L442.0,253.3 L439.3,254.1 L438.7,252.6 L437.6,251.7 L438.7,251.4 L442.2,249.3 L442.8,251.2 L442.9,251.8 L445.3,250.6 L446.3,250.5 L447.5,252.6 L449.2,253.5 L448.9,256.9 L450.5,257.5 L452.9,256.7 L453.1,255.0 L452.5,253.3 L451.6,252.0 L450.5,250.6 L453.4,249.2 L453.5,247.4 L455.1,246.7 L456.9,246.0 L458.4,246.7 L461.0,245.3 L463.6,243.2 L465.0,241.1 L466.9,239.2 L467.6,236.6 L467.8,234.4 L468.8,232.9 L466.3,231.9 L463.6,232.0 L462.7,231.2 L460.6,230.9 L463.0,229.4 L465.0,228.3 L467.6,227.0 L469.5,225.4 L473.5,224.9 M486.6,225.4 L487.4,229.4 L487.9,234.0 L488.8,235.9 L490.9,233.3 L493.2,231.3 L495.8,229.1 L497.5,226.7 L498.4,224.1 M297.3,229.4 L296.9,228.7 L297.5,232.0 L300.2,231.5 L302.1,232.3 L304.1,231.6 L307.4,230.9 L308.7,231.5 L310.7,230.7 L310.7,228.7 L311.3,227.4 L312.6,227.0 L314.0,228.1 L315.0,227.4 L315.0,226.1 M298.6,226.1 L298.6,227.0 L299.5,229.1 L300.2,230.2 L301.7,230.2 L302.1,229.4 L304.6,228.7 L304.8,227.4 L305.2,226.1 M297.5,230.0 L299.5,229.4 L299.6,230.3 L298.2,230.7 L297.5,230.0 M319.9,248.4 L321.2,248.8 L323.8,248.9 L327.1,247.8 L329.1,247.8 L331.7,248.9 L334.3,249.1 L337.6,248.4 L337.9,247.1 L335.6,245.8 L333.0,244.5 L331.7,243.4 L329.7,243.7 L327.1,244.5 L325.8,243.3 L327.1,242.5 L324.7,241.7 L323.4,241.8 L322.1,243.4 L320.8,245.1 L319.7,247.1 L319.9,248.4 M347.4,241.8 L350.7,241.2 L352.7,241.5 L352.7,243.4 L350.5,244.5 L350.1,246.2 L352.3,247.8 L352.7,249.7 L354.0,251.3 L353.9,253.9 L351.4,254.7 L349.0,253.8 L347.4,252.6 L347.7,250.1 L349.1,249.7 L348.1,249.1 L345.6,246.7 L345.3,245.4 L345.5,243.0 L347.4,241.8 M275.6,237.2 L278.5,236.9 L281.8,236.3 L284.8,235.7 L285.3,234.0 L283.5,233.3 L283.1,232.7 L282.4,231.3 L281.1,230.0 L280.5,229.4 L279.2,229.4 L280.5,227.4 L280.7,227.1 L277.8,227.3 L275.7,227.7 L275.9,229.4 L276.5,230.7 L278.8,230.8 L279.2,232.7 L277.2,233.0 L277.6,234.4 L276.5,235.0 L279.2,235.3 L275.6,237.2 M275.2,234.4 L275.0,232.7 L275.5,231.3 L273.9,230.3 L271.9,231.3 L270.0,232.0 L270.6,234.0 L270.0,235.1 L272.6,235.0 L275.2,234.4 M299.4,253.0 L303.6,252.7 L302.9,254.7 L299.4,253.5 L299.4,253.0 M293.9,249.1 L296.0,249.1 L295.7,251.6 L294.1,251.8 L293.9,249.1 M294.4,246.6 L295.4,246.4 L295.6,247.8 L295.2,248.5 L294.4,247.9 L294.4,246.6 M314.0,256.3 L317.6,256.7 L315.3,257.1 L314.0,256.3 M325.5,257.2 L328.4,256.2 L327.6,257.2 L325.5,257.2 M387.9,290.0 L388.4,290.0 L390.5,293.1 L390.1,294.8 L388.8,295.2 L387.9,294.0 L387.9,290.0 M440.8,272.7 L442.0,269.8 L443.3,270.1 L442.6,272.7 L441.7,274.0 L440.8,272.7 M425.8,278.0 L428.2,276.5 L428.8,277.0 L427.5,279.0 L425.8,278.6 L425.8,278.0 M440.7,281.9 L441.3,278.6 L443.5,278.6 L443.3,280.6 L442.6,282.5 L443.3,284.5 L445.9,285.8 L445.3,284.8 L443.3,284.6 L441.4,284.1 L440.7,283.2 L440.7,281.9 M443.3,293.7 L445.9,292.4 L447.9,290.2 L449.2,292.4 L448.5,295.0 L447.6,295.4 L445.9,294.4 L443.3,293.7 M443.3,289.8 L445.3,288.5 L447.2,287.8 L447.2,289.8 L445.3,290.4 L443.3,289.8 M408.2,295.5 L411.1,296.1 L414.8,299.9 L419.3,304.2 L422.3,306.8 L422.3,310.6 L420.3,310.6 L417.4,308.2 L415.6,305.7 L412.8,300.8 L410.5,298.6 L408.2,295.5 M421.2,311.8 L424.9,311.2 L428.2,312.0 L430.9,312.0 L433.4,313.1 L433.3,314.3 L427.5,313.7 L422.9,312.6 L421.2,311.8 M434.1,313.8 L439.3,314.2 L444.6,313.8 L440.7,314.6 L435.4,314.6 L434.1,313.8 M445.9,316.3 L447.5,315.0 L450.2,313.9 L447.2,315.6 L445.9,316.3 M426.2,300.5 L426.9,304.2 L427.8,306.7 L433.4,307.5 L436.1,307.5 L435.4,304.9 L437.4,301.8 L437.8,300.1 L438.7,296.3 L439.6,295.8 L437.1,293.8 L436.1,294.4 L434.8,296.3 L431.5,298.7 L429.5,299.6 L427.8,300.7 L426.2,300.5 M440.0,310.1 L441.3,310.3 L441.1,306.7 L442.0,306.4 L443.3,309.1 L444.6,308.7 L443.3,306.8 L442.4,305.4 L445.0,304.1 L442.0,304.5 L440.9,302.4 L443.9,302.2 L447.2,300.9 L446.3,302.2 L442.6,302.6 L440.7,303.2 L440.0,307.5 L440.0,310.1 M450.5,300.5 L451.2,302.2 L451.8,304.0 L450.9,302.9 L450.5,300.5 M451.2,306.8 L454.8,307.2 L453.1,307.6 L451.2,306.8 M455.1,304.6 L459.3,304.1 L461.0,307.2 L464.3,305.0 L468.2,306.3 L472.8,307.9 L474.8,309.9 L476.8,310.9 L477.2,313.5 L480.1,316.4 L477.4,316.3 L474.8,313.4 L471.5,313.4 L470.9,315.0 L468.2,314.8 L465.6,313.5 L465.0,313.8 L463.6,309.7 L460.4,308.5 L457.7,308.2 L456.7,306.6 L455.1,304.6 M477.8,310.1 L480.1,309.7 L482.7,308.4 L482.0,310.1 L479.4,311.0 L477.8,310.1 M486.6,310.8 L489.2,312.7 L493.2,314.7 L495.1,316.0 L491.9,315.4 L487.9,312.1 L486.6,310.8 M432.1,331.8 L432.8,331.5 L436.3,329.9 L439.3,329.2 L442.0,328.5 L443.7,325.9 L445.3,324.6 L447.2,322.6 L449.6,321.2 L451.4,322.6 L453.1,322.5 L454.1,320.4 L455.4,318.9 L457.2,318.8 L457.2,318.0 L458.4,318.4 L461.4,318.7 L463.0,319.0 L461.7,320.4 L461.0,322.6 L463.0,323.9 L466.0,325.9 L468.0,325.7 L468.9,322.6 L468.9,319.3 L470.2,316.9 L471.5,321.0 L472.8,321.5 L473.9,322.6 L474.8,325.9 L475.2,327.8 L478.5,329.7 L479.4,332.0 L481.1,332.6 L482.0,334.7 L484.0,336.1 L484.6,339.7 L484.0,343.6 L483.3,345.6 L482.0,346.9 L481.1,348.6 L480.1,350.8 L479.9,352.1 L477.4,352.5 L475.2,354.1 L473.4,352.7 L471.5,353.8 L468.9,353.3 L466.9,352.1 L466.4,350.4 L464.4,349.6 L465.0,348.6 L464.0,346.0 L463.6,347.5 L462.7,349.2 L461.5,348.6 L460.6,348.2 L459.3,346.0 L455.8,344.3 L452.5,344.5 L448.5,345.3 L445.9,346.9 L445.3,347.4 L440.7,347.4 L438.0,348.9 L436.2,348.9 L434.1,347.9 L435.0,346.8 L435.1,344.9 L434.1,342.3 L433.6,340.3 L432.1,337.7 L432.0,335.1 L432.5,333.1 L432.1,331.8 M473.0,356.3 L477.8,356.6 L477.7,358.3 L476.8,359.6 L474.8,360.1 L473.1,357.4 L473.0,356.3 M509.9,348.2 L512.2,350.4 L513.9,351.2 L516.8,352.3 L517.5,352.8 L515.5,354.5 L515.2,355.7 L513.3,357.5 L512.3,357.0 L512.9,355.4 L511.3,354.4 L512.3,352.8 L512.2,351.5 L509.9,348.2 M509.9,356.1 L511.6,357.0 L511.8,358.0 L510.2,360.0 L508.0,361.3 L507.2,363.0 L505.4,364.1 L501.7,363.6 L502.0,362.2 L504.1,360.7 L507.0,359.4 L508.3,357.7 L509.9,356.1 M453.8,261.8 L455.5,261.7 L456.4,258.9 L455.0,258.3 L453.5,259.3 L453.8,261.8 M457.1,259.6 L460.0,258.5 L459.0,257.9 L457.1,258.4 L457.1,259.6 M455.1,257.9 L457.1,256.4 L461.0,256.2 L462.7,253.9 L465.0,253.3 L466.9,251.0 L466.9,248.8 L468.9,248.5 L469.5,251.0 L468.2,253.0 L468.0,255.6 L466.9,256.9 L465.6,257.2 L463.0,257.5 L461.0,258.9 L460.4,257.5 L457.7,257.9 L455.1,257.9 M466.9,248.4 L468.2,247.1 L468.9,243.4 L470.2,244.2 L474.1,245.8 L471.5,247.8 L468.2,248.0 L466.9,248.4 M469.5,242.5 L471.5,241.8 L471.5,238.2 L471.1,235.3 L471.1,232.7 L470.2,231.6 L469.5,232.7 L469.2,235.3 L469.5,238.6 L469.5,242.5 M474.1,245.8 L476.8,244.5 L480.1,242.5 L482.7,240.5 L485.3,238.6 L487.9,236.2 M515.9,325.9 L517.6,326.1 L517.2,326.9 L515.9,326.5 L515.9,325.9 M498.4,329.4 L502.4,332.0 L501.7,332.3 L498.4,330.1 L498.4,329.4 M501.8,322.6 L502.8,323.3 L504.2,325.0 L502.1,323.4 L501.8,322.6 M121.3,238.6 L158.4,238.6 L164.9,239.9 L172.0,241.8 L174.8,243.4 L174.8,247.8 L179.4,246.2 L182.7,244.5 L185.0,243.8 L189.2,243.8 L191.2,241.8 L192.5,240.5 L193.8,240.8 L194.1,243.0 L195.1,243.8 M98.0,224.1 L103.2,225.4 L105.8,224.8 L108.5,227.4 L111.1,229.4 L112.4,229.8 M129.3,260.2 L132.5,260.0 L137.4,261.8 L141.0,261.8 L143.3,261.1 L145.9,264.0 L147.9,264.8 L149.8,263.8 L151.8,266.1 L152.5,266.8 L155.5,268.9 M162.0,283.9 L162.0,282.8 L163.1,281.9 L164.3,281.8 L164.3,279.5 L166.0,279.5 L167.2,278.6 M166.0,279.5 L166.0,282.0 L167.3,282.3 M164.8,284.9 L165.8,284.0 L167.6,284.6 L168.2,285.4 M167.8,285.8 L170.2,284.6 L171.9,283.2 L173.9,283.2 M170.6,288.5 L173.2,288.5 M174.1,291.9 L174.6,290.3 M181.5,291.5 L180.8,293.4 M189.5,287.4 L188.2,288.2 L187.9,292.4 L191.2,293.7 L194.5,294.9 L194.1,297.6 L194.5,300.3 L195.3,301.2 M204.3,291.7 L203.0,294.4 L203.7,296.3 L199.1,297.6 L195.3,301.2 M208.3,295.0 L208.9,300.3 L212.2,300.0 L214.8,299.6 L215.5,297.6 M206.9,294.2 L205.0,297.6 L204.6,300.9 L208.9,300.3 M179.4,301.3 L184.0,302.9 L186.6,304.5 L191.2,308.4 L191.2,304.2 L191.8,301.6 L195.3,301.2 M177.7,307.4 L179.4,309.5 L182.7,306.3 L184.0,303.2 M191.2,308.4 L187.3,312.7 L186.6,315.4 L190.5,317.3 L191.8,317.3 L192.9,319.3 L191.8,323.3 L192.5,325.9 L190.7,326.9 M191.8,317.3 L197.1,316.0 L203.7,320.9 L204.3,324.3 L206.7,325.9 L207.3,328.5 M192.5,325.9 L193.4,330.9 L195.1,332.8 L198.4,332.0 L200.6,331.8 L202.0,329.8 L206.7,329.2 M206.7,329.2 L210.9,332.0 L211.8,334.4 L211.4,336.5 L206.3,338.6 L204.3,334.4 L200.9,332.0 M211.4,336.5 L212.5,338.4 L209.6,340.3 L207.5,342.6 L212.9,347.1 M207.5,342.6 L206.4,346.9 M193.4,330.9 L193.2,338.4 L191.2,342.3 L191.2,346.2 L189.9,350.2 L189.2,355.4 L189.0,360.7 L187.9,365.9 L187.3,368.5 L188.6,371.2 L193.0,371.6 M193.0,372.0 L193.0,375.1 M280.9,256.9 L281.5,260.8 L278.4,261.4 L271.7,265.2 L271.7,266.5 M265.8,266.5 L271.7,266.5 M260.8,274.9 L266.0,274.9 L266.0,272.7 L267.3,272.0 L267.3,268.8 L271.7,268.8 L271.7,266.5 M271.7,267.1 L276.8,270.1 L274.6,270.1 L275.9,281.2 L268.0,282.5 L267.1,283.6 L264.1,281.1 L261.7,281.5 M276.8,270.1 L284.7,275.3 L287.3,278.0 L288.6,277.7 L290.7,277.4 L298.9,272.0 M294.1,254.5 L293.9,257.3 L292.9,258.9 L295.6,263.2 L296.2,270.1 L298.9,272.0 M298.2,259.3 L296.6,261.3 L295.6,263.2 M315.9,261.4 L315.9,274.0 L331.5,274.0 M315.9,274.0 L315.9,276.6 L314.6,277.3 L303.5,272.7 L301.5,273.4 L298.9,272.0 M303.5,272.7 L303.1,276.6 L301.0,284.9 M287.8,287.5 L288.6,285.2 L292.3,285.8 L296.2,285.3 L301.0,284.9 M288.6,277.7 L288.4,281.2 L284.4,283.2 L283.5,283.3 L282.4,283.2 L280.5,284.3 L279.2,285.0 L275.9,289.1 M284.4,283.2 L286.4,287.1 L287.8,287.5 L286.6,290.4 L286.6,294.6 M283.5,283.3 L283.1,288.5 L279.4,288.5 L275.9,289.1 M275.9,289.1 L272.6,289.5 L271.9,293.1 L273.3,297.1 M279.4,288.5 L279.2,296.2 M283.1,288.5 L283.8,292.4 L285.1,294.8 M268.0,282.5 L268.3,286.5 L271.9,287.8 L272.6,289.5 M261.2,286.6 L265.1,286.2 L268.3,286.5 M265.8,291.7 L268.7,289.8 L271.9,293.1 L268.7,294.2 M314.6,277.3 L312.6,284.5 L312.0,286.5 L313.0,288.7 M302.1,286.5 L303.5,290.4 L303.5,293.1 L307.4,291.3 L313.0,288.7 M294.3,296.7 L297.5,293.7 L301.0,289.1 L302.1,286.5 L301.0,284.9 M303.5,293.1 L302.1,297.0 L304.1,300.3 L301.5,300.0 L297.9,300.0 L296.0,299.9 M297.9,300.0 L297.9,301.6 L295.6,301.6 M304.1,300.3 L307.4,298.2 M331.0,284.1 L327.7,289.8 L327.7,291.6 L329.7,296.3 M313.0,288.7 L314.6,291.5 L319.2,296.3 L323.1,298.0 L327.7,297.4 L329.7,296.3 M313.0,288.7 L315.9,289.5 L318.6,290.4 L322.5,290.0 L325.8,286.9 L327.7,289.8 M331.0,284.1 L331.7,280.6 L333.7,279.3 M331.0,284.1 L335.6,283.9 L338.9,286.1 M299.2,310.8 L304.1,310.6 L306.1,313.4 L312.0,312.5 L314.6,317.3 L319.2,318.7 L321.8,320.4 L321.8,314.7 L323.1,313.4 L321.2,310.8 L321.8,304.9 L322.5,301.6 L323.8,299.9 L323.1,298.0 L319.2,296.3 L315.9,295.9 L313.0,296.7 L307.4,298.2 L306.1,304.2 L304.1,306.8 L302.8,308.8 L299.2,310.8 M298.6,325.6 L300.8,325.6 L310.7,326.5 L311.7,320.0 L314.6,317.3 M310.7,326.5 L315.9,326.3 L309.4,331.8 L309.4,340.2 L304.8,340.5 M309.4,335.3 L316.6,336.6 L321.7,332.0 L324.2,332.3 M315.9,326.3 L319.9,324.6 L323.0,323.4 L326.4,324.6 M326.2,325.2 L326.4,328.6 L324.2,332.3 L325.1,337.0 M334.7,309.1 L327.7,304.2 L322.5,304.2 M329.1,296.9 L336.9,297.6 L338.2,297.6 M336.9,297.6 L342.2,296.3 L346.1,292.4 L345.5,288.5 M336.9,297.6 L336.9,305.1 M336.3,316.7 L329.1,318.0 L328.4,321.3 L326.2,325.2 M323.1,313.4 L326.4,315.4 L328.4,315.4 M326.4,315.4 L326.8,319.3 L323.0,323.4 M322.5,304.2 L323.1,306.2 L323.5,307.5 M320.5,337.7 L318.6,341.6 L321.2,342.9 L322.5,340.7 M323.9,336.6 L325.1,337.7 M338.9,286.1 L339.8,287.8 L339.3,288.6 M346.1,292.4 L340.2,290.4 L339.8,287.8 M271.4,247.9 L274.6,248.3 L273.9,251.0 L273.3,254.1 M280.7,245.9 L283.1,246.8 L287.3,247.2 M286.4,235.8 L288.6,237.4 L291.0,237.9 L293.9,238.6 L293.1,240.4 M293.1,240.4 L291.0,242.2 L292.3,242.6 L292.3,244.9 L292.9,245.4 M287.6,235.5 L291.0,235.9 L291.0,234.6 L292.3,232.9 M291.0,235.9 L291.2,237.0 L291.0,237.9 M294.5,230.8 L296.0,230.9 M301.7,232.1 L302.3,234.6 L302.8,235.9 M299.0,236.9 L301.2,238.8 L302.8,238.6 L305.4,239.0 L305.4,240.1 L304.8,241.8 M299.0,236.9 L302.8,235.9 L305.4,236.9 L308.0,237.9 L312.6,238.4 M293.1,240.4 L295.6,240.5 L296.9,240.5 L300.2,240.5 L301.2,238.8 M291.0,242.2 L292.9,242.6 L294.9,241.8 L296.9,241.5 L299.5,241.2 L301.1,241.8 L304.8,241.8 M305.4,239.0 L307.8,237.9 M305.4,240.1 L307.8,240.1 L309.4,239.2 L312.6,239.4 M312.6,238.4 L314.6,236.6 L314.0,234.6 L314.0,232.0 L313.0,231.5 M310.7,229.2 L317.9,229.8 M313.0,231.5 L317.2,232.0 L317.9,229.8 L319.9,229.2 M315.0,227.0 L319.2,227.4 M319.9,229.2 L324.5,231.3 L323.8,234.0 L325.1,234.6 M314.0,234.6 L317.2,234.8 L323.1,235.5 L325.1,234.6 M325.1,234.2 L327.7,234.6 L331.0,236.9 L335.6,237.8 L335.4,240.1 L333.3,241.1 M312.6,239.9 L315.3,240.0 L317.9,239.5 L321.2,241.8 L320.1,243.2 L322.1,243.6 M312.6,239.4 L312.0,240.3 L310.7,242.2 L308.0,242.6 L305.4,242.6 L304.8,241.8 M312.6,244.9 L316.6,245.5 L319.2,245.1 L320.7,245.4 M304.1,243.6 L308.0,243.8 L308.7,245.8 L308.3,247.1 L312.0,247.4 L312.6,244.9 M308.0,243.8 L310.7,242.2 M303.5,243.2 L304.1,243.6 L306.1,244.5 L307.4,247.1 M313.0,248.7 L317.2,248.1 L319.9,247.8 M317.2,248.1 L317.6,249.2 M308.7,248.0 L310.0,247.5 L310.4,249.3 L310.7,249.7 L309.6,250.9 M310.4,249.3 L313.0,248.7 L312.0,247.4 M337.6,248.4 L340.2,248.9 L341.9,250.8 L341.1,254.1 L338.6,254.2 L333.0,254.6 L331.2,254.6 L330.4,255.6 M337.6,248.4 L339.6,247.1 L343.5,248.0 L346.8,248.0 L348.1,249.1 M340.2,248.9 L342.2,248.8 L344.2,249.1 L343.5,251.0 L344.8,251.7 L346.1,252.3 L347.2,252.5 M341.9,250.8 L343.5,251.0 M338.6,254.2 L336.9,257.7 L334.0,259.0 L331.4,260.5 L329.7,260.2 M330.1,259.2 L330.6,257.5 M334.3,260.9 L340.9,264.7 L344.2,264.7 L345.7,264.8 M331.7,261.5 L334.3,260.9 M329.1,264.2 L330.4,264.6 L331.7,261.5 M341.9,254.1 L342.8,256.3 L343.5,259.6 L345.5,260.4 L346.1,262.9 M339.6,280.6 L344.8,280.6 L351.4,278.0 L356.2,274.0 L356.6,270.7 M351.4,278.0 L352.7,281.1 M350.1,270.7 L351.4,272.7 L356.0,273.1 M353.9,253.9 L355.3,253.0 L358.6,253.0 L363.2,255.0 L363.2,257.6 L362.5,258.9 L363.2,261.5 L364.5,264.2 L363.8,270.1 M363.2,263.8 L369.8,264.2 L373.7,261.5 L375.0,258.9 L376.3,255.6 L380.3,254.3 M363.2,255.0 L368.4,253.7 L371.1,253.9 L375.0,253.7 L380.3,254.3 M352.7,247.8 L356.6,248.7 L356.6,243.8 L360.6,243.2 L364.5,245.8 L369.8,246.6 L373.0,249.7 L375.7,249.1 L376.3,247.1 L380.3,246.4 L388.1,247.5 L388.8,243.8 L391.4,243.2 L392.1,240.9 L395.4,241.2 L397.3,238.6 M356.6,248.7 L359.3,247.1 L361.9,247.8 L363.2,249.1 L365.2,251.0 L368.4,253.0 L371.1,253.9 M373.0,249.7 L374.4,251.0 L376.3,251.0 L380.3,251.0 M375.7,249.1 L378.9,250.0 L380.3,251.0 L381.6,253.9 L380.3,254.3 M388.1,247.5 L385.5,249.1 L382.9,249.7 L380.3,251.0 M346.1,241.8 L344.8,238.6 L344.2,239.2 L348.8,235.9 L355.3,236.6 L363.2,235.9 L363.2,232.0 L368.4,231.3 L375.0,230.3 L378.9,232.0 L382.9,231.6 L385.5,233.3 L392.1,235.9 L397.3,238.6 M397.3,238.6 L401.3,236.6 L406.5,236.6 L411.8,234.6 L417.0,235.3 L423.6,237.2 L431.5,237.2 L435.4,237.5 L440.0,232.9 L444.6,232.7 L450.5,237.9 L455.1,240.1 L459.7,239.5 L457.7,243.8 L455.1,247.1 L454.4,247.4 M398.4,238.4 L401.9,243.2 L407.8,244.9 L411.8,247.1 L421.0,248.3 L430.2,245.8 L428.8,243.8 L435.4,241.5 L440.0,241.2 L435.4,237.5 M380.3,254.3 L382.9,256.3 L385.5,256.3 L386.8,260.2 L389.5,263.2 L393.4,265.5 L398.6,266.4 L403.9,266.4 L410.5,265.9 L412.4,269.4 L411.8,271.4 L413.7,274.0 L416.4,275.1 L417.0,273.4 L421.0,272.7 L423.2,273.1 L424.9,274.7 M388.1,265.1 L393.4,266.8 L398.6,268.2 M398.6,266.4 L398.6,268.2 M380.3,254.3 L380.9,257.6 L380.9,260.2 L381.6,262.2 L380.3,263.5 L376.3,266.1 L375.0,268.8 L373.7,271.0 L373.0,271.9 M398.6,268.1 L400.0,269.7 L404.6,270.1 L404.3,274.7 M404.6,270.1 L405.2,271.4 L407.2,269.4 L408.1,267.7 L410.5,266.1 M412.4,289.8 L413.1,281.9 L411.8,279.3 L414.4,276.2 L415.7,274.7 M415.1,276.4 L418.3,279.3 L421.6,284.0 L418.3,284.1 L417.7,287.1 M417.0,273.5 L419.7,276.6 L422.3,279.9 L424.2,283.9 L422.3,287.1 L421.0,289.1 M421.6,284.0 L424.2,283.9 M415.1,294.4 L417.0,295.0 M448.5,253.3 L451.8,252.3 M446.3,250.4 L451.2,247.8 L454.4,247.4 M426.9,300.7 L430.2,300.9 L434.1,299.6 L437.4,297.4 M468.2,306.3 L468.2,314.8 M116.3,228.1 L120.3,231.3 L124.2,228.1 L128.2,231.3 L132.1,228.1 L136.0,231.3 L140.0,228.1 L143.9,231.3 L147.9,228.1 L151.8,231.3 L155.7,228.1 M103.2,226.1 L105.2,227.4 L106.5,228.7 L107.8,230.0 L109.1,230.9 M104.5,225.7 L106.1,226.7 L107.8,228.1 L109.1,229.4 L110.4,230.4 L111.8,231.3 M111.1,233.3 L112.4,234.6 L114.4,235.7 L115.7,236.5 M184.0,360.7 L185.3,363.3 L184.4,365.9 L184.9,368.5 L185.9,371.2 L187.9,373.1 L190.5,374.5 M186.6,357.4 L185.9,360.0 L186.6,362.0 L185.9,364.6 L185.9,367.9 L186.6,370.5 L188.6,372.5 L191.2,373.8 M314.6,253.7 L316.6,254.3 L317.9,253.0 L317.2,251.3 M274.6,228.7 L273.5,227.4 L275.0,226.4"/></g><g clip-path="url(#clip302)" fill="#000" stroke="#000" stroke-width="1.68" stroke-linejoin="round"><path d="M162.3,241.6 L166.2,240.0 L169.5,241.2 L172.0,241.8 L171.5,242.4 L168.2,241.8 L164.9,241.6 L162.3,241.6Z M167.8,244.5 L168.2,248.1 L169.5,247.5 L169.8,245.4 L171.2,242.8 L168.9,242.8 L167.8,244.5Z M172.2,242.8 L174.8,242.6 L178.1,243.4 L177.4,244.5 L175.7,245.1 L174.8,246.3 L173.5,245.4 L173.5,243.8 L172.2,242.8Z M173.6,248.1 L176.7,246.8 L179.4,246.7 L178.7,247.4 L176.1,248.4 L173.6,248.1Z M178.3,246.0 L182.0,245.3 L183.0,244.9 L182.7,245.9 L180.7,246.0 L178.3,246.0Z M153.1,232.3 L155.1,232.0 L156.4,234.6 L156.0,236.6 L155.1,235.3 L153.8,234.0 L153.1,232.3Z M151.1,233.3 L152.1,233.3 L152.5,235.3 L151.5,234.6Z M153.1,235.3 L154.0,235.5 L154.2,237.0 L153.4,236.2Z M148.5,226.7 L149.4,227.0 L149.2,228.7 L148.5,228.1Z M152.5,227.4 L153.8,227.7 L153.4,228.7Z M151.1,232.7 L152.5,232.9 L152.1,233.3Z M144.6,230.3 L145.8,230.4 L145.2,230.8Z M158.0,237.5 L159.0,237.9 L158.6,238.6Z M166.5,237.2 L167.6,237.2 L167.3,238.2 L166.5,237.9Z M186.2,235.3 L187.3,235.7 L186.6,236.6Z M198.4,231.6 L201.0,232.0 L199.7,232.7Z M191.8,231.3 L193.2,231.7 L192.5,232.7Z M181.3,232.3 L183.3,232.4 L182.7,232.9Z M130.8,230.0 L132.4,230.2 L131.4,230.4Z M120.3,228.7 L121.6,229.4 L120.9,230.0Z M135.0,248.3 L135.8,248.3 L135.5,249.3 L135.0,249.1Z M178.7,228.7 L179.6,229.0 L179.1,229.6Z M175.4,233.0 L177.0,233.3 L176.1,233.7Z M324.9,303.6 L326.4,302.5 L327.7,302.9 L328.4,304.2 L327.1,306.2 L325.1,306.2 L324.7,304.9 L324.9,303.6Z M321.4,307.2 L321.8,310.8 L323.1,314.1 L323.8,314.1 L322.5,310.8 L321.8,307.5Z M328.4,315.4 L328.1,318.7 L329.3,321.7 L328.9,318.7 L328.4,315.4Z M419.4,235.0 L421.6,234.8 L425.6,232.9 L427.3,229.8 L425.6,230.7 L422.9,233.3 L420.3,234.4 L419.4,235.0Z M379.6,242.2 L381.6,241.7 L386.8,241.8 L384.2,243.2 L380.9,242.6 L379.6,242.2Z M359.9,242.2 L363.2,242.8 L363.8,244.5 L361.2,245.8 L359.5,244.3 L359.9,242.2Z M300.8,284.8 L302.1,284.5 L302.5,285.8 L301.5,286.1Z M282.4,291.7 L283.4,292.0 L283.0,294.4 L282.6,293.1Z M330.1,297.0 L331.0,297.1 L330.8,299.6 L330.2,298.7Z M191.2,323.3 L192.5,323.0 L192.2,324.3 L191.5,323.9Z M408.2,295.5 L411.1,296.1 L414.8,299.9 L419.3,304.2 L422.3,306.8 L422.3,310.6 L420.3,310.6 L417.4,308.2 L415.6,305.7 L412.8,300.8 L410.5,298.6 L408.2,295.5Z M421.2,311.8 L424.9,311.2 L428.2,312.0 L430.9,312.0 L433.4,313.1 L433.3,314.3 L427.5,313.7 L422.9,312.6 L421.2,311.8Z M434.1,313.8 L439.3,314.2 L444.6,313.8 L440.7,314.6 L435.4,314.6 L434.1,313.8Z M445.9,316.3 L447.5,315.0 L450.2,313.9 L447.2,315.6 L445.9,316.3Z M440.0,310.1 L441.3,310.3 L441.1,306.7 L442.0,306.4 L443.3,309.1 L444.6,308.7 L443.3,306.8 L442.4,305.4 L445.0,304.1 L442.0,304.5 L440.9,302.4 L443.9,302.2 L447.2,300.9 L446.3,302.2 L442.6,302.6 L440.7,303.2 L440.0,307.5 L440.0,310.1Z M440.7,281.9 L441.3,278.6 L443.5,278.6 L443.3,280.6 L442.6,282.5 L443.3,284.5 L445.9,285.8 L445.3,284.8 L443.3,284.6 L441.4,284.1 L440.7,283.2 L440.7,281.9Z M443.3,293.7 L445.9,292.4 L447.9,290.2 L449.2,292.4 L448.5,295.0 L447.6,295.4 L445.9,294.4 L443.3,293.7Z M443.3,289.8 L445.3,288.5 L447.2,287.8 L447.2,289.8 L445.3,290.4 L443.3,289.8Z M450.5,300.5 L451.2,302.2 L451.8,304.0 L450.9,302.9 L450.5,300.5Z M451.2,306.8 L454.8,307.2 L453.1,307.6 L451.2,306.8Z M477.8,310.1 L480.1,309.7 L482.7,308.4 L482.0,310.1 L479.4,311.0 L477.8,310.1Z M486.6,310.8 L489.2,312.7 L493.2,314.7 L495.1,316.0 L491.9,315.4 L487.9,312.1 L486.6,310.8Z M440.8,272.7 L442.0,269.8 L443.3,270.1 L442.6,272.7 L441.7,274.0 L440.8,272.7Z M425.8,278.0 L428.2,276.5 L428.8,277.0 L427.5,279.0 L425.8,278.6 L425.8,278.0Z M453.8,261.8 L455.5,261.7 L456.4,258.9 L455.0,258.3 L453.5,259.3 L453.8,261.8Z M457.1,259.6 L460.0,258.5 L459.0,257.9 L457.1,258.4 L457.1,259.6Z M455.1,257.9 L457.1,256.4 L461.0,256.2 L462.7,253.9 L465.0,253.3 L466.9,251.0 L466.9,248.8 L468.9,248.5 L469.5,251.0 L468.2,253.0 L468.0,255.6 L466.9,256.9 L465.6,257.2 L463.0,257.5 L461.0,258.9 L460.4,257.5 L457.7,257.9 L455.1,257.9Z M466.9,248.4 L468.2,247.1 L468.9,243.4 L470.2,244.2 L474.1,245.8 L471.5,247.8 L468.2,248.0 L466.9,248.4Z M171.5,274.3 L173.5,272.8 L176.7,272.4 L179.4,273.4 L181.3,274.5 L184.0,275.6 L185.7,276.4 L184.6,276.8 L181.3,276.9 L181.1,275.7 L177.4,274.4 L175.4,273.6 L172.8,274.1 L171.5,274.3Z M185.4,278.7 L187.5,276.8 L190.5,276.9 L193.3,278.6 L191.2,279.0 L189.2,279.8 L187.3,279.3 L185.4,278.7Z M180.3,278.7 L182.9,279.0 L182.3,279.4 L180.3,278.7Z M194.9,278.6 L197.0,278.7 L196.7,279.3 L194.9,279.3Z M387.9,290.0 L388.4,290.0 L390.5,293.1 L390.1,294.8 L388.8,295.2 L387.9,294.0 L387.9,290.0Z M78.4,276.4 L79.8,277.3 L78.8,278.1 L78.3,277.2 L78.4,276.4Z M77.4,275.3 L78.3,275.6 L77.7,275.9 L77.4,275.3Z M75.3,274.5 L76.0,274.9 L75.5,274.9 L75.3,274.5Z M73.3,273.8 L73.9,273.8 L73.7,274.1 L73.3,273.8Z M515.9,325.9 L517.6,326.1 L517.2,326.9 L515.9,326.5 L515.9,325.9Z M501.8,322.6 L502.8,323.3 L504.2,325.0 L502.1,323.4 L501.8,322.6Z M498.4,329.4 L502.4,332.0 L501.7,332.3 L498.4,330.1 L498.4,329.4Z M294.4,246.6 L295.4,246.4 L295.6,247.8 L295.2,248.5 L294.4,247.9 L294.4,246.6Z M293.9,249.1 L296.0,249.1 L295.7,251.6 L294.1,251.8 L293.9,249.1Z M299.4,253.0 L303.6,252.7 L302.9,254.7 L299.4,253.5 L299.4,253.0Z M314.0,256.3 L317.6,256.7 L315.3,257.1 L314.0,256.3Z M325.5,257.2 L328.4,256.2 L327.6,257.2 L325.5,257.2Z M297.5,230.0 L299.5,229.4 L299.6,230.3 L298.2,230.7 L297.5,230.0Z M80.2,226.7 L82.9,226.7 L81.6,228.1 L80.2,227.8 L80.2,226.7Z M108.5,232.0 L110.2,232.7 L110.4,234.4 L109.1,233.3 L108.5,232.0Z M114.5,236.2 L119.0,237.2 L120.9,239.2 L119.4,239.1 L116.3,237.2 L114.5,236.2Z M202.6,370.3 L205.6,370.1 L207.2,370.7 L205.6,371.4 L203.7,371.2 L202.6,370.3Z M177.4,238.3 L174.9,237.8 L175.5,239.6Z M184.8,235.1 L184.0,236.1 L185.7,236.1Z M164.8,234.6 L163.2,234.4 L163.7,235.5Z M180.9,229.2 L179.2,229.4 L180.3,230.4Z M189.1,227.1 L187.2,228.3 L189.6,228.8Z M204.4,239.0 L201.6,239.8 L204.0,241.0Z M167.4,238.5 L168.3,239.8 L169.4,238.6Z M170.5,231.9 L168.4,233.0 L170.8,233.7Z M186.1,239.3 L184.4,239.4 L185.4,240.4Z M190.6,234.1 L190.0,235.5 L192.1,235.1Z M180.4,235.7 L180.7,237.7 L183.0,236.5Z M171.3,232.6 L172.7,234.0 L173.7,232.4Z M194.6,236.3 L191.5,236.0 L192.7,238.0Z M179.9,229.9 L178.9,230.9 L180.8,231.0Z M163.6,230.7 L162.8,232.5 L165.5,232.1Z M198.6,235.4 L198.0,237.2 L200.6,236.6Z M185.0,234.3 L187.3,235.7 L187.7,233.6Z M181.6,231.3 L181.8,232.4 L183.2,231.7Z M190.5,226.6 L187.8,227.3 L190.1,228.6Z M164.3,234.2 L162.4,234.0 L163.1,235.2Z M165.5,229.9 L163.8,230.3 L165.1,231.1Z M164.4,234.3 L165.9,235.6 L166.8,234.0Z M197.0,228.4 L195.6,229.4 L197.6,229.8Z M203.4,238.0 L201.5,238.3 L202.8,239.3Z M173.1,233.4 L170.7,233.9 L172.6,235.1Z M162.2,234.2 L161.5,235.6 L163.7,235.3Z M201.8,230.6 L201.5,232.2 L203.7,231.6Z"/></g><g clip-path="url(#clip302)" fill="#000"><circle cx="57.3" cy="321.0" r="1.1"/><circle cx="86.8" cy="326.0" r="1.1"/><circle cx="53.1" cy="330.7" r="1.1"/><circle cx="73.3" cy="330.7" r="1.1"/><circle cx="99.3" cy="314.7" r="1.1"/><circle cx="164.3" cy="303.6" r="1.1"/><circle cx="262.7" cy="265.9" r="1.1"/><circle cx="251.6" cy="281.9" r="1.1"/><circle cx="246.3" cy="252.3" r="1.1"/><circle cx="260.8" cy="260.0" r="1.1"/><circle cx="358.6" cy="329.6" r="1.1"/><circle cx="356.0" cy="330.6" r="1.1"/><circle cx="340.2" cy="318.3" r="1.1"/><circle cx="356.0" cy="308.9" r="1.1"/><circle cx="379.6" cy="299.0" r="1.1"/><circle cx="404.8" cy="287.1" r="1.1"/><circle cx="198.0" cy="260.5" r="1.1"/><circle cx="181.3" cy="270.7" r="1.1"/><circle cx="183.3" cy="271.4" r="1.1"/><circle cx="202.4" cy="282.5" r="1.1"/><circle cx="203.0" cy="285.2" r="1.1"/><circle cx="202.7" cy="289.1" r="1.1"/><circle cx="473.2" cy="285.3" r="1.1"/><circle cx="507.6" cy="293.7" r="1.1"/><circle cx="510.2" cy="300.9" r="1.1"/><circle cx="76.4" cy="300.4" r="1.1"/><circle cx="490.8" cy="293.8" r="1.1"/><circle cx="459.7" cy="293.1" r="1.1"/><circle cx="502.2" cy="303.6" r="1.1"/><circle cx="49.4" cy="327.8" r="1.1"/><circle cx="503.7" cy="324.6" r="1.1"/><circle cx="139.5" cy="338.5" r="1.1"/><circle cx="178.1" cy="347.0" r="1.1"/><circle cx="264.2" cy="313.3" r="1.1"/><circle cx="275.6" cy="323.8" r="1.1"/><circle cx="267.0" cy="351.6" r="1.1"/><circle cx="332.7" cy="364.5" r="1.1"/><circle cx="351.1" cy="363.8" r="1.1"/><circle cx="374.4" cy="367.6" r="1.1"/><circle cx="248.3" cy="378.4" r="1.1"/><circle cx="235.2" cy="374.2" r="1.1"/></g>
<g stroke="#000" stroke-width="1.8" stroke-dasharray="1.7,2.3"><line x1="86.15" y1="38.60" x2="86.15" y2="189.60"/><line x1="151.80" y1="38.60" x2="151.80" y2="189.60"/><line x1="217.45" y1="38.60" x2="217.45" y2="189.60"/><line x1="283.10" y1="38.60" x2="283.10" y2="189.60"/><line x1="348.75" y1="38.60" x2="348.75" y2="189.60"/><line x1="414.40" y1="38.60" x2="414.40" y2="189.60"/><line x1="480.05" y1="38.60" x2="480.05" y2="189.60"/><line x1="50.04" y1="179.75" x2="516.16" y2="179.75"/><line x1="50.04" y1="146.92" x2="516.16" y2="146.92"/><line x1="50.04" y1="114.10" x2="516.16" y2="114.10"/><line x1="50.04" y1="81.28" x2="516.16" y2="81.28"/><line x1="50.04" y1="48.45" x2="516.16" y2="48.45"/></g>
<g stroke="#000" stroke-width="1.8" stroke-dasharray="1.7,2.3"><line x1="86.15" y1="227.40" x2="86.15" y2="378.40"/><line x1="151.80" y1="227.40" x2="151.80" y2="378.40"/><line x1="217.45" y1="227.40" x2="217.45" y2="378.40"/><line x1="283.10" y1="227.40" x2="283.10" y2="378.40"/><line x1="348.75" y1="227.40" x2="348.75" y2="378.40"/><line x1="414.40" y1="227.40" x2="414.40" y2="378.40"/><line x1="480.05" y1="227.40" x2="480.05" y2="378.40"/><line x1="50.04" y1="368.55" x2="516.16" y2="368.55"/><line x1="50.04" y1="335.72" x2="516.16" y2="335.72"/><line x1="50.04" y1="302.90" x2="516.16" y2="302.90"/><line x1="50.04" y1="270.07" x2="516.16" y2="270.07"/><line x1="50.04" y1="237.25" x2="516.16" y2="237.25"/></g>
<rect x="50.04" y="38.60" width="466.12" height="151.00" fill="none" stroke="#000" stroke-width="1.6"/>
<rect x="50.04" y="227.40" width="466.12" height="151.00" fill="none" stroke="#000" stroke-width="1.6"/>
<text x="111.2" y="27.6" font-size="30" stroke="#000" stroke-width="0.25" textLength="343.9" lengthAdjust="spacingAndGlyphs">(c) Non-absorbing AOD</text>
<text x="144.2" y="216.8" font-size="30" stroke="#000" stroke-width="0.25" textLength="277.3" lengthAdjust="spacingAndGlyphs">(d) Absorbing AOD</text>
<g font-size="16.6" stroke="#000" stroke-width="0.35"><text x="44.40" y="53.05" text-anchor="end" textLength="40.23" lengthAdjust="spacingAndGlyphs">50°N</text><text x="44.40" y="85.88" text-anchor="end" textLength="40.23" lengthAdjust="spacingAndGlyphs">25°N</text><text x="44.40" y="118.70" text-anchor="end" textLength="17.23" lengthAdjust="spacingAndGlyphs">0°</text><text x="44.40" y="151.52" text-anchor="end" textLength="39.24" lengthAdjust="spacingAndGlyphs">25°S</text><text x="44.40" y="184.35" text-anchor="end" textLength="39.24" lengthAdjust="spacingAndGlyphs">50°S</text><text x="44.40" y="241.85" text-anchor="end" textLength="40.23" lengthAdjust="spacingAndGlyphs">50°N</text><text x="44.40" y="274.68" text-anchor="end" textLength="40.23" lengthAdjust="spacingAndGlyphs">25°N</text><text x="44.40" y="307.50" text-anchor="end" textLength="17.23" lengthAdjust="spacingAndGlyphs">0°</text><text x="44.40" y="340.32" text-anchor="end" textLength="39.24" lengthAdjust="spacingAndGlyphs">25°S</text><text x="44.40" y="373.15" text-anchor="end" textLength="39.24" lengthAdjust="spacingAndGlyphs">50°S</text></g>
<g font-size="16.6" stroke="#000" stroke-width="0.35"><text x="86.15" y="395.9" text-anchor="middle" textLength="53.98" lengthAdjust="spacingAndGlyphs">150°W</text><text x="151.80" y="395.9" text-anchor="middle" textLength="53.98" lengthAdjust="spacingAndGlyphs">100°W</text><text x="217.45" y="395.9" text-anchor="middle" textLength="44.03" lengthAdjust="spacingAndGlyphs">50°W</text><text x="283.10" y="395.9" text-anchor="middle" textLength="17.15" lengthAdjust="spacingAndGlyphs">0°</text><text x="348.75" y="395.9" text-anchor="middle" textLength="39.06" lengthAdjust="spacingAndGlyphs">50°E</text><text x="414.40" y="395.9" text-anchor="middle" textLength="49.03" lengthAdjust="spacingAndGlyphs">100°E</text><text x="480.05" y="395.9" text-anchor="middle" textLength="49.03" lengthAdjust="spacingAndGlyphs">150°E</text></g>
<rect x="27.80" y="413.8" width="31.59" height="9.199999999999989" fill="#ffffff"/><rect x="59.34" y="413.8" width="31.59" height="9.199999999999989" fill="#f1f1bb"/><rect x="90.88" y="413.8" width="31.59" height="9.199999999999989" fill="#e6e379"/><rect x="122.42" y="413.8" width="31.59" height="9.199999999999989" fill="#e6cf42"/><rect x="153.96" y="413.8" width="31.59" height="9.199999999999989" fill="#e6b716"/><rect x="185.50" y="413.8" width="31.59" height="9.199999999999989" fill="#e69509"/><rect x="217.04" y="413.8" width="31.59" height="9.199999999999989" fill="#eb7308"/><rect x="248.58" y="413.8" width="31.59" height="9.199999999999989" fill="#f8511c"/><rect x="280.12" y="413.8" width="31.59" height="9.199999999999989" fill="#e43c3e"/><rect x="311.66" y="413.8" width="31.59" height="9.199999999999989" fill="#ad366e"/><rect x="343.20" y="413.8" width="31.59" height="9.199999999999989" fill="#802f95"/><rect x="374.74" y="413.8" width="31.59" height="9.199999999999989" fill="#5728b7"/><rect x="406.28" y="413.8" width="31.59" height="9.199999999999989" fill="#3d26a6"/><rect x="437.82" y="413.8" width="31.59" height="9.199999999999989" fill="#292684"/><rect x="469.36" y="413.8" width="31.59" height="9.199999999999989" fill="#141444"/><rect x="500.90" y="413.8" width="31.59" height="9.199999999999989" fill="#000000"/><line x1="90.88" y1="413.8" x2="90.88" y2="423.0" stroke="#000" stroke-width="1"/><line x1="153.96" y1="413.8" x2="153.96" y2="423.0" stroke="#000" stroke-width="1"/><line x1="217.04" y1="413.8" x2="217.04" y2="423.0" stroke="#000" stroke-width="1"/><line x1="280.12" y1="413.8" x2="280.12" y2="423.0" stroke="#000" stroke-width="1"/><line x1="343.20" y1="413.8" x2="343.20" y2="423.0" stroke="#000" stroke-width="1"/><line x1="406.28" y1="413.8" x2="406.28" y2="423.0" stroke="#000" stroke-width="1"/><line x1="469.36" y1="413.8" x2="469.36" y2="423.0" stroke="#000" stroke-width="1"/><rect x="27.8" y="413.8" width="504.64" height="9.199999999999989" fill="none" stroke="#000" stroke-width="1.6"/><text x="27.80" y="450" text-anchor="middle" font-size="25.5" stroke="#000" stroke-width="0.3">0</text><text x="90.88" y="450" text-anchor="middle" font-size="25.5" stroke="#000" stroke-width="0.3">2</text><text x="153.96" y="450" text-anchor="middle" font-size="25.5" stroke="#000" stroke-width="0.3">4</text><text x="217.04" y="450" text-anchor="middle" font-size="25.5" stroke="#000" stroke-width="0.3">6</text><text x="280.12" y="450" text-anchor="middle" font-size="25.5" stroke="#000" stroke-width="0.3">8</text><text x="343.20" y="450" text-anchor="middle" font-size="25.5" stroke="#000" stroke-width="0.3">10</text><text x="406.28" y="450" text-anchor="middle" font-size="25.5" stroke="#000" stroke-width="0.3">12</text><text x="469.36" y="450" text-anchor="middle" font-size="25.5" stroke="#000" stroke-width="0.3">14</text><text x="532.44" y="450" text-anchor="middle" font-size="25.5" stroke="#000" stroke-width="0.3">16</text>
</svg>
</body></html>
